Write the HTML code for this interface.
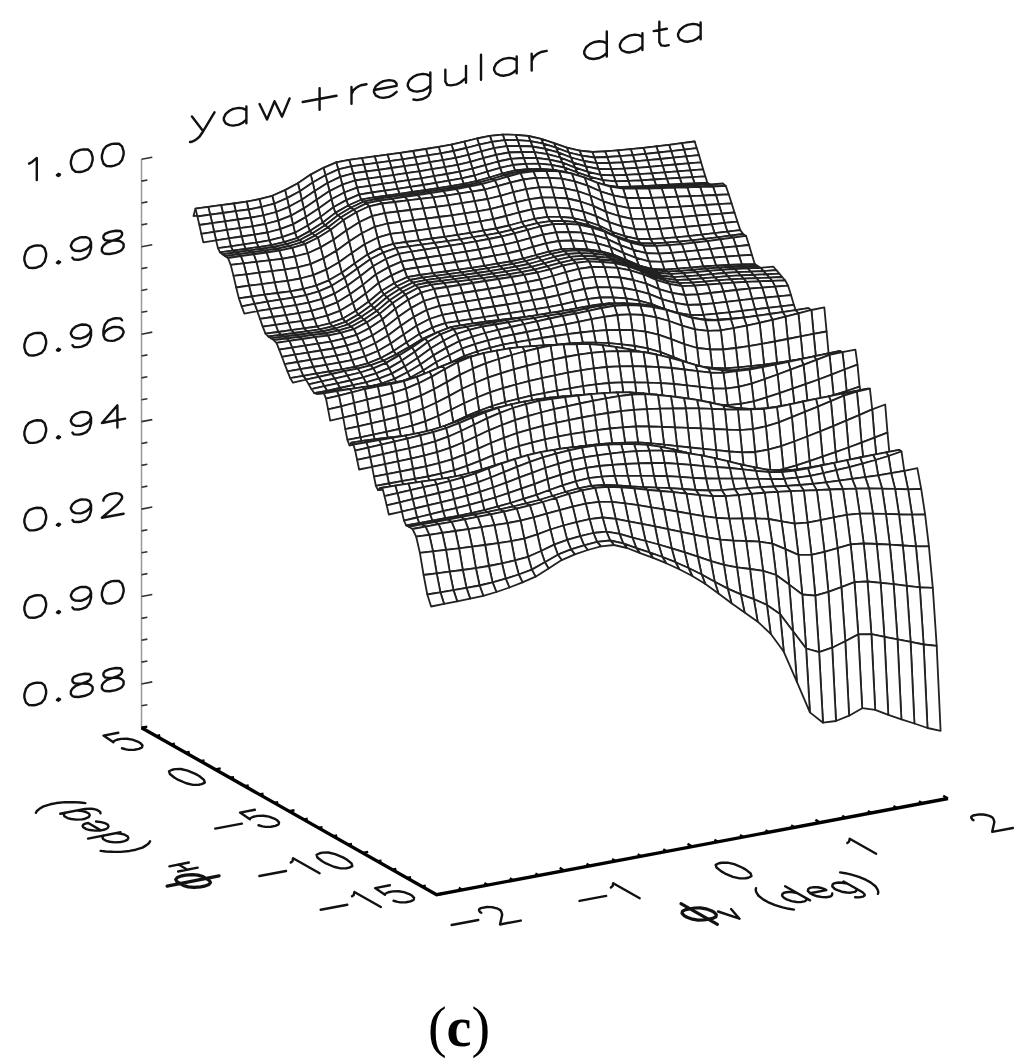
<!DOCTYPE html>
<html><head><meta charset="utf-8"><style>
html,body{margin:0;padding:0;background:#fff;}
svg{display:block;}
text{font-family:"Liberation Serif",serif;fill:#000;}
</style></head><body>
<svg width="1024" height="1063" viewBox="0 0 1024 1063">
<rect width="1024" height="1063" fill="#fff"/>
<g fill="#fff" stroke="#222" stroke-width="1.8" stroke-linejoin="round">
<path d="M679.8 151.0L692.6 149.2 694.7 141.5 681.9 143.2Z"/>
<path d="M667.0 152.6L679.8 151.0 681.9 143.2 669.1 144.8Z"/>
<path d="M681.9 143.2L694.7 141.5 696.8 148.2 684.0 149.6Z"/>
<path d="M654.2 154.2L667.0 152.6 669.1 144.8 656.3 146.3Z"/>
<path d="M669.1 144.8L681.9 143.2 684.0 149.6 671.2 151.1Z"/>
<path d="M684.0 149.6L696.8 148.2 699.0 155.1 686.1 156.4Z"/>
<path d="M641.4 155.7L654.2 154.2 656.3 146.3 643.5 147.8Z"/>
<path d="M656.3 146.3L669.1 144.8 671.2 151.1 658.4 152.5Z"/>
<path d="M671.2 151.1L684.0 149.6 686.1 156.4 673.3 157.7Z"/>
<path d="M686.1 156.4L699.0 155.1 701.1 162.3 688.3 163.4Z"/>
<path d="M628.6 157.2L641.4 155.7 643.5 147.8 630.7 149.2Z"/>
<path d="M643.5 147.8L656.3 146.3 658.4 152.5 645.6 153.9Z"/>
<path d="M658.4 152.5L671.2 151.1 673.3 157.7 660.5 159.0Z"/>
<path d="M673.3 157.7L686.1 156.4 688.3 163.4 675.4 164.5Z"/>
<path d="M688.3 163.4L701.1 162.3 703.2 169.4 690.4 170.4Z"/>
<path d="M615.8 158.4L628.6 157.2 630.7 149.2 617.9 150.4Z"/>
<path d="M630.7 149.2L643.5 147.8 645.6 153.9 632.8 155.1Z"/>
<path d="M645.6 153.9L658.4 152.5 660.5 159.0 647.7 160.2Z"/>
<path d="M660.5 159.0L673.3 157.7 675.4 164.5 662.6 165.6Z"/>
<path d="M675.4 164.5L688.3 163.4 690.4 170.4 677.5 171.3Z"/>
<path d="M690.4 170.4L703.2 169.4 705.3 176.3 692.5 177.1Z"/>
<path d="M603.0 159.4L615.8 158.4 617.9 150.4 605.1 151.3Z"/>
<path d="M617.9 150.4L630.7 149.2 632.8 155.1 620.0 156.2Z"/>
<path d="M632.8 155.1L645.6 153.9 647.7 160.2 634.9 161.4Z"/>
<path d="M647.7 160.2L660.5 159.0 662.6 165.6 649.8 166.8Z"/>
<path d="M662.6 165.6L675.4 164.5 677.5 171.3 664.7 172.3Z"/>
<path d="M677.5 171.3L690.4 170.4 692.5 177.1 679.7 177.9Z"/>
<path d="M692.5 177.1L705.3 176.3 707.4 182.7 694.6 183.3Z"/>
<path d="M710.1 184.5L722.9 183.5 725.8 185.9 713.0 186.5Z"/>
<path d="M590.2 160.1L603.0 159.4 605.1 151.3 592.3 152.0Z"/>
<path d="M605.1 151.3L617.9 150.4 620.0 156.2 607.2 157.0Z"/>
<path d="M620.0 156.2L632.8 155.1 634.9 161.4 622.1 162.3Z"/>
<path d="M694.6 183.3L707.4 182.7 710.1 184.5 697.2 185.0Z"/>
<path d="M634.9 161.4L647.7 160.2 649.8 166.8 637.0 167.8Z"/>
<path d="M649.8 166.8L662.6 165.6 664.7 172.3 651.9 173.3Z"/>
<path d="M664.7 172.3L677.5 171.3 679.7 177.9 666.8 178.7Z"/>
<path d="M679.7 177.9L692.5 177.1 694.6 183.3 681.8 183.9Z"/>
<path d="M713.0 186.5L725.8 185.9 728.7 194.3 715.9 195.0Z"/>
<path d="M697.2 185.0L710.1 184.5 713.0 186.5 700.1 186.9Z"/>
<path d="M577.4 159.1L590.2 160.1 592.3 152.0 579.5 150.6Z"/>
<path d="M592.3 152.0L605.1 151.3 607.2 157.0 594.4 157.5Z"/>
<path d="M607.2 157.0L620.0 156.2 622.1 162.3 609.3 163.0Z"/>
<path d="M681.8 183.9L694.6 183.3 697.2 185.0 684.4 185.5Z"/>
<path d="M622.1 162.3L634.9 161.4 637.0 167.8 624.2 168.7Z"/>
<path d="M637.0 167.8L649.8 166.8 651.9 173.3 639.1 174.2Z"/>
<path d="M651.9 173.3L664.7 172.3 666.8 178.7 654.0 179.5Z"/>
<path d="M666.8 178.7L679.7 177.9 681.8 183.9 668.9 184.6Z"/>
<path d="M715.9 195.0L728.7 194.3 731.6 203.3 718.8 204.2Z"/>
<path d="M700.1 186.9L713.0 186.5 715.9 195.0 703.0 195.6Z"/>
<path d="M684.4 185.5L697.2 185.0 700.1 186.9 687.3 187.3Z"/>
<path d="M564.6 156.4L577.4 159.1 579.5 150.6 566.7 147.7Z"/>
<path d="M579.5 150.6L592.3 152.0 594.4 157.5 581.6 155.6Z"/>
<path d="M594.4 157.5L607.2 157.0 609.3 163.0 596.5 163.2Z"/>
<path d="M668.9 184.6L681.8 183.9 684.4 185.5 671.6 186.1Z"/>
<path d="M609.3 163.0L622.1 162.3 624.2 168.7 611.4 169.2Z"/>
<path d="M624.2 168.7L637.0 167.8 639.1 174.2 626.3 174.9Z"/>
<path d="M639.1 174.2L651.9 173.3 654.0 179.5 641.2 180.4Z"/>
<path d="M654.0 179.5L666.8 178.7 668.9 184.6 656.1 185.4Z"/>
<path d="M718.8 204.2L731.6 203.3 734.5 212.5 721.7 213.6Z"/>
<path d="M703.0 195.6L715.9 195.0 718.8 204.2 705.9 205.0Z"/>
<path d="M687.3 187.3L700.1 186.9 703.0 195.6 690.2 196.1Z"/>
<path d="M671.6 186.1L684.4 185.5 687.3 187.3 674.5 187.7Z"/>
<path d="M551.8 152.0L564.6 156.4 566.7 147.7 553.9 143.1Z"/>
<path d="M566.7 147.7L579.5 150.6 581.6 155.6 568.8 152.5Z"/>
<path d="M581.6 155.6L594.4 157.5 596.5 163.2 583.7 161.0Z"/>
<path d="M656.1 185.4L668.9 184.6 671.6 186.1 658.8 186.8Z"/>
<path d="M596.5 163.2L609.3 163.0 611.4 169.2 598.6 169.0Z"/>
<path d="M611.4 169.2L624.2 168.7 626.3 174.9 613.5 175.4Z"/>
<path d="M626.3 174.9L639.1 174.2 641.2 180.4 628.4 180.9Z"/>
<path d="M641.2 180.4L654.0 179.5 656.1 185.4 643.3 186.1Z"/>
<path d="M721.7 213.6L734.5 212.5 737.4 221.6 724.6 222.9Z"/>
<path d="M705.9 205.0L718.8 204.2 721.7 213.6 708.8 214.7Z"/>
<path d="M690.2 196.1L703.0 195.6 705.9 205.0 693.1 205.8Z"/>
<path d="M674.5 187.7L687.3 187.3 690.2 196.1 677.3 196.7Z"/>
<path d="M658.8 186.8L671.6 186.1 674.5 187.7 661.6 188.2Z"/>
<path d="M539.0 147.6L551.8 152.0 553.9 143.1 541.1 138.9Z"/>
<path d="M553.9 143.1L566.7 147.7 568.8 152.5 556.0 147.6Z"/>
<path d="M568.8 152.5L581.6 155.6 583.7 161.0 570.9 157.5Z"/>
<path d="M643.3 186.1L656.1 185.4 658.8 186.8 645.9 187.5Z"/>
<path d="M583.7 161.0L596.5 163.2 598.6 169.0 585.7 166.4Z"/>
<path d="M598.6 169.0L611.4 169.2 613.5 175.4 600.6 174.8Z"/>
<path d="M613.5 175.4L626.3 174.9 628.4 180.9 615.5 181.3Z"/>
<path d="M628.4 180.9L641.2 180.4 643.3 186.1 630.4 186.6Z"/>
<path d="M724.6 222.9L737.4 221.6 740.3 230.1 727.4 231.7Z"/>
<path d="M708.8 214.7L721.7 213.6 724.6 222.9 711.7 224.3Z"/>
<path d="M693.1 205.8L705.9 205.0 708.8 214.7 696.0 215.7Z"/>
<path d="M677.3 196.7L690.2 196.1 693.1 205.8 680.2 206.6Z"/>
<path d="M661.6 188.2L674.5 187.7 677.3 196.7 664.5 197.3Z"/>
<path d="M645.9 187.5L658.8 186.8 661.6 188.2 648.8 188.6Z"/>
<path d="M526.2 144.6L539.0 147.6 541.1 138.9 528.3 136.0Z"/>
<path d="M541.1 138.9L553.9 143.1 556.0 147.6 543.2 143.7Z"/>
<path d="M556.0 147.6L568.8 152.5 570.9 157.5 558.0 152.4Z"/>
<path d="M630.4 186.6L643.3 186.1 645.9 187.5 633.1 187.9Z"/>
<path d="M570.9 157.5L583.7 161.0 585.7 166.4 572.9 162.6Z"/>
<path d="M585.7 166.4L598.6 169.0 600.6 174.8 587.8 171.8Z"/>
<path d="M600.6 174.8L613.5 175.4 615.5 181.3 602.7 180.2Z"/>
<path d="M615.5 181.3L628.4 180.9 630.4 186.6 617.6 186.8Z"/>
<path d="M727.4 231.7L740.3 230.1 743.2 234.0 730.3 235.7Z"/>
<path d="M711.7 224.3L724.6 222.9 727.4 231.7 714.6 233.2Z"/>
<path d="M696.0 215.7L708.8 214.7 711.7 224.3 698.8 225.6Z"/>
<path d="M680.2 206.6L693.1 205.8 696.0 215.7 683.1 216.8Z"/>
<path d="M664.5 197.3L677.3 196.7 680.2 206.6 667.4 207.3Z"/>
<path d="M648.8 188.6L661.6 188.2 664.5 197.3 651.7 197.8Z"/>
<path d="M633.1 187.9L645.9 187.5 648.8 188.6 636.0 188.7Z"/>
<path d="M513.4 143.1L526.2 144.6 528.3 136.0 515.5 134.8Z"/>
<path d="M528.3 136.0L541.1 138.9 543.2 143.7 530.4 141.1Z"/>
<path d="M543.2 143.7L556.0 147.6 558.0 152.4 545.2 148.9Z"/>
<path d="M617.6 186.8L630.4 186.6 633.1 187.9 620.3 188.0Z"/>
<path d="M558.0 152.4L570.9 157.5 572.9 162.6 560.1 157.5Z"/>
<path d="M572.9 162.6L585.7 166.4 587.8 171.8 575.0 167.6Z"/>
<path d="M587.8 171.8L600.6 174.8 602.7 180.2 589.9 176.9Z"/>
<path d="M602.7 180.2L615.5 181.3 617.6 186.8 604.8 185.2Z"/>
<path d="M730.3 235.7L743.2 234.0 746.1 235.9 733.2 237.7Z"/>
<path d="M714.6 233.2L727.4 231.7 730.3 235.7 717.5 237.3Z"/>
<path d="M698.8 225.6L711.7 224.3 714.6 233.2 701.7 234.7Z"/>
<path d="M683.1 216.8L696.0 215.7 698.8 225.6 686.0 226.8Z"/>
<path d="M667.4 207.3L680.2 206.6 683.1 216.8 670.3 217.7Z"/>
<path d="M651.7 197.8L664.5 197.3 667.4 207.3 654.5 207.9Z"/>
<path d="M636.0 188.7L648.8 188.6 651.7 197.8 638.8 198.0Z"/>
<path d="M620.3 188.0L633.1 187.9 636.0 188.7 623.1 188.6Z"/>
<path d="M500.6 142.8L513.4 143.1 515.5 134.8 502.7 134.6Z"/>
<path d="M515.5 134.8L528.3 136.0 530.4 141.1 517.6 140.2Z"/>
<path d="M530.4 141.1L543.2 143.7 545.2 148.9 532.4 146.5Z"/>
<path d="M604.8 185.2L617.6 186.8 620.3 188.0 607.4 186.1Z"/>
<path d="M545.2 148.9L558.0 152.4 560.1 157.5 547.3 154.2Z"/>
<path d="M560.1 157.5L572.9 162.6 575.0 167.6 562.2 162.5Z"/>
<path d="M575.0 167.6L587.8 171.8 589.9 176.9 577.1 172.4Z"/>
<path d="M589.9 176.9L602.7 180.2 604.8 185.2 592.0 181.7Z"/>
<path d="M733.2 237.7L746.1 235.9 749.0 245.0 736.1 246.4Z"/>
<path d="M717.5 237.3L730.3 235.7 733.2 237.7 720.4 239.4Z"/>
<path d="M701.7 234.7L714.6 233.2 717.5 237.3 704.6 238.9Z"/>
<path d="M686.0 226.8L698.8 225.6 701.7 234.7 688.9 236.2Z"/>
<path d="M670.3 217.7L683.1 216.8 686.0 226.8 673.1 227.9Z"/>
<path d="M654.5 207.9L667.4 207.3 670.3 217.7 657.4 218.4Z"/>
<path d="M638.8 198.0L651.7 197.8 654.5 207.9 641.7 208.2Z"/>
<path d="M623.1 188.6L636.0 188.7 638.8 198.0 626.0 197.9Z"/>
<path d="M607.4 186.1L620.3 188.0 623.1 188.6 610.3 186.6Z"/>
<path d="M487.8 143.8L500.6 142.8 502.7 134.6 489.9 135.9Z"/>
<path d="M502.7 134.6L515.5 134.8 517.6 140.2 504.7 140.2Z"/>
<path d="M517.6 140.2L530.4 141.1 532.4 146.5 519.6 146.0Z"/>
<path d="M592.0 181.7L604.8 185.2 607.4 186.1 594.6 182.4Z"/>
<path d="M532.4 146.5L545.2 148.9 547.3 154.2 534.5 152.2Z"/>
<path d="M547.3 154.2L560.1 157.5 562.2 162.5 549.4 159.6Z"/>
<path d="M562.2 162.5L575.0 167.6 577.1 172.4 564.2 167.5Z"/>
<path d="M577.1 172.4L589.9 176.9 592.0 181.7 579.1 176.8Z"/>
<path d="M736.1 246.4L749.0 245.0 751.9 254.8 739.0 255.7Z"/>
<path d="M720.4 239.4L733.2 237.7 736.1 246.4 723.3 247.7Z"/>
<path d="M704.6 238.9L717.5 237.3 720.4 239.4 707.5 241.1Z"/>
<path d="M688.9 236.2L701.7 234.7 704.6 238.9 691.8 240.4Z"/>
<path d="M673.1 227.9L686.0 226.8 688.9 236.2 676.0 237.4Z"/>
<path d="M657.4 218.4L670.3 217.7 673.1 227.9 660.3 228.8Z"/>
<path d="M641.7 208.2L654.5 207.9 657.4 218.4 644.6 218.9Z"/>
<path d="M626.0 197.9L638.8 198.0 641.7 208.2 628.9 208.1Z"/>
<path d="M610.3 186.6L623.1 188.6 626.0 197.9 613.2 195.3Z"/>
<path d="M594.6 182.4L607.4 186.1 610.3 186.6 597.5 182.9Z"/>
<path d="M475.0 146.2L487.8 143.8 489.9 135.9 477.1 138.5Z"/>
<path d="M489.9 135.9L502.7 134.6 504.7 140.2 491.9 141.9Z"/>
<path d="M504.7 140.2L517.6 140.2 519.6 146.0 506.8 146.2Z"/>
<path d="M579.1 176.8L592.0 181.7 594.6 182.4 581.8 177.3Z"/>
<path d="M519.6 146.0L532.4 146.5 534.5 152.2 521.7 152.0Z"/>
<path d="M534.5 152.2L547.3 154.2 549.4 159.6 536.5 158.0Z"/>
<path d="M549.4 159.6L562.2 162.5 564.2 167.5 551.4 164.8Z"/>
<path d="M564.2 167.5L577.1 172.4 579.1 176.8 566.3 172.2Z"/>
<path d="M739.0 255.7L751.9 254.8 754.8 264.1 741.9 264.5Z"/>
<path d="M723.3 247.7L736.1 246.4 739.0 255.7 726.1 256.6Z"/>
<path d="M707.5 241.1L720.4 239.4 723.3 247.7 710.4 249.1Z"/>
<path d="M691.8 240.4L704.6 238.9 707.5 241.1 694.6 242.7Z"/>
<path d="M676.0 237.4L688.9 236.2 691.8 240.4 678.9 241.7Z"/>
<path d="M660.3 228.8L673.1 227.9 676.0 237.4 663.2 238.4Z"/>
<path d="M644.6 218.9L657.4 218.4 660.3 228.8 647.4 229.3Z"/>
<path d="M628.9 208.1L641.7 208.2 644.6 218.9 631.7 218.8Z"/>
<path d="M613.2 195.3L626.0 197.9 628.9 208.1 616.0 205.4Z"/>
<path d="M597.5 182.9L610.3 186.6 613.2 195.3 600.3 191.3Z"/>
<path d="M581.8 177.3L594.6 182.4 597.5 182.9 584.6 177.7Z"/>
<path d="M462.2 149.3L475.0 146.2 477.1 138.5 464.3 141.6Z"/>
<path d="M477.1 138.5L489.9 135.9 491.9 141.9 479.1 144.7Z"/>
<path d="M491.9 141.9L504.7 140.2 506.8 146.2 494.0 148.2Z"/>
<path d="M566.3 172.2L579.1 176.8 581.8 177.3 568.9 173.0Z"/>
<path d="M506.8 146.2L519.6 146.0 521.7 152.0 508.9 152.5Z"/>
<path d="M521.7 152.0L534.5 152.2 536.5 158.0 523.7 158.0Z"/>
<path d="M536.5 158.0L549.4 159.6 551.4 164.8 538.6 163.6Z"/>
<path d="M551.4 164.8L564.2 167.5 566.3 172.2 553.5 169.8Z"/>
<path d="M741.9 264.5L754.8 264.1 757.7 266.0 744.8 266.5Z"/>
<path d="M726.1 256.6L739.0 255.7 741.9 264.5 729.0 265.0Z"/>
<path d="M710.4 249.1L723.3 247.7 726.1 256.6 713.3 257.6Z"/>
<path d="M694.6 242.7L707.5 241.1 710.4 249.1 697.5 250.4Z"/>
<path d="M678.9 241.7L691.8 240.4 694.6 242.7 681.8 244.1Z"/>
<path d="M663.2 238.4L676.0 237.4 678.9 241.7 666.0 242.7Z"/>
<path d="M647.4 229.3L660.3 228.8 663.2 238.4 650.3 239.1Z"/>
<path d="M631.7 218.8L644.6 218.9 647.4 229.3 634.6 229.2Z"/>
<path d="M616.0 205.4L628.9 208.1 631.7 218.8 618.9 216.0Z"/>
<path d="M600.3 191.3L613.2 195.3 616.0 205.4 603.2 201.3Z"/>
<path d="M584.6 177.7L597.5 182.9 600.3 191.3 587.5 185.6Z"/>
<path d="M568.9 173.0L581.8 177.3 584.6 177.7 571.8 173.7Z"/>
<path d="M449.4 152.3L462.2 149.3 464.3 141.6 451.5 144.6Z"/>
<path d="M464.3 141.6L477.1 138.5 479.1 144.7 466.3 148.0Z"/>
<path d="M479.1 144.7L491.9 141.9 494.0 148.2 481.2 151.3Z"/>
<path d="M553.5 169.8L566.3 172.2 568.9 173.0 556.1 170.6Z"/>
<path d="M494.0 148.2L506.8 146.2 508.9 152.5 496.0 154.8Z"/>
<path d="M508.9 152.5L521.7 152.0 523.7 158.0 510.9 158.8Z"/>
<path d="M523.7 158.0L536.5 158.0 538.6 163.6 525.8 163.8Z"/>
<path d="M538.6 163.6L551.4 164.8 553.5 169.8 540.7 168.9Z"/>
<path d="M760.6 267.8L773.5 266.7 776.4 270.2 763.5 271.1Z"/>
<path d="M744.8 266.5L757.7 266.0 760.6 267.8 747.7 268.4Z"/>
<path d="M729.0 265.0L741.9 264.5 744.8 266.5 731.9 267.0Z"/>
<path d="M713.3 257.6L726.1 256.6 729.0 265.0 716.1 265.6Z"/>
<path d="M697.5 250.4L710.4 249.1 713.3 257.6 700.4 258.6Z"/>
<path d="M681.8 244.1L694.6 242.7 697.5 250.4 684.6 251.7Z"/>
<path d="M666.0 242.7L678.9 241.7 681.8 244.1 668.9 245.1Z"/>
<path d="M650.3 239.1L663.2 238.4 666.0 242.7 653.2 243.5Z"/>
<path d="M634.6 229.2L647.4 229.3 650.3 239.1 637.5 239.0Z"/>
<path d="M618.9 216.0L631.7 218.8 634.6 229.2 621.7 226.4Z"/>
<path d="M603.2 201.3L616.0 205.4 618.9 216.0 606.0 211.9Z"/>
<path d="M587.5 185.6L600.3 191.3 603.2 201.3 590.3 195.5Z"/>
<path d="M571.8 173.7L584.6 177.7 587.5 185.6 574.6 181.3Z"/>
<path d="M556.1 170.6L568.9 173.0 571.8 173.7 559.0 171.4Z"/>
<path d="M436.6 154.7L449.4 152.3 451.5 144.6 438.7 146.9Z"/>
<path d="M451.5 144.6L464.3 141.6 466.3 148.0 453.5 151.0Z"/>
<path d="M466.3 148.0L479.1 144.7 481.2 151.3 468.4 154.8Z"/>
<path d="M540.7 168.9L553.5 169.8 556.1 170.6 543.3 169.9Z"/>
<path d="M481.2 151.3L494.0 148.2 496.0 154.8 483.2 158.2Z"/>
<path d="M496.0 154.8L508.9 152.5 510.9 158.8 498.1 161.5Z"/>
<path d="M510.9 158.8L523.7 158.0 525.8 163.8 513.0 165.0Z"/>
<path d="M525.8 163.8L538.6 163.6 540.7 168.9 527.8 169.1Z"/>
<path d="M763.5 271.1L776.4 270.2 779.3 273.6 766.4 274.3Z"/>
<path d="M747.7 268.4L760.6 267.8 763.5 271.1 750.6 271.6Z"/>
<path d="M731.9 267.0L744.8 266.5 747.7 268.4 734.8 269.0Z"/>
<path d="M716.1 265.6L729.0 265.0 731.9 267.0 719.0 267.7Z"/>
<path d="M700.4 258.6L713.3 257.6 716.1 265.6 703.3 266.5Z"/>
<path d="M684.6 251.7L697.5 250.4 700.4 258.6 687.5 259.8Z"/>
<path d="M668.9 245.1L681.8 244.1 684.6 251.7 671.8 252.8Z"/>
<path d="M653.2 243.5L666.0 242.7 668.9 245.1 656.0 245.9Z"/>
<path d="M637.5 239.0L650.3 239.1 653.2 243.5 640.3 243.2Z"/>
<path d="M621.7 226.4L634.6 229.2 637.5 239.0 624.6 236.1Z"/>
<path d="M606.0 211.9L618.9 216.0 621.7 226.4 608.9 222.2Z"/>
<path d="M590.3 195.5L603.2 201.3 606.0 211.9 593.2 205.9Z"/>
<path d="M574.6 181.3L587.5 185.6 590.3 195.5 577.5 191.1Z"/>
<path d="M559.0 171.4L571.8 173.7 574.6 181.3 561.8 178.6Z"/>
<path d="M543.3 169.9L556.1 170.6 559.0 171.4 546.1 170.9Z"/>
<path d="M423.8 156.8L436.6 154.7 438.7 146.9 425.9 149.0Z"/>
<path d="M438.7 146.9L451.5 144.6 453.5 151.0 440.7 153.3Z"/>
<path d="M453.5 151.0L466.3 148.0 468.4 154.8 455.6 157.8Z"/>
<path d="M527.8 169.1L540.7 168.9 543.3 169.9 530.4 170.2Z"/>
<path d="M468.4 154.8L481.2 151.3 483.2 158.2 470.4 161.8Z"/>
<path d="M483.2 158.2L496.0 154.8 498.1 161.5 485.3 165.1Z"/>
<path d="M498.1 161.5L510.9 158.8 513.0 165.0 500.1 167.9Z"/>
<path d="M513.0 165.0L525.8 163.8 527.8 169.1 515.0 170.5Z"/>
<path d="M766.4 274.3L779.3 273.6 782.2 277.0 769.3 277.6Z"/>
<path d="M750.6 271.6L763.5 271.1 766.4 274.3 753.5 274.9Z"/>
<path d="M734.8 269.0L747.7 268.4 750.6 271.6 737.7 272.2Z"/>
<path d="M719.0 267.7L731.9 267.0 734.8 269.0 721.9 269.8Z"/>
<path d="M703.3 266.5L716.1 265.6 719.0 267.7 706.1 268.7Z"/>
<path d="M687.5 259.8L700.4 258.6 703.3 266.5 690.4 267.6Z"/>
<path d="M671.8 252.8L684.6 251.7 687.5 259.8 674.6 260.9Z"/>
<path d="M656.0 245.9L668.9 245.1 671.8 252.8 658.9 253.6Z"/>
<path d="M640.3 243.2L653.2 243.5 656.0 245.9 643.2 245.5Z"/>
<path d="M624.6 236.1L637.5 239.0 640.3 243.2 627.5 240.2Z"/>
<path d="M608.9 222.2L621.7 226.4 624.6 236.1 611.7 231.8Z"/>
<path d="M593.2 205.9L606.0 211.9 608.9 222.2 596.0 216.1Z"/>
<path d="M577.5 191.1L590.3 195.5 593.2 205.9 580.3 201.5Z"/>
<path d="M561.8 178.6L574.6 181.3 577.5 191.1 564.6 188.3Z"/>
<path d="M546.1 170.9L559.0 171.4 561.8 178.6 549.0 177.8Z"/>
<path d="M530.4 170.2L543.3 169.9 546.1 170.9 533.3 171.3Z"/>
<path d="M411.1 158.8L423.8 156.8 425.9 149.0 413.1 151.0Z"/>
<path d="M425.9 149.0L438.7 146.9 440.7 153.3 427.9 155.4Z"/>
<path d="M440.7 153.3L453.5 151.0 455.6 157.8 442.8 160.1Z"/>
<path d="M515.0 170.5L527.8 169.1 530.4 170.2 517.6 171.8Z"/>
<path d="M455.6 157.8L468.4 154.8 470.4 161.8 457.6 164.8Z"/>
<path d="M470.4 161.8L483.2 158.2 485.3 165.1 472.5 168.7Z"/>
<path d="M485.3 165.1L498.1 161.5 500.1 167.9 487.3 171.7Z"/>
<path d="M500.1 167.9L513.0 165.0 515.0 170.5 502.2 173.7Z"/>
<path d="M769.3 277.6L782.2 277.0 785.1 280.3 772.2 280.9Z"/>
<path d="M753.5 274.9L766.4 274.3 769.3 277.6 756.4 278.1Z"/>
<path d="M737.7 272.2L750.6 271.6 753.5 274.9 740.6 275.4Z"/>
<path d="M721.9 269.8L734.8 269.0 737.7 272.2 724.8 273.0Z"/>
<path d="M706.1 268.7L719.0 267.7 721.9 269.8 709.0 270.8Z"/>
<path d="M690.4 267.6L703.3 266.5 706.1 268.7 693.3 269.9Z"/>
<path d="M674.6 260.9L687.5 259.8 690.4 267.6 677.5 268.7Z"/>
<path d="M658.9 253.6L671.8 252.8 674.6 260.9 661.8 261.8Z"/>
<path d="M643.2 245.5L656.0 245.9 658.9 253.6 646.0 253.1Z"/>
<path d="M627.5 240.2L640.3 243.2 643.2 245.5 630.3 242.5Z"/>
<path d="M611.7 231.8L624.6 236.1 627.5 240.2 614.6 235.7Z"/>
<path d="M596.0 216.1L608.9 222.2 611.7 231.8 598.9 225.5Z"/>
<path d="M580.3 201.5L593.2 205.9 596.0 216.1 583.2 211.7Z"/>
<path d="M564.6 188.3L577.5 191.1 580.3 201.5 567.5 198.5Z"/>
<path d="M549.0 177.8L561.8 178.6 564.6 188.3 551.8 187.4Z"/>
<path d="M533.3 171.3L546.1 170.9 549.0 177.8 536.1 177.8Z"/>
<path d="M517.6 171.8L530.4 170.2 533.3 171.3 520.4 173.1Z"/>
<path d="M398.3 160.7L411.1 158.8 413.1 151.0 400.3 152.9Z"/>
<path d="M772.2 280.9L785.1 280.3 788.1 285.7 775.1 286.7Z"/>
<path d="M413.1 151.0L425.9 149.0 427.9 155.4 415.1 157.4Z"/>
<path d="M427.9 155.4L440.7 153.3 442.8 160.1 429.9 162.2Z"/>
<path d="M502.2 173.7L515.0 170.5 517.6 171.8 504.8 175.1Z"/>
<path d="M442.8 160.1L455.6 157.8 457.6 164.8 444.8 167.1Z"/>
<path d="M457.6 164.8L470.4 161.8 472.5 168.7 459.6 171.7Z"/>
<path d="M472.5 168.7L485.3 165.1 487.3 171.7 474.5 175.5Z"/>
<path d="M487.3 171.7L500.1 167.9 502.2 173.7 489.4 177.5Z"/>
<path d="M756.4 278.1L769.3 277.6 772.2 280.9 759.3 281.3Z"/>
<path d="M740.6 275.4L753.5 274.9 756.4 278.1 743.5 278.6Z"/>
<path d="M724.8 273.0L737.7 272.2 740.6 275.4 727.7 276.2Z"/>
<path d="M709.0 270.8L721.9 269.8 724.8 273.0 711.9 274.1Z"/>
<path d="M693.3 269.9L706.1 268.7 709.0 270.8 696.2 272.1Z"/>
<path d="M677.5 268.7L690.4 267.6 693.3 269.9 680.4 270.9Z"/>
<path d="M661.8 261.8L674.6 260.9 677.5 268.7 664.6 269.7Z"/>
<path d="M646.0 253.1L658.9 253.6 661.8 261.8 648.9 261.3Z"/>
<path d="M630.3 242.5L643.2 245.5 646.0 253.1 633.2 249.9Z"/>
<path d="M614.6 235.7L627.5 240.2 630.3 242.5 617.5 237.8Z"/>
<path d="M598.9 225.5L611.7 231.8 614.6 235.7 601.7 229.5Z"/>
<path d="M583.2 211.7L596.0 216.1 598.9 225.5 586.0 221.1Z"/>
<path d="M567.5 198.5L580.3 201.5 583.2 211.7 570.3 208.6Z"/>
<path d="M551.8 187.4L564.6 188.3 567.5 198.5 554.6 197.6Z"/>
<path d="M536.1 177.8L549.0 177.8 551.8 187.4 539.0 187.4Z"/>
<path d="M520.4 173.1L533.3 171.3 536.1 177.8 523.3 179.5Z"/>
<path d="M775.1 286.7L788.1 285.7 791.0 295.1 778.1 296.3Z"/>
<path d="M504.8 175.1L517.6 171.8 520.4 173.1 507.6 176.6Z"/>
<path d="M385.5 162.5L398.3 160.7 400.3 152.9 387.5 154.7Z"/>
<path d="M759.3 281.3L772.2 280.9 775.1 286.7 762.2 287.6Z"/>
<path d="M400.3 152.9L413.1 151.0 415.1 157.4 402.3 159.3Z"/>
<path d="M415.1 157.4L427.9 155.4 429.9 162.2 417.1 164.3Z"/>
<path d="M489.4 177.5L502.2 173.7 504.8 175.1 492.0 179.0Z"/>
<path d="M429.9 162.2L442.8 160.1 444.8 167.1 432.0 169.2Z"/>
<path d="M444.8 167.1L457.6 164.8 459.6 171.7 446.8 174.0Z"/>
<path d="M459.6 171.7L472.5 168.7 474.5 175.5 461.7 178.4Z"/>
<path d="M474.5 175.5L487.3 171.7 489.4 177.5 476.5 181.1Z"/>
<path d="M743.5 278.6L756.4 278.1 759.3 281.3 746.4 281.9Z"/>
<path d="M727.7 276.2L740.6 275.4 743.5 278.6 730.6 279.4Z"/>
<path d="M711.9 274.1L724.8 273.0 727.7 276.2 714.8 277.3Z"/>
<path d="M696.2 272.1L709.0 270.8 711.9 274.1 699.0 275.3Z"/>
<path d="M680.4 270.9L693.3 269.9 696.2 272.1 683.3 273.2Z"/>
<path d="M664.6 269.7L677.5 268.7 680.4 270.9 667.5 271.6Z"/>
<path d="M648.9 261.3L661.8 261.8 664.6 269.7 651.8 268.9Z"/>
<path d="M633.2 249.9L646.0 253.1 648.9 261.3 636.0 257.9Z"/>
<path d="M617.5 237.8L630.3 242.5 633.2 249.9 620.3 245.1Z"/>
<path d="M601.7 229.5L614.6 235.7 617.5 237.8 604.6 231.7Z"/>
<path d="M586.0 221.1L598.9 225.5 601.7 229.5 588.9 225.1Z"/>
<path d="M570.3 208.6L583.2 211.7 586.0 221.1 573.2 218.0Z"/>
<path d="M554.6 197.6L567.5 198.5 570.3 208.6 557.5 207.6Z"/>
<path d="M539.0 187.4L551.8 187.4 554.6 197.6 541.8 197.5Z"/>
<path d="M523.3 179.5L536.1 177.8 539.0 187.4 526.1 189.1Z"/>
<path d="M778.1 296.3L791.0 295.1 793.9 304.9 781.0 306.4Z"/>
<path d="M507.6 176.6L520.4 173.1 523.3 179.5 510.4 182.6Z"/>
<path d="M762.2 287.6L775.1 286.7 778.1 296.3 765.2 297.6Z"/>
<path d="M492.0 179.0L504.8 175.1 507.6 176.6 494.8 180.5Z"/>
<path d="M372.7 164.2L385.5 162.5 387.5 154.7 374.7 156.4Z"/>
<path d="M746.4 281.9L759.3 281.3 762.2 287.6 749.3 288.7Z"/>
<path d="M387.5 154.7L400.3 152.9 402.3 159.3 389.5 161.1Z"/>
<path d="M402.3 159.3L415.1 157.4 417.1 164.3 404.3 166.2Z"/>
<path d="M476.5 181.1L489.4 177.5 492.0 179.0 479.1 182.7Z"/>
<path d="M417.1 164.3L429.9 162.2 432.0 169.2 419.2 171.3Z"/>
<path d="M432.0 169.2L444.8 167.1 446.8 174.0 434.0 176.2Z"/>
<path d="M446.8 174.0L459.6 171.7 461.7 178.4 448.8 180.7Z"/>
<path d="M461.7 178.4L474.5 175.5 476.5 181.1 463.7 183.8Z"/>
<path d="M730.6 279.4L743.5 278.6 746.4 281.9 733.5 282.6Z"/>
<path d="M714.8 277.3L727.7 276.2 730.6 279.4 717.7 280.4Z"/>
<path d="M699.0 275.3L711.9 274.1 714.8 277.3 701.9 278.4Z"/>
<path d="M683.3 273.2L696.2 272.1 699.0 275.3 686.2 276.3Z"/>
<path d="M667.5 271.6L680.4 270.9 683.3 273.2 670.4 274.1Z"/>
<path d="M651.8 268.9L664.6 269.7 667.5 271.6 654.6 270.4Z"/>
<path d="M636.0 257.9L648.9 261.3 651.8 268.9 638.9 265.5Z"/>
<path d="M620.3 245.1L633.2 249.9 636.0 257.9 623.2 252.9Z"/>
<path d="M604.6 231.7L617.5 237.8 620.3 245.1 607.4 239.1Z"/>
<path d="M588.9 225.1L601.7 229.5 604.6 231.7 591.7 227.6Z"/>
<path d="M573.2 218.0L586.0 221.1 588.9 225.1 576.0 222.1Z"/>
<path d="M557.5 207.6L570.3 208.6 573.2 218.0 560.3 216.9Z"/>
<path d="M541.8 197.5L554.6 197.6 557.5 207.6 544.6 207.5Z"/>
<path d="M526.1 189.1L539.0 187.4 541.8 197.5 528.9 199.3Z"/>
<path d="M781.0 306.4L793.9 304.9 796.8 313.8 783.9 315.5Z"/>
<path d="M510.4 182.6L523.3 179.5 526.1 189.1 513.3 192.2Z"/>
<path d="M765.2 297.6L778.1 296.3 781.0 306.4 768.1 307.8Z"/>
<path d="M494.8 180.5L507.6 176.6 510.4 182.6 497.6 186.2Z"/>
<path d="M749.3 288.7L762.2 287.6 765.2 297.6 752.2 298.9Z"/>
<path d="M479.1 182.7L492.0 179.0 494.8 180.5 481.9 184.1Z"/>
<path d="M359.9 165.9L372.7 164.2 374.7 156.4 361.9 158.1Z"/>
<path d="M733.5 282.6L746.4 281.9 749.3 288.7 736.4 290.0Z"/>
<path d="M374.7 156.4L387.5 154.7 389.5 161.1 376.7 162.8Z"/>
<path d="M389.5 161.1L402.3 159.3 404.3 166.2 391.5 168.0Z"/>
<path d="M463.7 183.8L476.5 181.1 479.1 182.7 466.3 185.3Z"/>
<path d="M404.3 166.2L417.1 164.3 419.2 171.3 406.3 173.2Z"/>
<path d="M419.2 171.3L432.0 169.2 434.0 176.2 421.2 178.3Z"/>
<path d="M434.0 176.2L446.8 174.0 448.8 180.7 436.0 182.9Z"/>
<path d="M448.8 180.7L461.7 178.4 463.7 183.8 450.9 186.1Z"/>
<path d="M717.7 280.4L730.6 279.4 733.5 282.6 720.6 283.6Z"/>
<path d="M701.9 278.4L714.8 277.3 717.7 280.4 704.8 281.6Z"/>
<path d="M686.2 276.3L699.0 275.3 701.9 278.4 689.0 279.5Z"/>
<path d="M670.4 274.1L683.3 273.2 686.2 276.3 673.3 277.2Z"/>
<path d="M654.6 270.4L667.5 271.6 670.4 274.1 657.5 272.7Z"/>
<path d="M638.9 265.5L651.8 268.9 654.6 270.4 641.7 266.7Z"/>
<path d="M623.2 252.9L636.0 257.9 638.9 265.5 626.0 260.2Z"/>
<path d="M607.4 239.1L620.3 245.1 623.2 252.9 610.3 247.1Z"/>
<path d="M591.7 227.6L604.6 231.7 607.4 239.1 594.6 235.2Z"/>
<path d="M576.0 222.1L588.9 225.1 591.7 227.6 578.9 224.7Z"/>
<path d="M560.3 216.9L573.2 218.0 576.0 222.1 563.2 221.0Z"/>
<path d="M544.6 207.5L557.5 207.6 560.3 216.9 547.5 216.9Z"/>
<path d="M528.9 199.3L541.8 197.5 544.6 207.5 531.8 209.4Z"/>
<path d="M783.9 315.5L796.8 313.8 799.7 314.5 786.8 316.3Z"/>
<path d="M513.3 192.2L526.1 189.1 528.9 199.3 516.1 202.4Z"/>
<path d="M768.1 307.8L781.0 306.4 783.9 315.5 771.0 317.3Z"/>
<path d="M497.6 186.2L510.4 182.6 513.3 192.2 500.4 195.8Z"/>
<path d="M752.2 298.9L765.2 297.6 768.1 307.8 755.1 309.3Z"/>
<path d="M481.9 184.1L494.8 180.5 497.6 186.2 484.8 189.5Z"/>
<path d="M736.4 290.0L749.3 288.7 752.2 298.9 739.3 300.3Z"/>
<path d="M466.3 185.3L479.1 182.7 481.9 184.1 469.1 186.7Z"/>
<path d="M347.1 167.6L359.9 165.9 361.9 158.1 349.1 159.8Z"/>
<path d="M720.6 283.6L733.5 282.6 736.4 290.0 723.5 291.5Z"/>
<path d="M361.9 158.1L374.7 156.4 376.7 162.8 363.9 164.6Z"/>
<path d="M376.7 162.8L389.5 161.1 391.5 168.0 378.7 169.8Z"/>
<path d="M450.9 186.1L463.7 183.8 466.3 185.3 453.5 187.6Z"/>
<path d="M391.5 168.0L404.3 166.2 406.3 173.2 393.5 175.1Z"/>
<path d="M406.3 173.2L419.2 171.3 421.2 178.3 408.4 180.2Z"/>
<path d="M421.2 178.3L434.0 176.2 436.0 182.9 423.2 185.0Z"/>
<path d="M436.0 182.9L448.8 180.7 450.9 186.1 438.1 188.2Z"/>
<path d="M704.8 281.6L717.7 280.4 720.6 283.6 707.7 284.7Z"/>
<path d="M689.0 279.5L701.9 278.4 704.8 281.6 691.9 282.6Z"/>
<path d="M673.3 277.2L686.2 276.3 689.0 279.5 676.2 280.2Z"/>
<path d="M657.5 272.7L670.4 274.1 673.3 277.2 660.4 275.4Z"/>
<path d="M641.7 266.7L654.6 270.4 657.5 272.7 644.6 269.1Z"/>
<path d="M626.0 260.2L638.9 265.5 641.7 266.7 628.9 261.2Z"/>
<path d="M610.3 247.1L623.2 252.9 626.0 260.2 613.1 254.6Z"/>
<path d="M594.6 235.2L607.4 239.1 610.3 247.1 597.4 243.4Z"/>
<path d="M578.9 224.7L591.7 227.6 594.6 235.2 581.7 232.7Z"/>
<path d="M563.2 221.0L576.0 222.1 578.9 224.7 566.0 223.9Z"/>
<path d="M547.5 216.9L560.3 216.9 563.2 221.0 550.3 221.1Z"/>
<path d="M531.8 209.4L544.6 207.5 547.5 216.9 534.6 218.8Z"/>
<path d="M786.8 316.3L799.7 314.5 802.6 312.6 789.7 314.4Z"/>
<path d="M516.1 202.4L528.9 199.3 531.8 209.4 518.9 212.5Z"/>
<path d="M771.0 317.3L783.9 315.5 786.8 316.3 773.9 318.1Z"/>
<path d="M500.4 195.8L513.3 192.2 516.1 202.4 503.2 205.9Z"/>
<path d="M755.1 309.3L768.1 307.8 771.0 317.3 758.0 318.9Z"/>
<path d="M484.8 189.5L497.6 186.2 500.4 195.8 487.6 199.0Z"/>
<path d="M739.3 300.3L752.2 298.9 755.1 309.3 742.2 310.9Z"/>
<path d="M469.1 186.7L481.9 184.1 484.8 189.5 471.9 191.7Z"/>
<path d="M723.5 291.5L736.4 290.0 739.3 300.3 726.4 301.8Z"/>
<path d="M453.5 187.6L466.3 185.3 469.1 186.7 456.3 189.0Z"/>
<path d="M334.3 169.8L347.1 167.6 349.1 159.8 336.3 162.4Z"/>
<path d="M707.7 284.7L720.6 283.6 723.5 291.5 710.6 293.0Z"/>
<path d="M349.1 159.8L361.9 158.1 363.9 164.6 351.1 166.3Z"/>
<path d="M363.9 164.6L376.7 162.8 378.7 169.8 365.9 171.5Z"/>
<path d="M438.1 188.2L450.9 186.1 453.5 187.6 440.6 189.7Z"/>
<path d="M378.7 169.8L391.5 168.0 393.5 175.1 380.7 176.9Z"/>
<path d="M393.5 175.1L406.3 173.2 408.4 180.2 395.5 182.1Z"/>
<path d="M408.4 180.2L421.2 178.3 423.2 185.0 410.4 186.9Z"/>
<path d="M423.2 185.0L436.0 182.9 438.1 188.2 425.2 190.2Z"/>
<path d="M691.9 282.6L704.8 281.6 707.7 284.7 694.8 285.7Z"/>
<path d="M676.2 280.2L689.0 279.5 691.9 282.6 679.0 283.2Z"/>
<path d="M660.4 275.4L673.3 277.2 676.2 280.2 663.3 278.2Z"/>
<path d="M644.6 269.1L657.5 272.7 660.4 275.4 647.5 271.7Z"/>
<path d="M628.9 261.2L641.7 266.7 644.6 269.1 631.7 263.4Z"/>
<path d="M613.1 254.6L626.0 260.2 628.9 261.2 616.0 255.9Z"/>
<path d="M597.4 243.4L610.3 247.1 613.1 254.6 600.3 251.2Z"/>
<path d="M581.7 232.7L594.6 235.2 597.4 243.4 584.5 241.2Z"/>
<path d="M566.0 223.9L578.9 224.7 581.7 232.7 568.8 232.0Z"/>
<path d="M550.3 221.1L563.2 221.0 566.0 223.9 553.1 224.2Z"/>
<path d="M534.6 218.8L547.5 216.9 550.3 221.1 537.4 223.2Z"/>
<path d="M789.7 314.4L802.6 312.6 805.5 309.9 792.6 311.6Z"/>
<path d="M518.9 212.5L531.8 209.4 534.6 218.8 521.8 222.0Z"/>
<path d="M773.9 318.1L786.8 316.3 789.7 314.4 776.8 316.1Z"/>
<path d="M503.2 205.9L516.1 202.4 518.9 212.5 506.1 216.0Z"/>
<path d="M758.0 318.9L771.0 317.3 773.9 318.1 760.9 319.9Z"/>
<path d="M487.6 199.0L500.4 195.8 503.2 205.9 490.4 209.1Z"/>
<path d="M742.2 310.9L755.1 309.3 758.0 318.9 745.1 320.5Z"/>
<path d="M471.9 191.7L484.8 189.5 487.6 199.0 474.7 201.2Z"/>
<path d="M726.4 301.8L739.3 300.3 742.2 310.9 729.3 312.4Z"/>
<path d="M456.3 189.0L469.1 186.7 471.9 191.7 459.1 193.7Z"/>
<path d="M710.6 293.0L723.5 291.5 726.4 301.8 713.5 303.3Z"/>
<path d="M440.6 189.7L453.5 187.6 456.3 189.0 443.4 191.2Z"/>
<path d="M321.5 175.0L334.3 169.8 336.3 162.4 323.5 167.8Z"/>
<path d="M694.8 285.7L707.7 284.7 710.6 293.0 697.7 294.3Z"/>
<path d="M336.3 162.4L349.1 159.8 351.1 166.3 338.3 169.4Z"/>
<path d="M351.1 166.3L363.9 164.6 365.9 171.5 353.1 173.3Z"/>
<path d="M425.2 190.2L438.1 188.2 440.6 189.7 427.8 191.7Z"/>
<path d="M365.9 171.5L378.7 169.8 380.7 176.9 367.9 178.7Z"/>
<path d="M380.7 176.9L393.5 175.1 395.5 182.1 382.7 183.9Z"/>
<path d="M395.5 182.1L408.4 180.2 410.4 186.9 397.6 188.8Z"/>
<path d="M410.4 186.9L423.2 185.0 425.2 190.2 412.4 192.0Z"/>
<path d="M679.0 283.2L691.9 282.6 694.8 285.7 681.9 286.1Z"/>
<path d="M663.3 278.2L676.2 280.2 679.0 283.2 666.1 280.9Z"/>
<path d="M647.5 271.7L660.4 275.4 663.3 278.2 650.4 274.3Z"/>
<path d="M631.7 263.4L644.6 269.1 647.5 271.7 634.6 265.9Z"/>
<path d="M616.0 255.9L628.9 261.2 631.7 263.4 618.8 258.4Z"/>
<path d="M600.3 251.2L613.1 254.6 616.0 255.9 603.1 252.6Z"/>
<path d="M584.5 241.2L597.4 243.4 600.3 251.2 587.4 249.3Z"/>
<path d="M568.8 232.0L581.7 232.7 584.5 241.2 571.7 240.5Z"/>
<path d="M553.1 224.2L566.0 223.9 568.8 232.0 556.0 232.3Z"/>
<path d="M537.4 223.2L550.3 221.1 553.1 224.2 540.3 226.5Z"/>
<path d="M792.6 311.6L805.5 309.9 808.5 308.2 795.5 310.1Z"/>
<path d="M521.8 222.0L534.6 218.8 537.4 223.2 524.6 226.4Z"/>
<path d="M776.8 316.1L789.7 314.4 792.6 311.6 779.7 313.3Z"/>
<path d="M506.1 216.0L518.9 212.5 521.8 222.0 508.9 225.5Z"/>
<path d="M760.9 319.9L773.9 318.1 776.8 316.1 763.9 317.7Z"/>
<path d="M490.4 209.1L503.2 205.9 506.1 216.0 493.2 219.1Z"/>
<path d="M745.1 320.5L758.0 318.9 760.9 319.9 748.0 321.5Z"/>
<path d="M474.7 201.2L487.6 199.0 490.4 209.1 477.6 211.3Z"/>
<path d="M729.3 312.4L742.2 310.9 745.1 320.5 732.2 322.0Z"/>
<path d="M459.1 193.7L471.9 191.7 474.7 201.2 461.9 203.2Z"/>
<path d="M713.5 303.3L726.4 301.8 729.3 312.4 716.4 313.7Z"/>
<path d="M443.4 191.2L456.3 189.0 459.1 193.7 446.2 195.6Z"/>
<path d="M697.7 294.3L710.6 293.0 713.5 303.3 700.6 304.5Z"/>
<path d="M427.8 191.7L440.6 189.7 443.4 191.2 430.6 193.2Z"/>
<path d="M308.7 181.5L321.5 175.0 323.5 167.8 310.7 174.6Z"/>
<path d="M681.9 286.1L694.8 285.7 697.7 294.3 684.8 295.0Z"/>
<path d="M323.5 167.8L336.3 162.4 338.3 169.4 325.5 175.2Z"/>
<path d="M338.3 169.4L351.1 166.3 353.1 173.3 340.3 176.9Z"/>
<path d="M412.4 192.0L425.2 190.2 427.8 191.7 415.0 193.6Z"/>
<path d="M353.1 173.3L365.9 171.5 367.9 178.7 355.1 180.5Z"/>
<path d="M367.9 178.7L380.7 176.9 382.7 183.9 369.9 185.8Z"/>
<path d="M382.7 183.9L395.5 182.1 397.6 188.8 384.7 190.7Z"/>
<path d="M397.6 188.8L410.4 186.9 412.4 192.0 399.6 193.8Z"/>
<path d="M666.1 280.9L679.0 283.2 681.9 286.1 669.0 283.8Z"/>
<path d="M650.4 274.3L663.3 278.2 666.1 280.9 653.2 276.9Z"/>
<path d="M634.6 265.9L647.5 271.7 650.4 274.3 637.5 268.3Z"/>
<path d="M618.8 258.4L631.7 263.4 634.6 265.9 621.7 261.0Z"/>
<path d="M603.1 252.6L616.0 255.9 618.8 258.4 606.0 255.2Z"/>
<path d="M587.4 249.3L600.3 251.2 603.1 252.6 590.2 251.0Z"/>
<path d="M571.7 240.5L584.5 241.2 587.4 249.3 574.5 248.6Z"/>
<path d="M556.0 232.3L568.8 232.0 571.7 240.5 558.8 241.0Z"/>
<path d="M811.4 310.0L824.3 307.3 826.6 331.5 813.6 333.8Z"/>
<path d="M540.3 226.5L553.1 224.2 556.0 232.3 543.1 234.7Z"/>
<path d="M795.5 310.1L808.5 308.2 811.4 310.0 798.4 313.4Z"/>
<path d="M524.6 226.4L537.4 223.2 540.3 226.5 527.4 229.8Z"/>
<path d="M779.7 313.3L792.6 311.6 795.5 310.1 782.6 312.1Z"/>
<path d="M508.9 225.5L521.8 222.0 524.6 226.4 511.7 229.9Z"/>
<path d="M763.9 317.7L776.8 316.1 779.7 313.3 766.8 314.9Z"/>
<path d="M493.2 219.1L506.1 216.0 508.9 225.5 496.0 228.5Z"/>
<path d="M748.0 321.5L760.9 319.9 763.9 317.7 750.9 319.3Z"/>
<path d="M477.6 211.3L490.4 209.1 493.2 219.1 480.4 221.3Z"/>
<path d="M732.2 322.0L745.1 320.5 748.0 321.5 735.1 323.0Z"/>
<path d="M461.9 203.2L474.7 201.2 477.6 211.3 464.7 213.3Z"/>
<path d="M716.4 313.7L729.3 312.4 732.2 322.0 719.3 323.2Z"/>
<path d="M446.2 195.6L459.1 193.7 461.9 203.2 449.1 205.1Z"/>
<path d="M700.6 304.5L713.5 303.3 716.4 313.7 703.5 314.8Z"/>
<path d="M430.6 193.2L443.4 191.2 446.2 195.6 433.4 197.3Z"/>
<path d="M684.8 295.0L697.7 294.3 700.6 304.5 687.7 305.0Z"/>
<path d="M415.0 193.6L427.8 191.7 430.6 193.2 417.8 195.1Z"/>
<path d="M295.9 189.9L308.7 181.5 310.7 174.6 297.9 183.2Z"/>
<path d="M669.0 283.8L681.9 286.1 684.8 295.0 671.9 292.8Z"/>
<path d="M310.7 174.6L323.5 167.8 325.5 175.2 312.7 182.5Z"/>
<path d="M325.5 175.2L338.3 169.4 340.3 176.9 327.5 183.0Z"/>
<path d="M399.6 193.8L412.4 192.0 415.0 193.6 402.1 195.4Z"/>
<path d="M340.3 176.9L353.1 173.3 355.1 180.5 342.3 184.7Z"/>
<path d="M355.1 180.5L367.9 178.7 369.9 185.8 357.1 187.7Z"/>
<path d="M369.9 185.8L382.7 183.9 384.7 190.7 371.9 192.5Z"/>
<path d="M384.7 190.7L397.6 188.8 399.6 193.8 386.7 195.6Z"/>
<path d="M653.2 276.9L666.1 280.9 669.0 283.8 656.1 280.0Z"/>
<path d="M637.5 268.3L650.4 274.3 653.2 276.9 640.3 270.8Z"/>
<path d="M621.7 261.0L634.6 265.9 637.5 268.3 624.6 263.6Z"/>
<path d="M606.0 255.2L618.8 258.4 621.7 261.0 608.8 257.8Z"/>
<path d="M590.2 251.0L603.1 252.6 606.0 255.2 593.1 253.7Z"/>
<path d="M574.5 248.6L587.4 249.3 590.2 251.0 577.3 250.4Z"/>
<path d="M558.8 241.0L571.7 240.5 574.5 248.6 561.6 249.1Z"/>
<path d="M543.1 234.7L556.0 232.3 558.8 241.0 545.9 243.4Z"/>
<path d="M813.6 333.8L826.6 331.5 828.8 355.6 815.9 357.4Z"/>
<path d="M798.4 313.4L811.4 310.0 813.6 333.8 800.7 336.4Z"/>
<path d="M527.4 229.8L540.3 226.5 543.1 234.7 530.2 238.1Z"/>
<path d="M782.6 312.1L795.5 310.1 798.4 313.4 785.5 316.6Z"/>
<path d="M511.7 229.9L524.6 226.4 527.4 229.8 514.5 233.4Z"/>
<path d="M766.8 314.9L779.7 313.3 782.6 312.1 769.7 314.0Z"/>
<path d="M496.0 228.5L508.9 225.5 511.7 229.9 498.9 232.8Z"/>
<path d="M750.9 319.3L763.9 317.7 766.8 314.9 753.8 316.5Z"/>
<path d="M480.4 221.3L493.2 219.1 496.0 228.5 483.2 230.7Z"/>
<path d="M735.1 323.0L748.0 321.5 750.9 319.3 738.0 320.6Z"/>
<path d="M464.7 213.3L477.6 211.3 480.4 221.3 467.5 223.4Z"/>
<path d="M719.3 323.2L732.2 322.0 735.1 323.0 722.2 324.2Z"/>
<path d="M449.1 205.1L461.9 203.2 464.7 213.3 451.9 215.3Z"/>
<path d="M703.5 314.8L716.4 313.7 719.3 323.2 706.4 324.2Z"/>
<path d="M433.4 197.3L446.2 195.6 449.1 205.1 436.2 206.8Z"/>
<path d="M687.7 305.0L700.6 304.5 703.5 314.8 690.6 315.1Z"/>
<path d="M417.8 195.1L430.6 193.2 433.4 197.3 420.6 198.9Z"/>
<path d="M671.9 292.8L684.8 295.0 687.7 305.0 674.8 302.8Z"/>
<path d="M402.1 195.4L415.0 193.6 417.8 195.1 404.9 196.9Z"/>
<path d="M283.1 197.0L295.9 189.9 297.9 183.2 285.1 190.1Z"/>
<path d="M656.1 280.0L669.0 283.8 671.9 292.8 659.0 289.2Z"/>
<path d="M297.9 183.2L310.7 174.6 312.7 182.5 299.9 191.2Z"/>
<path d="M312.7 182.5L325.5 175.2 327.5 183.0 314.7 191.0Z"/>
<path d="M386.7 195.6L399.6 193.8 402.1 195.4 389.3 197.2Z"/>
<path d="M327.5 183.0L340.3 176.9 342.3 184.7 329.5 191.1Z"/>
<path d="M342.3 184.7L355.1 180.5 357.1 187.7 344.3 192.5Z"/>
<path d="M357.1 187.7L369.9 185.8 371.9 192.5 359.1 194.6Z"/>
<path d="M371.9 192.5L384.7 190.7 386.7 195.6 373.9 197.4Z"/>
<path d="M640.3 270.8L653.2 276.9 656.1 280.0 643.2 274.3Z"/>
<path d="M624.6 263.6L637.5 268.3 640.3 270.8 627.4 266.2Z"/>
<path d="M608.8 257.8L621.7 261.0 624.6 263.6 611.7 260.5Z"/>
<path d="M593.1 253.7L606.0 255.2 608.8 257.8 595.9 256.5Z"/>
<path d="M577.3 250.4L590.2 251.0 593.1 253.7 580.2 253.1Z"/>
<path d="M561.6 249.1L574.5 248.6 577.3 250.4 564.5 251.1Z"/>
<path d="M545.9 243.4L558.8 241.0 561.6 249.1 548.8 251.7Z"/>
<path d="M530.2 238.1L543.1 234.7 545.9 243.4 533.1 246.9Z"/>
<path d="M815.9 357.4L828.8 355.6 831.1 356.9 818.2 359.7Z"/>
<path d="M800.7 336.4L813.6 333.8 815.9 357.4 802.9 359.2Z"/>
<path d="M785.5 316.6L798.4 313.4 800.7 336.4 787.7 339.0Z"/>
<path d="M514.5 233.4L527.4 229.8 530.2 238.1 517.4 241.7Z"/>
<path d="M769.7 314.0L782.6 312.1 785.5 316.6 772.5 319.8Z"/>
<path d="M498.9 232.8L511.7 229.9 514.5 233.4 501.7 236.5Z"/>
<path d="M753.8 316.5L766.8 314.9 769.7 314.0 756.7 315.9Z"/>
<path d="M483.2 230.7L496.0 228.5 498.9 232.8 486.0 235.1Z"/>
<path d="M738.0 320.6L750.9 319.3 753.8 316.5 740.9 317.9Z"/>
<path d="M467.5 223.4L480.4 221.3 483.2 230.7 470.3 232.9Z"/>
<path d="M722.2 324.2L735.1 323.0 738.0 320.6 725.1 321.7Z"/>
<path d="M451.9 215.3L464.7 213.3 467.5 223.4 454.7 225.4Z"/>
<path d="M706.4 324.2L719.3 323.2 722.2 324.2 709.3 325.1Z"/>
<path d="M436.2 206.8L449.1 205.1 451.9 215.3 439.0 217.0Z"/>
<path d="M690.6 315.1L703.5 314.8 706.4 324.2 693.5 324.2Z"/>
<path d="M420.6 198.9L433.4 197.3 436.2 206.8 423.4 208.4Z"/>
<path d="M674.8 302.8L687.7 305.0 690.6 315.1 677.7 312.8Z"/>
<path d="M404.9 196.9L417.8 195.1 420.6 198.9 407.7 200.4Z"/>
<path d="M659.0 289.2L671.9 292.8 674.8 302.8 661.9 299.2Z"/>
<path d="M389.3 197.2L402.1 195.4 404.9 196.9 392.1 198.8Z"/>
<path d="M270.3 203.0L283.1 197.0 285.1 190.1 272.3 195.8Z"/>
<path d="M643.2 274.3L656.1 280.0 659.0 289.2 646.1 283.7Z"/>
<path d="M285.1 190.1L297.9 183.2 299.9 191.2 287.0 198.1Z"/>
<path d="M299.9 191.2L312.7 182.5 314.7 191.0 301.8 199.7Z"/>
<path d="M373.9 197.4L386.7 195.6 389.3 197.2 376.5 199.0Z"/>
<path d="M314.7 191.0L327.5 183.0 329.5 191.1 316.6 199.8Z"/>
<path d="M329.5 191.1L342.3 184.7 344.3 192.5 331.5 199.3Z"/>
<path d="M344.3 192.5L357.1 187.7 359.1 194.6 346.3 200.1Z"/>
<path d="M359.1 194.6L371.9 192.5 373.9 197.4 361.1 199.7Z"/>
<path d="M627.4 266.2L640.3 270.8 643.2 274.3 630.3 270.4Z"/>
<path d="M611.7 260.5L624.6 263.6 627.4 266.2 614.6 263.2Z"/>
<path d="M595.9 256.5L608.8 257.8 611.7 260.5 598.8 259.3Z"/>
<path d="M580.2 253.1L593.1 253.7 595.9 256.5 583.0 255.9Z"/>
<path d="M564.5 251.1L577.3 250.4 580.2 253.1 567.3 254.0Z"/>
<path d="M548.8 251.7L561.6 249.1 564.5 251.1 551.6 253.9Z"/>
<path d="M533.1 246.9L545.9 243.4 548.8 251.7 535.9 255.2Z"/>
<path d="M517.4 241.7L530.2 238.1 533.1 246.9 520.2 250.5Z"/>
<path d="M818.2 359.7L831.1 356.9 833.4 356.1 820.4 358.8Z"/>
<path d="M802.9 359.2L815.9 357.4 818.2 359.7 805.2 362.5Z"/>
<path d="M787.7 339.0L800.7 336.4 802.9 359.2 790.0 361.0Z"/>
<path d="M772.5 319.8L785.5 316.6 787.7 339.0 774.8 341.5Z"/>
<path d="M501.7 236.5L514.5 233.4 517.4 241.7 504.5 244.7Z"/>
<path d="M756.7 315.9L769.7 314.0 772.5 319.8 759.6 322.8Z"/>
<path d="M486.0 235.1L498.9 232.8 501.7 236.5 488.8 239.0Z"/>
<path d="M740.9 317.9L753.8 316.5 756.7 315.9 743.8 317.6Z"/>
<path d="M470.3 232.9L483.2 230.7 486.0 235.1 473.1 237.2Z"/>
<path d="M725.1 321.7L738.0 320.6 740.9 317.9 728.0 319.0Z"/>
<path d="M454.7 225.4L467.5 223.4 470.3 232.9 457.5 234.9Z"/>
<path d="M709.3 325.1L722.2 324.2 725.1 321.7 712.1 322.5Z"/>
<path d="M439.0 217.0L451.9 215.3 454.7 225.4 441.8 227.2Z"/>
<path d="M693.5 324.2L706.4 324.2 709.3 325.1 696.3 325.0Z"/>
<path d="M423.4 208.4L436.2 206.8 439.0 217.0 426.2 218.6Z"/>
<path d="M677.7 312.8L690.6 315.1 693.5 324.2 680.5 322.0Z"/>
<path d="M407.7 200.4L420.6 198.9 423.4 208.4 410.5 210.0Z"/>
<path d="M661.9 299.2L674.8 302.8 677.7 312.8 664.7 309.3Z"/>
<path d="M392.1 198.8L404.9 196.9 407.7 200.4 394.9 202.0Z"/>
<path d="M646.1 283.7L659.0 289.2 661.9 299.2 649.0 293.9Z"/>
<path d="M376.5 199.0L389.3 197.2 392.1 198.8 379.3 200.6Z"/>
<path d="M257.5 206.5L270.3 203.0 272.3 195.8 259.5 199.2Z"/>
<path d="M630.3 270.4L643.2 274.3 646.1 283.7 633.2 280.0Z"/>
<path d="M272.3 195.8L285.1 190.1 287.0 198.1 274.2 203.7Z"/>
<path d="M287.0 198.1L299.9 191.2 301.8 199.7 289.0 206.8Z"/>
<path d="M361.1 199.7L373.9 197.4 376.5 199.0 363.6 201.6Z"/>
<path d="M301.8 199.7L314.7 191.0 316.6 199.8 303.8 208.4Z"/>
<path d="M316.6 199.8L329.5 191.1 331.5 199.3 318.6 208.5Z"/>
<path d="M331.5 199.3L344.3 192.5 346.3 200.1 333.4 207.2Z"/>
<path d="M346.3 200.1L359.1 194.6 361.1 199.7 348.3 205.5Z"/>
<path d="M614.6 263.2L627.4 266.2 630.3 270.4 617.4 267.8Z"/>
<path d="M598.8 259.3L611.7 260.5 614.6 263.2 601.7 262.0Z"/>
<path d="M583.0 255.9L595.9 256.5 598.8 259.3 585.9 258.6Z"/>
<path d="M567.3 254.0L580.2 253.1 583.0 255.9 570.2 256.9Z"/>
<path d="M551.6 253.9L564.5 251.1 567.3 254.0 554.4 256.9Z"/>
<path d="M535.9 255.2L548.8 251.7 551.6 253.9 538.7 257.5Z"/>
<path d="M520.2 250.5L533.1 246.9 535.9 255.2 523.0 258.7Z"/>
<path d="M504.5 244.7L517.4 241.7 520.2 250.5 507.3 253.4Z"/>
<path d="M820.4 358.8L833.4 356.1 835.6 354.0 822.7 356.6Z"/>
<path d="M805.2 362.5L818.2 359.7 820.4 358.8 807.5 361.5Z"/>
<path d="M790.0 361.0L802.9 359.2 805.2 362.5 792.2 365.3Z"/>
<path d="M774.8 341.5L787.7 339.0 790.0 361.0 777.0 362.9Z"/>
<path d="M759.6 322.8L772.5 319.8 774.8 341.5 761.9 343.9Z"/>
<path d="M488.8 239.0L501.7 236.5 504.5 244.7 491.6 247.2Z"/>
<path d="M743.8 317.6L756.7 315.9 759.6 322.8 746.7 325.6Z"/>
<path d="M473.1 237.2L486.0 235.1 488.8 239.0 475.9 241.4Z"/>
<path d="M728.0 319.0L740.9 317.9 743.8 317.6 730.8 319.2Z"/>
<path d="M457.5 234.9L470.3 232.9 473.1 237.2 460.3 239.3Z"/>
<path d="M712.1 322.5L725.1 321.7 728.0 319.0 715.0 319.9Z"/>
<path d="M441.8 227.2L454.7 225.4 457.5 234.9 444.6 236.8Z"/>
<path d="M696.3 325.0L709.3 325.1 712.1 322.5 699.2 322.0Z"/>
<path d="M426.2 218.6L439.0 217.0 441.8 227.2 429.0 228.9Z"/>
<path d="M680.5 322.0L693.5 324.2 696.3 325.0 683.4 322.6Z"/>
<path d="M410.5 210.0L423.4 208.4 426.2 218.6 413.3 220.2Z"/>
<path d="M664.7 309.3L677.7 312.8 680.5 322.0 667.6 318.5Z"/>
<path d="M394.9 202.0L407.7 200.4 410.5 210.0 397.7 211.5Z"/>
<path d="M649.0 293.9L661.9 299.2 664.7 309.3 651.8 304.2Z"/>
<path d="M379.3 200.6L392.1 198.8 394.9 202.0 382.0 203.5Z"/>
<path d="M633.2 280.0L646.1 283.7 649.0 293.9 636.1 290.4Z"/>
<path d="M363.6 201.6L376.5 199.0 379.3 200.6 366.4 203.4Z"/>
<path d="M244.7 209.2L257.5 206.5 259.5 199.2 246.7 201.7Z"/>
<path d="M617.4 267.8L630.3 270.4 633.2 280.0 620.3 277.5Z"/>
<path d="M259.5 199.2L272.3 195.8 274.2 203.7 261.4 207.0Z"/>
<path d="M274.2 203.7L287.0 198.1 289.0 206.8 276.2 212.0Z"/>
<path d="M348.3 205.5L361.1 199.7 363.6 201.6 350.8 207.7Z"/>
<path d="M289.0 206.8L301.8 199.7 303.8 208.4 291.0 215.7Z"/>
<path d="M303.8 208.4L316.6 199.8 318.6 208.5 305.8 217.1Z"/>
<path d="M318.6 208.5L331.5 199.3 333.4 207.2 320.6 216.9Z"/>
<path d="M333.4 207.2L346.3 200.1 348.3 205.5 335.4 212.9Z"/>
<path d="M601.7 262.0L614.6 263.2 617.4 267.8 604.5 267.2Z"/>
<path d="M585.9 258.6L598.8 259.3 601.7 262.0 588.8 261.4Z"/>
<path d="M570.2 256.9L583.0 255.9 585.9 258.6 573.0 259.8Z"/>
<path d="M554.4 256.9L567.3 254.0 570.2 256.9 557.3 259.8Z"/>
<path d="M538.7 257.5L551.6 253.9 554.4 256.9 541.5 260.5Z"/>
<path d="M523.0 258.7L535.9 255.2 538.7 257.5 525.8 261.1Z"/>
<path d="M507.3 253.4L520.2 250.5 523.0 258.7 510.1 261.5Z"/>
<path d="M491.6 247.2L504.5 244.7 507.3 253.4 494.4 255.7Z"/>
<path d="M822.7 356.6L835.6 354.0 837.9 351.9 824.9 354.5Z"/>
<path d="M807.5 361.5L820.4 358.8 822.7 356.6 809.7 359.2Z"/>
<path d="M792.2 365.3L805.2 362.5 807.5 361.5 794.5 364.2Z"/>
<path d="M777.0 362.9L790.0 361.0 792.2 365.3 779.3 368.0Z"/>
<path d="M761.9 343.9L774.8 341.5 777.0 362.9 764.1 364.7Z"/>
<path d="M746.7 325.6L759.6 322.8 761.9 343.9 748.9 346.1Z"/>
<path d="M475.9 241.4L488.8 239.0 491.6 247.2 478.8 249.5Z"/>
<path d="M730.8 319.2L743.8 317.6 746.7 325.6 733.7 328.2Z"/>
<path d="M460.3 239.3L473.1 237.2 475.9 241.4 463.1 243.6Z"/>
<path d="M715.0 319.9L728.0 319.0 730.8 319.2 717.9 320.4Z"/>
<path d="M444.6 236.8L457.5 234.9 460.3 239.3 447.4 241.1Z"/>
<path d="M699.2 322.0L712.1 322.5 715.0 319.9 702.1 319.4Z"/>
<path d="M429.0 228.9L441.8 227.2 444.6 236.8 431.8 238.5Z"/>
<path d="M683.4 322.6L696.3 325.0 699.2 322.0 686.3 319.4Z"/>
<path d="M413.3 220.2L426.2 218.6 429.0 228.9 416.1 230.6Z"/>
<path d="M667.6 318.5L680.5 322.0 683.4 322.6 670.5 318.8Z"/>
<path d="M397.7 211.5L410.5 210.0 413.3 220.2 400.5 221.9Z"/>
<path d="M651.8 304.2L664.7 309.3 667.6 318.5 654.7 313.5Z"/>
<path d="M382.0 203.5L394.9 202.0 397.7 211.5 384.8 213.1Z"/>
<path d="M636.1 290.4L649.0 293.9 651.8 304.2 638.9 300.7Z"/>
<path d="M366.4 203.4L379.3 200.6 382.0 203.5 369.2 206.3Z"/>
<path d="M620.3 277.5L633.2 280.0 636.1 290.4 623.1 288.0Z"/>
<path d="M350.8 207.7L363.6 201.6 366.4 203.4 353.6 209.7Z"/>
<path d="M231.9 211.0L244.7 209.2 246.7 201.7 233.9 203.5Z"/>
<path d="M604.5 267.2L617.4 267.8 620.3 277.5 607.4 276.9Z"/>
<path d="M246.7 201.7L259.5 199.2 261.4 207.0 248.6 209.5Z"/>
<path d="M261.4 207.0L274.2 203.7 276.2 212.0 263.4 215.4Z"/>
<path d="M335.4 212.9L348.3 205.5 350.8 207.7 338.0 215.3Z"/>
<path d="M276.2 212.0L289.0 206.8 291.0 215.7 278.2 220.7Z"/>
<path d="M291.0 215.7L303.8 208.4 305.8 217.1 293.0 224.4Z"/>
<path d="M305.8 217.1L318.6 208.5 320.6 216.9 307.8 225.5Z"/>
<path d="M320.6 216.9L333.4 207.2 335.4 212.9 322.6 222.8Z"/>
<path d="M588.8 261.4L601.7 262.0 604.5 267.2 591.6 267.0Z"/>
<path d="M573.0 259.8L585.9 258.6 588.8 261.4 575.9 262.8Z"/>
<path d="M557.3 259.8L570.2 256.9 573.0 259.8 560.1 262.8Z"/>
<path d="M541.5 260.5L554.4 256.9 557.3 259.8 544.4 263.4Z"/>
<path d="M525.8 261.1L538.7 257.5 541.5 260.5 528.6 264.0Z"/>
<path d="M510.1 261.5L523.0 258.7 525.8 261.1 512.9 263.9Z"/>
<path d="M494.4 255.7L507.3 253.4 510.1 261.5 497.2 263.7Z"/>
<path d="M824.9 354.5L837.9 351.9 840.2 351.0 827.2 353.7Z"/>
<path d="M478.8 249.5L491.6 247.2 494.4 255.7 481.6 258.0Z"/>
<path d="M809.7 359.2L822.7 356.6 824.9 354.5 812.0 357.0Z"/>
<path d="M794.5 364.2L807.5 361.5 809.7 359.2 796.8 361.8Z"/>
<path d="M779.3 368.0L792.2 365.3 794.5 364.2 781.5 366.9Z"/>
<path d="M764.1 364.7L777.0 362.9 779.3 368.0 766.3 370.6Z"/>
<path d="M748.9 346.1L761.9 343.9 764.1 364.7 751.2 366.2Z"/>
<path d="M733.7 328.2L746.7 325.6 748.9 346.1 736.0 348.0Z"/>
<path d="M463.1 243.6L475.9 241.4 478.8 249.5 465.9 251.7Z"/>
<path d="M717.9 320.4L730.8 319.2 733.7 328.2 720.8 330.3Z"/>
<path d="M447.4 241.1L460.3 239.3 463.1 243.6 450.2 245.7Z"/>
<path d="M702.1 319.4L715.0 319.9 717.9 320.4 705.0 320.1Z"/>
<path d="M431.8 238.5L444.6 236.8 447.4 241.1 434.6 242.9Z"/>
<path d="M686.3 319.4L699.2 322.0 702.1 319.4 689.2 317.0Z"/>
<path d="M416.1 230.6L429.0 228.9 431.8 238.5 418.9 240.3Z"/>
<path d="M670.5 318.8L683.4 322.6 686.3 319.4 673.4 315.4Z"/>
<path d="M400.5 221.9L413.3 220.2 416.1 230.6 403.3 232.3Z"/>
<path d="M654.7 313.5L667.6 318.5 670.5 318.8 657.6 313.8Z"/>
<path d="M384.8 213.1L397.7 211.5 400.5 221.9 387.6 223.5Z"/>
<path d="M638.9 300.7L651.8 304.2 654.7 313.5 641.8 310.1Z"/>
<path d="M369.2 206.3L382.0 203.5 384.8 213.1 372.0 216.1Z"/>
<path d="M623.1 288.0L636.1 290.4 638.9 300.7 626.0 298.3Z"/>
<path d="M353.6 209.7L366.4 203.4 369.2 206.3 356.4 212.3Z"/>
<path d="M607.4 276.9L620.3 277.5 623.1 288.0 610.2 287.3Z"/>
<path d="M338.0 215.3L350.8 207.7 353.6 209.7 340.8 217.6Z"/>
<path d="M219.1 212.7L231.9 211.0 233.9 203.5 221.1 205.2Z"/>
<path d="M591.6 267.0L604.5 267.2 607.4 276.9 594.5 276.8Z"/>
<path d="M233.9 203.5L246.7 201.7 248.6 209.5 235.8 211.2Z"/>
<path d="M248.6 209.5L261.4 207.0 263.4 215.4 250.6 217.7Z"/>
<path d="M322.6 222.8L335.4 212.9 338.0 215.3 325.2 225.3Z"/>
<path d="M263.4 215.4L276.2 212.0 278.2 220.7 265.4 224.0Z"/>
<path d="M278.2 220.7L291.0 215.7 293.0 224.4 280.2 229.2Z"/>
<path d="M293.0 224.4L305.8 217.1 307.8 225.5 295.0 232.7Z"/>
<path d="M307.8 225.5L320.6 216.9 322.6 222.8 309.8 231.1Z"/>
<path d="M575.9 262.8L588.8 261.4 591.6 267.0 578.7 268.9Z"/>
<path d="M560.1 262.8L573.0 259.8 575.9 262.8 563.0 265.7Z"/>
<path d="M544.4 263.4L557.3 259.8 560.1 262.8 547.2 266.3Z"/>
<path d="M528.6 264.0L541.5 260.5 544.4 263.4 531.5 266.9Z"/>
<path d="M512.9 263.9L525.8 261.1 528.6 264.0 515.8 266.6Z"/>
<path d="M497.2 263.7L510.1 261.5 512.9 263.9 500.1 266.2Z"/>
<path d="M481.6 258.0L494.4 255.7 497.2 263.7 484.4 265.9Z"/>
<path d="M842.4 352.2L855.4 349.6 857.5 364.6 844.5 369.5Z"/>
<path d="M827.2 353.7L840.2 351.0 842.4 352.2 829.5 354.9Z"/>
<path d="M812.0 357.0L824.9 354.5 827.2 353.7 814.2 356.4Z"/>
<path d="M465.9 251.7L478.8 249.5 481.6 258.0 468.7 260.1Z"/>
<path d="M796.8 361.8L809.7 359.2 812.0 357.0 799.0 359.5Z"/>
<path d="M781.5 366.9L794.5 364.2 796.8 361.8 783.8 364.3Z"/>
<path d="M766.3 370.6L779.3 368.0 781.5 366.9 768.6 369.4Z"/>
<path d="M751.2 366.2L764.1 364.7 766.3 370.6 753.4 373.1Z"/>
<path d="M736.0 348.0L748.9 346.1 751.2 366.2 738.2 367.4Z"/>
<path d="M720.8 330.3L733.7 328.2 736.0 348.0 723.0 349.5Z"/>
<path d="M450.2 245.7L463.1 243.6 465.9 251.7 453.0 253.7Z"/>
<path d="M705.0 320.1L717.9 320.4 720.8 330.3 707.8 330.8Z"/>
<path d="M434.6 242.9L447.4 241.1 450.2 245.7 437.4 247.7Z"/>
<path d="M689.2 317.0L702.1 319.4 705.0 320.1 692.0 317.8Z"/>
<path d="M418.9 240.3L431.8 238.5 434.6 242.9 421.7 244.7Z"/>
<path d="M673.4 315.4L686.3 319.4 689.2 317.0 676.2 313.0Z"/>
<path d="M403.3 232.3L416.1 230.6 418.9 240.3 406.0 242.0Z"/>
<path d="M657.6 313.8L670.5 318.8 673.4 315.4 660.4 310.3Z"/>
<path d="M387.6 223.5L400.5 221.9 403.3 232.3 390.4 233.9Z"/>
<path d="M641.8 310.1L654.7 313.5 657.6 313.8 644.6 310.4Z"/>
<path d="M372.0 216.1L384.8 213.1 387.6 223.5 374.8 226.8Z"/>
<path d="M626.0 298.3L638.9 300.7 641.8 310.1 628.9 307.7Z"/>
<path d="M356.4 212.3L369.2 206.3 372.0 216.1 359.2 222.3Z"/>
<path d="M610.2 287.3L623.1 288.0 626.0 298.3 613.1 297.5Z"/>
<path d="M340.8 217.6L353.6 209.7 356.4 212.3 343.5 220.1Z"/>
<path d="M594.5 276.8L607.4 276.9 610.2 287.3 597.3 287.2Z"/>
<path d="M325.2 225.3L338.0 215.3 340.8 217.6 327.9 227.5Z"/>
<path d="M206.3 214.4L219.1 212.7 221.1 205.2 208.3 206.9Z"/>
<path d="M578.7 268.9L591.6 267.0 594.5 276.8 581.6 278.7Z"/>
<path d="M221.1 205.2L233.9 203.5 235.8 211.2 223.0 213.0Z"/>
<path d="M235.8 211.2L248.6 209.5 250.6 217.7 237.8 219.5Z"/>
<path d="M309.8 231.1L322.6 222.8 325.2 225.3 312.3 233.4Z"/>
<path d="M250.6 217.7L263.4 215.4 265.4 224.0 252.6 226.3Z"/>
<path d="M265.4 224.0L278.2 220.7 280.2 229.2 267.4 232.5Z"/>
<path d="M280.2 229.2L293.0 224.4 295.0 232.7 282.2 237.2Z"/>
<path d="M295.0 232.7L307.8 225.5 309.8 231.1 297.0 238.1Z"/>
<path d="M563.0 265.7L575.9 262.8 578.7 268.9 565.8 272.2Z"/>
<path d="M547.2 266.3L560.1 262.8 563.0 265.7 550.1 269.3Z"/>
<path d="M531.5 266.9L544.4 263.4 547.2 266.3 534.3 269.7Z"/>
<path d="M515.8 266.6L528.6 264.0 531.5 266.9 518.6 269.4Z"/>
<path d="M500.1 266.2L512.9 263.9 515.8 266.6 502.9 268.9Z"/>
<path d="M484.4 265.9L497.2 263.7 500.1 266.2 487.2 268.4Z"/>
<path d="M468.7 260.1L481.6 258.0 484.4 265.9 471.5 267.9Z"/>
<path d="M829.5 354.9L842.4 352.2 844.5 369.5 831.5 374.6Z"/>
<path d="M814.2 356.4L827.2 353.7 829.5 354.9 816.5 359.9Z"/>
<path d="M844.5 369.5L857.5 364.6 859.6 386.7 846.6 391.0Z"/>
<path d="M799.0 359.5L812.0 357.0 814.2 356.4 801.3 359.1Z"/>
<path d="M453.0 253.7L465.9 251.7 468.7 260.1 455.8 262.0Z"/>
<path d="M783.8 364.3L796.8 361.8 799.0 359.5 786.0 362.0Z"/>
<path d="M768.6 369.4L781.5 366.9 783.8 364.3 770.8 366.7Z"/>
<path d="M753.4 373.1L766.3 370.6 768.6 369.4 755.6 371.9Z"/>
<path d="M738.2 367.4L751.2 366.2 753.4 373.1 740.4 375.3Z"/>
<path d="M723.0 349.5L736.0 348.0 738.2 367.4 725.3 368.3Z"/>
<path d="M707.8 330.8L720.8 330.3 723.0 349.5 710.1 349.4Z"/>
<path d="M437.4 247.7L450.2 245.7 453.0 253.7 440.1 255.6Z"/>
<path d="M692.0 317.8L705.0 320.1 707.8 330.8 694.9 329.4Z"/>
<path d="M421.7 244.7L434.6 242.9 437.4 247.7 424.5 249.7Z"/>
<path d="M676.2 313.0L689.2 317.0 692.0 317.8 679.1 314.0Z"/>
<path d="M406.0 242.0L418.9 240.3 421.7 244.7 408.8 246.4Z"/>
<path d="M660.4 310.3L673.4 315.4 676.2 313.0 663.3 308.5Z"/>
<path d="M390.4 233.9L403.3 232.3 406.0 242.0 393.2 243.8Z"/>
<path d="M644.6 310.4L657.6 313.8 660.4 310.3 647.5 306.8Z"/>
<path d="M374.8 226.8L387.6 223.5 390.4 233.9 377.6 237.7Z"/>
<path d="M628.9 307.7L641.8 310.1 644.6 310.4 631.7 307.9Z"/>
<path d="M359.2 222.3L372.0 216.1 374.8 226.8 361.9 233.2Z"/>
<path d="M613.1 297.5L626.0 298.3 628.9 307.7 615.9 306.9Z"/>
<path d="M343.5 220.1L356.4 212.3 359.2 222.3 346.3 230.4Z"/>
<path d="M597.3 287.2L610.2 287.3 613.1 297.5 600.2 297.5Z"/>
<path d="M327.9 227.5L340.8 217.6 343.5 220.1 330.7 229.8Z"/>
<path d="M581.6 278.7L594.5 276.8 597.3 287.2 584.4 289.0Z"/>
<path d="M312.3 233.4L325.2 225.3 327.9 227.5 315.1 235.6Z"/>
<path d="M193.5 216.1L206.3 214.4 208.3 206.9 195.5 208.6Z"/>
<path d="M565.8 272.2L578.7 268.9 581.6 278.7 568.7 281.8Z"/>
<path d="M208.3 206.9L221.1 205.2 223.0 213.0 210.2 214.7Z"/>
<path d="M223.0 213.0L235.8 211.2 237.8 219.5 225.0 221.3Z"/>
<path d="M297.0 238.1L309.8 231.1 312.3 233.4 299.5 240.2Z"/>
<path d="M237.8 219.5L250.6 217.7 252.6 226.3 239.8 228.1Z"/>
<path d="M252.6 226.3L265.4 224.0 267.4 232.5 254.5 234.7Z"/>
<path d="M267.4 232.5L280.2 229.2 282.2 237.2 269.3 240.4Z"/>
<path d="M282.2 237.2L295.0 232.7 297.0 238.1 284.1 242.2Z"/>
<path d="M550.1 269.3L563.0 265.7 565.8 272.2 552.9 276.0Z"/>
<path d="M534.3 269.7L547.2 266.3 550.1 269.3 537.2 272.5Z"/>
<path d="M518.6 269.4L531.5 266.9 534.3 269.7 521.4 272.1Z"/>
<path d="M502.9 268.9L515.8 266.6 518.6 269.4 505.7 271.6Z"/>
<path d="M487.2 268.4L500.1 266.2 502.9 268.9 490.0 271.1Z"/>
<path d="M471.5 267.9L484.4 265.9 487.2 268.4 474.3 270.4Z"/>
<path d="M455.8 262.0L468.7 260.1 471.5 267.9 458.6 269.7Z"/>
<path d="M816.5 359.9L829.5 354.9 831.5 374.6 818.6 379.5Z"/>
<path d="M801.3 359.1L814.2 356.4 816.5 359.9 803.5 364.9Z"/>
<path d="M831.5 374.6L844.5 369.5 846.6 391.0 833.6 395.2Z"/>
<path d="M786.0 362.0L799.0 359.5 801.3 359.1 788.3 361.8Z"/>
<path d="M846.6 391.0L859.6 386.7 861.6 395.9 848.7 398.5Z"/>
<path d="M440.1 255.6L453.0 253.7 455.8 262.0 442.9 263.8Z"/>
<path d="M770.8 366.7L783.8 364.3 786.0 362.0 773.1 364.4Z"/>
<path d="M755.6 371.9L768.6 369.4 770.8 366.7 757.9 369.0Z"/>
<path d="M740.4 375.3L753.4 373.1 755.6 371.9 742.7 374.0Z"/>
<path d="M725.3 368.3L738.2 367.4 740.4 375.3 727.5 376.9Z"/>
<path d="M710.1 349.4L723.0 349.5 725.3 368.3 712.3 367.9Z"/>
<path d="M694.9 329.4L707.8 330.8 710.1 349.4 697.1 348.0Z"/>
<path d="M424.5 249.7L437.4 247.7 440.1 255.6 427.3 257.5Z"/>
<path d="M679.1 314.0L692.0 317.8 694.9 329.4 682.0 325.7Z"/>
<path d="M408.8 246.4L421.7 244.7 424.5 249.7 411.6 251.7Z"/>
<path d="M663.3 308.5L676.2 313.0 679.1 314.0 666.2 309.8Z"/>
<path d="M393.2 243.8L406.0 242.0 408.8 246.4 396.0 248.2Z"/>
<path d="M647.5 306.8L660.4 310.3 663.3 308.5 650.4 305.5Z"/>
<path d="M377.6 237.7L390.4 233.9 393.2 243.8 380.3 247.9Z"/>
<path d="M631.7 307.9L644.6 310.4 647.5 306.8 634.6 304.4Z"/>
<path d="M361.9 233.2L374.8 226.8 377.6 237.7 364.7 244.2Z"/>
<path d="M615.9 306.9L628.9 307.7 631.7 307.9 618.8 306.8Z"/>
<path d="M346.3 230.4L359.2 222.3 361.9 233.2 349.1 241.5Z"/>
<path d="M600.2 297.5L613.1 297.5 615.9 306.9 603.0 306.8Z"/>
<path d="M330.7 229.8L343.5 220.1 346.3 230.4 333.5 239.8Z"/>
<path d="M584.4 289.0L597.3 287.2 600.2 297.5 587.3 299.1Z"/>
<path d="M315.1 235.6L327.9 227.5 330.7 229.8 317.9 237.7Z"/>
<path d="M568.7 281.8L581.6 278.7 584.4 289.0 571.5 291.9Z"/>
<path d="M299.5 240.2L312.3 233.4 315.1 235.6 302.3 242.2Z"/>
<path d="M552.9 276.0L565.8 272.2 568.7 281.8 555.8 285.4Z"/>
<path d="M195.5 208.6L208.3 206.9 210.2 214.7 197.4 216.5Z"/>
<path d="M210.2 214.7L223.0 213.0 225.0 221.3 212.2 223.1Z"/>
<path d="M284.1 242.2L297.0 238.1 299.5 240.2 286.7 244.1Z"/>
<path d="M225.0 221.3L237.8 219.5 239.8 228.1 226.9 229.9Z"/>
<path d="M239.8 228.1L252.6 226.3 254.5 234.7 241.7 236.5Z"/>
<path d="M254.5 234.7L267.4 232.5 269.3 240.4 256.5 242.6Z"/>
<path d="M269.3 240.4L282.2 237.2 284.1 242.2 271.3 245.2Z"/>
<path d="M537.2 272.5L550.1 269.3 552.9 276.0 540.0 279.5Z"/>
<path d="M521.4 272.1L534.3 269.7 537.2 272.5 524.3 274.9Z"/>
<path d="M505.7 271.6L518.6 269.4 521.4 272.1 508.5 274.3Z"/>
<path d="M490.0 271.1L502.9 268.9 505.7 271.6 492.8 273.7Z"/>
<path d="M474.3 270.4L487.2 268.4 490.0 271.1 477.1 273.0Z"/>
<path d="M458.6 269.7L471.5 267.9 474.3 270.4 461.4 272.3Z"/>
<path d="M442.9 263.8L455.8 262.0 458.6 269.7 445.7 271.5Z"/>
<path d="M803.5 364.9L816.5 359.9 818.6 379.5 805.6 384.2Z"/>
<path d="M788.3 361.8L801.3 359.1 803.5 364.9 790.5 369.7Z"/>
<path d="M818.6 379.5L831.5 374.6 833.6 395.2 820.6 399.2Z"/>
<path d="M773.1 364.4L786.0 362.0 788.3 361.8 775.3 364.5Z"/>
<path d="M833.6 395.2L846.6 391.0 848.7 398.5 835.7 401.1Z"/>
<path d="M427.3 257.5L440.1 255.6 442.9 263.8 430.1 265.6Z"/>
<path d="M757.9 369.0L770.8 366.7 773.1 364.4 760.1 366.8Z"/>
<path d="M848.7 398.5L861.6 395.9 863.7 394.6 850.7 397.0Z"/>
<path d="M742.7 374.0L755.6 371.9 757.9 369.0 744.9 371.1Z"/>
<path d="M727.5 376.9L740.4 375.3 742.7 374.0 729.7 375.6Z"/>
<path d="M712.3 367.9L725.3 368.3 727.5 376.9 714.5 376.9Z"/>
<path d="M697.1 348.0L710.1 349.4 712.3 367.9 699.4 366.5Z"/>
<path d="M682.0 325.7L694.9 329.4 697.1 348.0 684.2 344.1Z"/>
<path d="M411.6 251.7L424.5 249.7 427.3 257.5 414.4 259.5Z"/>
<path d="M666.2 309.8L679.1 314.0 682.0 325.7 669.0 321.0Z"/>
<path d="M396.0 248.2L408.8 246.4 411.6 251.7 398.8 253.8Z"/>
<path d="M650.4 305.5L663.3 308.5 666.2 309.8 653.2 307.1Z"/>
<path d="M380.3 247.9L393.2 243.8 396.0 248.2 383.1 252.6Z"/>
<path d="M634.6 304.4L647.5 306.8 650.4 305.5 637.4 303.9Z"/>
<path d="M364.7 244.2L377.6 237.7 380.3 247.9 367.5 254.6Z"/>
<path d="M618.8 306.8L631.7 307.9 634.6 304.4 621.7 303.4Z"/>
<path d="M349.1 241.5L361.9 233.2 364.7 244.2 351.9 252.9Z"/>
<path d="M603.0 306.8L615.9 306.9 618.8 306.8 605.9 306.6Z"/>
<path d="M333.5 239.8L346.3 230.4 349.1 241.5 336.2 250.9Z"/>
<path d="M587.3 299.1L600.2 297.5 603.0 306.8 590.1 308.3Z"/>
<path d="M317.9 237.7L330.7 229.8 333.5 239.8 320.6 247.4Z"/>
<path d="M571.5 291.9L584.4 289.0 587.3 299.1 574.3 301.7Z"/>
<path d="M302.3 242.2L315.1 235.6 317.9 237.7 305.0 244.1Z"/>
<path d="M555.8 285.4L568.7 281.8 571.5 291.9 558.6 295.1Z"/>
<path d="M286.7 244.1L299.5 240.2 302.3 242.2 289.4 246.0Z"/>
<path d="M540.0 279.5L552.9 276.0 555.8 285.4 542.8 288.6Z"/>
<path d="M197.4 216.5L210.2 214.7 212.2 223.1 199.4 225.0Z"/>
<path d="M271.3 245.2L284.1 242.2 286.7 244.1 273.8 247.0Z"/>
<path d="M212.2 223.1L225.0 221.3 226.9 229.9 214.1 231.8Z"/>
<path d="M226.9 229.9L239.8 228.1 241.7 236.5 228.9 238.4Z"/>
<path d="M241.7 236.5L254.5 234.7 256.5 242.6 243.7 244.4Z"/>
<path d="M256.5 242.6L269.3 240.4 271.3 245.2 258.5 247.1Z"/>
<path d="M524.3 274.9L537.2 272.5 540.0 279.5 527.1 282.1Z"/>
<path d="M508.5 274.3L521.4 272.1 524.3 274.9 511.4 277.0Z"/>
<path d="M492.8 273.7L505.7 271.6 508.5 274.3 495.6 276.4Z"/>
<path d="M477.1 273.0L490.0 271.1 492.8 273.7 479.9 275.6Z"/>
<path d="M461.4 272.3L474.3 270.4 477.1 273.0 464.2 274.8Z"/>
<path d="M445.7 271.5L458.6 269.7 461.4 272.3 448.5 274.1Z"/>
<path d="M430.1 265.6L442.9 263.8 445.7 271.5 432.9 273.2Z"/>
<path d="M790.5 369.7L803.5 364.9 805.6 384.2 792.6 388.7Z"/>
<path d="M775.3 364.5L788.3 361.8 790.5 369.7 777.6 374.5Z"/>
<path d="M805.6 384.2L818.6 379.5 820.6 399.2 807.6 403.0Z"/>
<path d="M760.1 366.8L773.1 364.4 775.3 364.5 762.4 367.2Z"/>
<path d="M820.6 399.2L833.6 395.2 835.7 401.1 822.7 403.5Z"/>
<path d="M414.4 259.5L427.3 257.5 430.1 265.6 417.2 267.5Z"/>
<path d="M744.9 371.1L757.9 369.0 760.1 366.8 747.2 369.0Z"/>
<path d="M835.7 401.1L848.7 398.5 850.7 397.0 837.7 399.2Z"/>
<path d="M850.7 397.0L863.7 394.6 865.8 391.4 852.8 393.7Z"/>
<path d="M729.7 375.6L742.7 374.0 744.9 371.1 732.0 372.5Z"/>
<path d="M714.5 376.9L727.5 376.9 729.7 375.6 716.8 375.4Z"/>
<path d="M699.4 366.5L712.3 367.9 714.5 376.9 701.6 375.6Z"/>
<path d="M684.2 344.1L697.1 348.0 699.4 366.5 686.4 362.3Z"/>
<path d="M669.0 321.0L682.0 325.7 684.2 344.1 671.2 339.2Z"/>
<path d="M398.8 253.8L411.6 251.7 414.4 259.5 401.5 261.6Z"/>
<path d="M653.2 307.1L666.2 309.8 669.0 321.0 656.1 317.3Z"/>
<path d="M383.1 252.6L396.0 248.2 398.8 253.8 385.9 259.0Z"/>
<path d="M637.4 303.9L650.4 305.5 653.2 307.1 640.3 305.6Z"/>
<path d="M367.5 254.6L380.3 247.9 383.1 252.6 370.3 259.3Z"/>
<path d="M621.7 303.4L634.6 304.4 637.4 303.9 624.5 303.4Z"/>
<path d="M351.9 252.9L364.7 244.2 367.5 254.6 354.6 263.6Z"/>
<path d="M605.9 306.6L618.8 306.8 621.7 303.4 608.7 303.4Z"/>
<path d="M336.2 250.9L349.1 241.5 351.9 252.9 339.0 262.2Z"/>
<path d="M590.1 308.3L603.0 306.8 605.9 306.6 593.0 307.9Z"/>
<path d="M320.6 247.4L333.5 239.8 336.2 250.9 323.4 258.4Z"/>
<path d="M574.3 301.7L587.3 299.1 590.1 308.3 577.2 310.7Z"/>
<path d="M305.0 244.1L317.9 237.7 320.6 247.4 307.8 253.2Z"/>
<path d="M558.6 295.1L571.5 291.9 574.3 301.7 561.4 304.6Z"/>
<path d="M289.4 246.0L302.3 242.2 305.0 244.1 292.2 247.9Z"/>
<path d="M542.8 288.6L555.8 285.4 558.6 295.1 545.7 298.0Z"/>
<path d="M273.8 247.0L286.7 244.1 289.4 246.0 276.6 248.8Z"/>
<path d="M527.1 282.1L540.0 279.5 542.8 288.6 529.9 291.0Z"/>
<path d="M258.5 247.1L271.3 245.2 273.8 247.0 261.0 248.9Z"/>
<path d="M199.4 225.0L212.2 223.1 214.1 231.8 201.3 233.8Z"/>
<path d="M214.1 231.8L226.9 229.9 228.9 238.4 216.1 240.3Z"/>
<path d="M228.9 238.4L241.7 236.5 243.7 244.4 230.9 246.3Z"/>
<path d="M243.7 244.4L256.5 242.6 258.5 247.1 245.7 248.9Z"/>
<path d="M511.4 277.0L524.3 274.9 527.1 282.1 514.2 284.5Z"/>
<path d="M495.6 276.4L508.5 274.3 511.4 277.0 498.5 279.0Z"/>
<path d="M479.9 275.6L492.8 273.7 495.6 276.4 482.8 278.2Z"/>
<path d="M464.2 274.8L477.1 273.0 479.9 275.6 467.0 277.4Z"/>
<path d="M448.5 274.1L461.4 272.3 464.2 274.8 451.3 276.6Z"/>
<path d="M432.9 273.2L445.7 271.5 448.5 274.1 435.7 275.8Z"/>
<path d="M417.2 267.5L430.1 265.6 432.9 273.2 420.0 275.0Z"/>
<path d="M777.6 374.5L790.5 369.7 792.6 388.7 779.6 393.2Z"/>
<path d="M762.4 367.2L775.3 364.5 777.6 374.5 764.6 379.2Z"/>
<path d="M792.6 388.7L805.6 384.2 807.6 403.0 794.7 406.7Z"/>
<path d="M747.2 369.0L760.1 366.8 762.4 367.2 749.4 369.6Z"/>
<path d="M807.6 403.0L820.6 399.2 822.7 403.5 809.7 406.0Z"/>
<path d="M401.5 261.6L414.4 259.5 417.2 267.5 404.3 269.6Z"/>
<path d="M732.0 372.5L744.9 371.1 747.2 369.0 734.2 370.4Z"/>
<path d="M822.7 403.5L835.7 401.1 837.7 399.2 824.8 401.5Z"/>
<path d="M837.7 399.2L850.7 397.0 852.8 393.7 839.8 395.9Z"/>
<path d="M716.8 375.4L729.7 375.6 732.0 372.5 719.0 372.1Z"/>
<path d="M852.8 393.7L865.8 391.4 867.9 388.7 854.9 391.2Z"/>
<path d="M701.6 375.6L714.5 376.9 716.8 375.4 703.8 373.7Z"/>
<path d="M686.4 362.3L699.4 366.5 701.6 375.6 688.6 372.0Z"/>
<path d="M671.2 339.2L684.2 344.1 686.4 362.3 673.5 357.2Z"/>
<path d="M656.1 317.3L669.0 321.0 671.2 339.2 658.3 334.7Z"/>
<path d="M385.9 259.0L398.8 253.8 401.5 261.6 388.7 267.1Z"/>
<path d="M640.3 305.6L653.2 307.1 656.1 317.3 643.2 315.0Z"/>
<path d="M370.3 259.3L383.1 252.6 385.9 259.0 373.0 266.2Z"/>
<path d="M624.5 303.4L637.4 303.9 640.3 305.6 627.4 305.2Z"/>
<path d="M354.6 263.6L367.5 254.6 370.3 259.3 357.4 268.5Z"/>
<path d="M608.7 303.4L621.7 303.4 624.5 303.4 611.6 304.0Z"/>
<path d="M339.0 262.2L351.9 252.9 354.6 263.6 341.8 272.8Z"/>
<path d="M593.0 307.9L605.9 306.6 608.7 303.4 595.8 304.9Z"/>
<path d="M323.4 258.4L336.2 250.9 339.0 262.2 326.2 269.7Z"/>
<path d="M577.2 310.7L590.1 308.3 593.0 307.9 580.0 309.9Z"/>
<path d="M307.8 253.2L320.6 247.4 323.4 258.4 310.5 264.1Z"/>
<path d="M561.4 304.6L574.3 301.7 577.2 310.7 564.3 313.2Z"/>
<path d="M292.2 247.9L305.0 244.1 307.8 253.2 294.9 256.5Z"/>
<path d="M545.7 298.0L558.6 295.1 561.4 304.6 548.5 307.1Z"/>
<path d="M276.6 248.8L289.4 246.0 292.2 247.9 279.3 250.6Z"/>
<path d="M529.9 291.0L542.8 288.6 545.7 298.0 532.8 300.2Z"/>
<path d="M261.0 248.9L273.8 247.0 276.6 248.8 263.7 250.7Z"/>
<path d="M514.2 284.5L527.1 282.1 529.9 291.0 517.0 293.3Z"/>
<path d="M245.7 248.9L258.5 247.1 261.0 248.9 248.2 250.7Z"/>
<path d="M201.3 233.8L214.1 231.8 216.1 240.3 203.3 242.4Z"/>
<path d="M216.1 240.3L228.9 238.4 230.9 246.3 218.0 248.2Z"/>
<path d="M230.9 246.3L243.7 244.4 245.7 248.9 232.8 250.7Z"/>
<path d="M498.5 279.0L511.4 277.0 514.2 284.5 501.3 286.8Z"/>
<path d="M482.8 278.2L495.6 276.4 498.5 279.0 485.6 281.0Z"/>
<path d="M467.0 277.4L479.9 275.6 482.8 278.2 469.9 279.9Z"/>
<path d="M451.3 276.6L464.2 274.8 467.0 277.4 454.2 279.1Z"/>
<path d="M435.7 275.8L448.5 274.1 451.3 276.6 438.5 278.3Z"/>
<path d="M420.0 275.0L432.9 273.2 435.7 275.8 422.8 277.6Z"/>
<path d="M404.3 269.6L417.2 267.5 420.0 275.0 407.1 277.1Z"/>
<path d="M764.6 379.2L777.6 374.5 779.6 393.2 766.6 397.4Z"/>
<path d="M749.4 369.6L762.4 367.2 764.6 379.2 751.6 383.6Z"/>
<path d="M779.6 393.2L792.6 388.7 794.7 406.7 781.7 410.3Z"/>
<path d="M734.2 370.4L747.2 369.0 749.4 369.6 736.4 371.0Z"/>
<path d="M794.7 406.7L807.6 403.0 809.7 406.0 796.7 408.3Z"/>
<path d="M388.7 267.1L401.5 261.6 404.3 269.6 391.5 275.4Z"/>
<path d="M719.0 372.1L732.0 372.5 734.2 370.4 721.2 370.1Z"/>
<path d="M809.7 406.0L822.7 403.5 824.8 401.5 811.8 403.7Z"/>
<path d="M824.8 401.5L837.7 399.2 839.8 395.9 826.8 398.1Z"/>
<path d="M703.8 373.7L716.8 375.4 719.0 372.1 706.0 370.3Z"/>
<path d="M839.8 395.9L852.8 393.7 854.9 391.2 841.9 393.7Z"/>
<path d="M688.6 372.0L701.6 375.6 703.8 373.7 690.9 370.0Z"/>
<path d="M854.9 391.2L867.9 388.7 869.9 388.7 856.9 391.7Z"/>
<path d="M673.5 357.2L686.4 362.3 688.6 372.0 675.7 367.9Z"/>
<path d="M658.3 334.7L671.2 339.2 673.5 357.2 660.5 352.2Z"/>
<path d="M643.2 315.0L656.1 317.3 658.3 334.7 645.4 331.7Z"/>
<path d="M373.0 266.2L385.9 259.0 388.7 267.1 375.8 274.5Z"/>
<path d="M627.4 305.2L640.3 305.6 643.2 315.0 630.2 314.4Z"/>
<path d="M357.4 268.5L370.3 259.3 373.0 266.2 360.2 276.2Z"/>
<path d="M611.6 304.0L624.5 303.4 627.4 305.2 614.4 305.9Z"/>
<path d="M341.8 272.8L354.6 263.6 357.4 268.5 344.5 277.8Z"/>
<path d="M595.8 304.9L608.7 303.4 611.6 304.0 598.7 306.0Z"/>
<path d="M326.2 269.7L339.0 262.2 341.8 272.8 328.9 280.3Z"/>
<path d="M580.0 309.9L593.0 307.9 595.8 304.9 582.9 307.1Z"/>
<path d="M310.5 264.1L323.4 258.4 326.2 269.7 313.3 275.2Z"/>
<path d="M564.3 313.2L577.2 310.7 580.0 309.9 567.1 312.1Z"/>
<path d="M294.9 256.5L307.8 253.2 310.5 264.1 297.7 267.4Z"/>
<path d="M548.5 307.1L561.4 304.6 564.3 313.2 551.4 315.4Z"/>
<path d="M279.3 250.6L292.2 247.9 294.9 256.5 282.1 258.8Z"/>
<path d="M532.8 300.2L545.7 298.0 548.5 307.1 535.6 309.1Z"/>
<path d="M263.7 250.7L276.6 248.8 279.3 250.6 266.5 252.5Z"/>
<path d="M517.0 293.3L529.9 291.0 532.8 300.2 519.9 302.3Z"/>
<path d="M248.2 250.7L261.0 248.9 263.7 250.7 250.9 252.5Z"/>
<path d="M501.3 286.8L514.2 284.5 517.0 293.3 504.1 295.5Z"/>
<path d="M232.8 250.7L245.7 248.9 248.2 250.7 235.3 252.5Z"/>
<path d="M218.0 248.2L230.9 246.3 232.8 250.7 220.0 252.4Z"/>
<path d="M485.6 281.0L498.5 279.0 501.3 286.8 488.4 289.0Z"/>
<path d="M469.9 279.9L482.8 278.2 485.6 281.0 472.7 283.0Z"/>
<path d="M454.2 279.1L467.0 277.4 469.9 279.9 457.0 281.6Z"/>
<path d="M438.5 278.3L451.3 276.6 454.2 279.1 441.3 280.8Z"/>
<path d="M422.8 277.6L435.7 275.8 438.5 278.3 425.6 280.1Z"/>
<path d="M407.1 277.1L420.0 275.0 422.8 277.6 409.9 280.0Z"/>
<path d="M391.5 275.4L404.3 269.6 407.1 277.1 394.2 283.2Z"/>
<path d="M751.6 383.6L764.6 379.2 766.6 397.4 753.7 401.3Z"/>
<path d="M736.4 371.0L749.4 369.6 751.6 383.6 738.6 386.8Z"/>
<path d="M766.6 397.4L779.6 393.2 781.7 410.3 768.7 413.0Z"/>
<path d="M721.2 370.1L734.2 370.4 736.4 371.0 723.4 372.8Z"/>
<path d="M781.7 410.3L794.7 406.7 796.7 408.3 783.7 410.7Z"/>
<path d="M375.8 274.5L388.7 267.1 391.5 275.4 378.6 283.0Z"/>
<path d="M706.0 370.3L719.0 372.1 721.2 370.1 708.3 368.3Z"/>
<path d="M796.7 408.3L809.7 406.0 811.8 403.7 798.8 405.8Z"/>
<path d="M811.8 403.7L824.8 401.5 826.8 398.1 813.8 400.4Z"/>
<path d="M872.2 409.4L885.2 404.5 887.5 432.7 874.5 437.7Z"/>
<path d="M690.9 370.0L703.8 373.7 706.0 370.3 693.1 366.5Z"/>
<path d="M826.8 398.1L839.8 395.9 841.9 393.7 828.9 396.3Z"/>
<path d="M675.7 367.9L688.6 372.0 690.9 370.0 677.9 366.0Z"/>
<path d="M856.9 391.7L869.9 388.7 872.2 409.4 859.2 415.1Z"/>
<path d="M841.9 393.7L854.9 391.2 856.9 391.7 843.9 395.7Z"/>
<path d="M660.5 352.2L673.5 357.2 675.7 367.9 662.7 363.7Z"/>
<path d="M645.4 331.7L658.3 334.7 660.5 352.2 647.6 348.4Z"/>
<path d="M630.2 314.4L643.2 315.0 645.4 331.7 632.4 330.2Z"/>
<path d="M360.2 276.2L373.0 266.2 375.8 274.5 362.9 284.9Z"/>
<path d="M614.4 305.9L627.4 305.2 630.2 314.4 617.3 315.0Z"/>
<path d="M344.5 277.8L357.4 268.5 360.2 276.2 347.3 285.7Z"/>
<path d="M598.7 306.0L611.6 304.0 614.4 305.9 601.5 308.0Z"/>
<path d="M328.9 280.3L341.8 272.8 344.5 277.8 331.7 285.8Z"/>
<path d="M582.9 307.1L595.8 304.9 598.7 306.0 585.7 308.7Z"/>
<path d="M313.3 275.2L326.2 269.7 328.9 280.3 316.1 285.6Z"/>
<path d="M567.1 312.1L580.0 309.9 582.9 307.1 570.0 309.6Z"/>
<path d="M297.7 267.4L310.5 264.1 313.3 275.2 300.4 278.5Z"/>
<path d="M551.4 315.4L564.3 313.2 567.1 312.1 554.2 313.8Z"/>
<path d="M282.1 258.8L294.9 256.5 297.7 267.4 284.8 269.7Z"/>
<path d="M535.6 309.1L548.5 307.1 551.4 315.4 538.4 317.1Z"/>
<path d="M266.5 252.5L279.3 250.6 282.1 258.8 269.2 260.3Z"/>
<path d="M519.9 302.3L532.8 300.2 535.6 309.1 522.7 311.1Z"/>
<path d="M250.9 252.5L263.7 250.7 266.5 252.5 253.7 254.3Z"/>
<path d="M504.1 295.5L517.0 293.3 519.9 302.3 507.0 304.5Z"/>
<path d="M235.3 252.5L248.2 250.7 250.9 252.5 238.1 254.3Z"/>
<path d="M488.4 289.0L501.3 286.8 504.1 295.5 491.2 297.6Z"/>
<path d="M220.0 252.4L232.8 250.7 235.3 252.5 222.5 254.3Z"/>
<path d="M472.7 283.0L485.6 281.0 488.4 289.0 475.5 291.0Z"/>
<path d="M457.0 281.6L469.9 279.9 472.7 283.0 459.8 285.0Z"/>
<path d="M441.3 280.8L454.2 279.1 457.0 281.6 444.1 283.2Z"/>
<path d="M425.6 280.1L438.5 278.3 441.3 280.8 428.4 282.5Z"/>
<path d="M409.9 280.0L422.8 277.6 425.6 280.1 412.7 282.6Z"/>
<path d="M394.2 283.2L407.1 277.1 409.9 280.0 397.0 286.3Z"/>
<path d="M378.6 283.0L391.5 275.4 394.2 283.2 381.4 291.0Z"/>
<path d="M738.6 386.8L751.6 383.6 753.7 401.3 740.7 403.9Z"/>
<path d="M723.4 372.8L736.4 371.0 738.6 386.8 725.7 388.6Z"/>
<path d="M753.7 401.3L766.6 397.4 768.7 413.0 755.7 415.3Z"/>
<path d="M708.3 368.3L721.2 370.1 723.4 372.8 710.5 372.7Z"/>
<path d="M874.5 437.7L887.5 432.7 889.9 458.3 876.9 461.0Z"/>
<path d="M768.7 413.0L781.7 410.3 783.7 410.7 770.7 413.0Z"/>
<path d="M362.9 284.9L375.8 274.5 378.6 283.0 365.7 293.6Z"/>
<path d="M693.1 366.5L706.0 370.3 708.3 368.3 695.3 364.8Z"/>
<path d="M783.7 410.7L796.7 408.3 798.8 405.8 785.8 408.0Z"/>
<path d="M798.8 405.8L811.8 403.7 813.8 400.4 800.8 402.6Z"/>
<path d="M859.2 415.1L872.2 409.4 874.5 437.7 861.5 442.7Z"/>
<path d="M677.9 366.0L690.9 370.0 693.1 366.5 680.1 362.5Z"/>
<path d="M813.8 400.4L826.8 398.1 828.9 396.3 815.9 398.8Z"/>
<path d="M662.7 363.7L675.7 367.9 677.9 366.0 664.9 361.9Z"/>
<path d="M843.9 395.7L856.9 391.7 859.2 415.1 846.2 420.7Z"/>
<path d="M828.9 396.3L841.9 393.7 843.9 395.7 830.9 401.2Z"/>
<path d="M647.6 348.4L660.5 352.2 662.7 363.7 649.8 360.2Z"/>
<path d="M632.4 330.2L645.4 331.7 647.6 348.4 634.6 346.0Z"/>
<path d="M617.3 315.0L630.2 314.4 632.4 330.2 619.5 329.8Z"/>
<path d="M347.3 285.7L360.2 276.2 362.9 284.9 350.1 294.3Z"/>
<path d="M601.5 308.0L614.4 305.9 617.3 315.0 604.3 316.8Z"/>
<path d="M331.7 285.8L344.5 277.8 347.3 285.7 334.4 293.7Z"/>
<path d="M585.7 308.7L598.7 306.0 601.5 308.0 588.6 310.8Z"/>
<path d="M316.1 285.6L328.9 280.3 331.7 285.8 318.8 291.4Z"/>
<path d="M570.0 309.6L582.9 307.1 585.7 308.7 572.8 311.5Z"/>
<path d="M300.4 278.5L313.3 275.2 316.1 285.6 303.2 289.0Z"/>
<path d="M554.2 313.8L567.1 312.1 570.0 309.6 557.0 311.9Z"/>
<path d="M284.8 269.7L297.7 267.4 300.4 278.5 287.6 280.8Z"/>
<path d="M538.4 317.1L551.4 315.4 554.2 313.8 541.3 315.2Z"/>
<path d="M269.2 260.3L282.1 258.8 284.8 269.7 272.0 271.2Z"/>
<path d="M522.7 311.1L535.6 309.1 538.4 317.1 525.5 318.8Z"/>
<path d="M253.7 254.3L266.5 252.5 269.2 260.3 256.4 261.8Z"/>
<path d="M507.0 304.5L519.9 302.3 522.7 311.1 509.8 313.1Z"/>
<path d="M238.1 254.3L250.9 252.5 253.7 254.3 240.8 256.2Z"/>
<path d="M491.2 297.6L504.1 295.5 507.0 304.5 494.0 306.5Z"/>
<path d="M222.5 254.3L235.3 252.5 238.1 254.3 225.2 256.2Z"/>
<path d="M475.5 291.0L488.4 289.0 491.2 297.6 478.3 299.7Z"/>
<path d="M459.8 285.0L472.7 283.0 475.5 291.0 462.6 293.0Z"/>
<path d="M444.1 283.2L457.0 281.6 459.8 285.0 446.9 287.0Z"/>
<path d="M428.4 282.5L441.3 280.8 444.1 283.2 431.2 284.9Z"/>
<path d="M412.7 282.6L425.6 280.1 428.4 282.5 415.5 285.2Z"/>
<path d="M397.0 286.3L409.9 280.0 412.7 282.6 399.8 289.1Z"/>
<path d="M381.4 291.0L394.2 283.2 397.0 286.3 384.1 294.4Z"/>
<path d="M365.7 293.6L378.6 283.0 381.4 291.0 368.5 301.8Z"/>
<path d="M876.9 461.0L889.9 458.3 892.2 458.8 879.2 461.1Z"/>
<path d="M725.7 388.6L738.6 386.8 740.7 403.9 727.7 405.2Z"/>
<path d="M710.5 372.7L723.4 372.8 725.7 388.6 712.7 388.4Z"/>
<path d="M740.7 403.9L753.7 401.3 755.7 415.3 742.7 416.3Z"/>
<path d="M695.3 364.8L708.3 368.3 710.5 372.7 697.5 371.2Z"/>
<path d="M861.5 442.7L874.5 437.7 876.9 461.0 863.8 463.5Z"/>
<path d="M755.7 415.3L768.7 413.0 770.7 413.0 757.8 414.9Z"/>
<path d="M350.1 294.3L362.9 284.9 365.7 293.6 352.8 302.9Z"/>
<path d="M680.1 362.5L693.1 366.5 695.3 364.8 682.3 361.2Z"/>
<path d="M770.7 413.0L783.7 410.7 785.8 408.0 772.8 410.1Z"/>
<path d="M785.8 408.0L798.8 405.8 800.8 402.6 787.8 404.9Z"/>
<path d="M846.2 420.7L859.2 415.1 861.5 442.7 848.5 447.5Z"/>
<path d="M664.9 361.9L677.9 366.0 680.1 362.5 667.2 358.5Z"/>
<path d="M800.8 402.6L813.8 400.4 815.9 398.8 802.9 401.5Z"/>
<path d="M649.8 360.2L662.7 363.7 664.9 361.9 652.0 358.5Z"/>
<path d="M830.9 401.2L843.9 395.7 846.2 420.7 833.2 426.1Z"/>
<path d="M815.9 398.8L828.9 396.3 830.9 401.2 817.9 406.6Z"/>
<path d="M634.6 346.0L647.6 348.4 649.8 360.2 636.8 357.3Z"/>
<path d="M619.5 329.8L632.4 330.2 634.6 346.0 621.7 344.3Z"/>
<path d="M604.3 316.8L617.3 315.0 619.5 329.8 606.5 330.1Z"/>
<path d="M334.4 293.7L347.3 285.7 350.1 294.3 337.2 302.3Z"/>
<path d="M588.6 310.8L601.5 308.0 604.3 316.8 591.4 319.2Z"/>
<path d="M318.8 291.4L331.7 285.8 334.4 293.7 321.6 299.1Z"/>
<path d="M572.8 311.5L585.7 308.7 588.6 310.8 575.6 313.6Z"/>
<path d="M303.2 289.0L316.1 285.6 318.8 291.4 306.0 295.1Z"/>
<path d="M557.0 311.9L570.0 309.6 572.8 311.5 559.9 313.9Z"/>
<path d="M287.6 280.8L300.4 278.5 303.2 289.0 290.3 291.3Z"/>
<path d="M541.3 315.2L554.2 313.8 557.0 311.9 544.1 313.9Z"/>
<path d="M272.0 271.2L284.8 269.7 287.6 280.8 274.7 282.4Z"/>
<path d="M525.5 318.8L538.4 317.1 541.3 315.2 528.3 316.6Z"/>
<path d="M256.4 261.8L269.2 260.3 272.0 271.2 259.1 272.7Z"/>
<path d="M509.8 313.1L522.7 311.1 525.5 318.8 512.6 320.6Z"/>
<path d="M240.8 256.2L253.7 254.3 256.4 261.8 243.6 263.3Z"/>
<path d="M494.0 306.5L507.0 304.5 509.8 313.1 496.9 315.1Z"/>
<path d="M225.2 256.2L238.1 254.3 240.8 256.2 228.0 258.0Z"/>
<path d="M478.3 299.7L491.2 297.6 494.0 306.5 481.1 308.5Z"/>
<path d="M462.6 293.0L475.5 291.0 478.3 299.7 465.4 301.7Z"/>
<path d="M446.9 287.0L459.8 285.0 462.6 293.0 449.7 295.1Z"/>
<path d="M431.2 284.9L444.1 283.2 446.9 287.0 434.0 289.0Z"/>
<path d="M415.5 285.2L428.4 282.5 431.2 284.9 418.3 287.8Z"/>
<path d="M399.8 289.1L412.7 282.6 415.5 285.2 402.6 291.8Z"/>
<path d="M384.1 294.4L397.0 286.3 399.8 289.1 386.9 297.3Z"/>
<path d="M368.5 301.8L381.4 291.0 384.1 294.4 371.2 305.3Z"/>
<path d="M352.8 302.9L365.7 293.6 368.5 301.8 355.6 311.0Z"/>
<path d="M879.2 461.1L892.2 458.8 894.5 456.1 881.5 458.3Z"/>
<path d="M863.8 463.5L876.9 461.0 879.2 461.1 866.2 463.4Z"/>
<path d="M712.7 388.4L725.7 388.6 727.7 405.2 714.7 404.5Z"/>
<path d="M697.5 371.2L710.5 372.7 712.7 388.4 699.7 386.9Z"/>
<path d="M727.7 405.2L740.7 403.9 742.7 416.3 729.8 416.1Z"/>
<path d="M682.3 361.2L695.3 364.8 697.5 371.2 684.5 369.5Z"/>
<path d="M848.5 447.5L861.5 442.7 863.8 463.5 850.8 466.1Z"/>
<path d="M742.7 416.3L755.7 415.3 757.8 414.9 744.8 415.4Z"/>
<path d="M337.2 302.3L350.1 294.3 352.8 302.9 340.0 310.8Z"/>
<path d="M667.2 358.5L680.1 362.5 682.3 361.2 669.4 357.7Z"/>
<path d="M757.8 414.9L770.7 413.0 772.8 410.1 759.8 411.6Z"/>
<path d="M772.8 410.1L785.8 408.0 787.8 404.9 774.8 407.1Z"/>
<path d="M833.2 426.1L846.2 420.7 848.5 447.5 835.5 452.2Z"/>
<path d="M652.0 358.5L664.9 361.9 667.2 358.5 654.2 355.1Z"/>
<path d="M787.8 404.9L800.8 402.6 802.9 401.5 789.9 404.3Z"/>
<path d="M636.8 357.3L649.8 360.2 652.0 358.5 639.0 355.4Z"/>
<path d="M817.9 406.6L830.9 401.2 833.2 426.1 820.2 431.3Z"/>
<path d="M802.9 401.5L815.9 398.8 817.9 406.6 804.9 411.9Z"/>
<path d="M621.7 344.3L634.6 346.0 636.8 357.3 623.9 354.7Z"/>
<path d="M606.5 330.1L619.5 329.8 621.7 344.3 608.7 343.2Z"/>
<path d="M591.4 319.2L604.3 316.8 606.5 330.1 593.6 331.1Z"/>
<path d="M321.6 299.1L334.4 293.7 337.2 302.3 324.3 307.3Z"/>
<path d="M575.6 313.6L588.6 310.8 591.4 319.2 578.5 321.9Z"/>
<path d="M306.0 295.1L318.8 291.4 321.6 299.1 308.7 302.7Z"/>
<path d="M559.9 313.9L572.8 311.5 575.6 313.6 562.7 315.8Z"/>
<path d="M290.3 291.3L303.2 289.0 306.0 295.1 293.1 297.6Z"/>
<path d="M544.1 313.9L557.0 311.9 559.9 313.9 546.9 315.9Z"/>
<path d="M274.7 282.4L287.6 280.8 290.3 291.3 277.5 293.0Z"/>
<path d="M528.3 316.6L541.3 315.2 544.1 313.9 531.2 316.1Z"/>
<path d="M259.1 272.7L272.0 271.2 274.7 282.4 261.9 284.1Z"/>
<path d="M512.6 320.6L525.5 318.8 528.3 316.6 515.4 318.1Z"/>
<path d="M243.6 263.3L256.4 261.8 259.1 272.7 246.3 274.3Z"/>
<path d="M496.9 315.1L509.8 313.1 512.6 320.6 499.7 322.3Z"/>
<path d="M228.0 258.0L240.8 256.2 243.6 263.3 230.7 264.8Z"/>
<path d="M481.1 308.5L494.0 306.5 496.9 315.1 483.9 317.1Z"/>
<path d="M465.4 301.7L478.3 299.7 481.1 308.5 468.2 310.6Z"/>
<path d="M449.7 295.1L462.6 293.0 465.4 301.7 452.5 303.8Z"/>
<path d="M434.0 289.0L446.9 287.0 449.7 295.1 436.8 297.1Z"/>
<path d="M418.3 287.8L431.2 284.9 434.0 289.0 421.1 292.6Z"/>
<path d="M402.6 291.8L415.5 285.2 418.3 287.8 405.4 294.6Z"/>
<path d="M386.9 297.3L399.8 289.1 402.6 291.8 389.7 300.3Z"/>
<path d="M371.2 305.3L384.1 294.4 386.9 297.3 374.0 308.2Z"/>
<path d="M355.6 311.0L368.5 301.8 371.2 305.3 358.4 314.4Z"/>
<path d="M340.0 310.8L352.8 302.9 355.6 311.0 342.7 318.7Z"/>
<path d="M881.5 458.3L894.5 456.1 896.9 452.3 883.8 454.5Z"/>
<path d="M866.2 463.4L879.2 461.1 881.5 458.3 868.5 460.4Z"/>
<path d="M850.8 466.1L863.8 463.5 866.2 463.4 853.2 465.7Z"/>
<path d="M699.7 386.9L712.7 388.4 714.7 404.5 701.8 402.8Z"/>
<path d="M684.5 369.5L697.5 371.2 699.7 386.9 686.8 385.3Z"/>
<path d="M714.7 404.5L727.7 405.2 729.8 416.1 716.8 413.9Z"/>
<path d="M669.4 357.7L682.3 361.2 684.5 369.5 671.6 368.0Z"/>
<path d="M835.5 452.2L848.5 447.5 850.8 466.1 837.8 468.6Z"/>
<path d="M729.8 416.1L742.7 416.3 744.8 415.4 731.8 414.6Z"/>
<path d="M324.3 307.3L337.2 302.3 340.0 310.8 327.1 315.6Z"/>
<path d="M654.2 355.1L667.2 358.5 669.4 357.7 656.4 354.5Z"/>
<path d="M744.8 415.4L757.8 414.9 759.8 411.6 746.8 411.8Z"/>
<path d="M759.8 411.6L772.8 410.1 774.8 407.1 761.8 408.7Z"/>
<path d="M820.2 431.3L833.2 426.1 835.5 452.2 822.5 456.7Z"/>
<path d="M639.0 355.4L652.0 358.5 654.2 355.1 641.2 352.0Z"/>
<path d="M774.8 407.1L787.8 404.9 789.9 404.3 776.9 407.0Z"/>
<path d="M623.9 354.7L636.8 357.3 639.0 355.4 626.1 352.6Z"/>
<path d="M804.9 411.9L817.9 406.6 820.2 431.3 807.2 436.5Z"/>
<path d="M789.9 404.3L802.9 401.5 804.9 411.9 791.9 417.2Z"/>
<path d="M608.7 343.2L621.7 344.3 623.9 354.7 610.9 352.4Z"/>
<path d="M593.6 331.1L606.5 330.1 608.7 343.2 595.8 342.6Z"/>
<path d="M578.5 321.9L591.4 319.2 593.6 331.1 580.6 332.5Z"/>
<path d="M308.7 302.7L321.6 299.1 324.3 307.3 311.5 310.9Z"/>
<path d="M562.7 315.8L575.6 313.6 578.5 321.9 565.5 324.4Z"/>
<path d="M293.1 297.6L306.0 295.1 308.7 302.7 295.8 305.1Z"/>
<path d="M546.9 315.9L559.9 313.9 562.7 315.8 549.8 318.5Z"/>
<path d="M277.5 293.0L290.3 291.3 293.1 297.6 280.2 299.7Z"/>
<path d="M531.2 316.1L544.1 313.9 546.9 315.9 534.0 318.1Z"/>
<path d="M261.9 284.1L274.7 282.4 277.5 293.0 264.6 294.7Z"/>
<path d="M515.4 318.1L528.3 316.6 531.2 316.1 518.2 318.2Z"/>
<path d="M246.3 274.3L259.1 272.7 261.9 284.1 249.0 285.7Z"/>
<path d="M499.7 322.3L512.6 320.6 515.4 318.1 502.5 319.6Z"/>
<path d="M230.7 264.8L243.6 263.3 246.3 274.3 233.5 275.9Z"/>
<path d="M483.9 317.1L496.9 315.1 499.7 322.3 486.8 324.0Z"/>
<path d="M468.2 310.6L481.1 308.5 483.9 317.1 471.0 319.1Z"/>
<path d="M452.5 303.8L465.4 301.7 468.2 310.6 455.3 312.7Z"/>
<path d="M436.8 297.1L449.7 295.1 452.5 303.8 439.6 305.9Z"/>
<path d="M421.1 292.6L434.0 289.0 436.8 297.1 423.9 301.0Z"/>
<path d="M405.4 294.6L418.3 287.8 421.1 292.6 408.2 299.7Z"/>
<path d="M389.7 300.3L402.6 291.8 405.4 294.6 392.5 303.2Z"/>
<path d="M374.0 308.2L386.9 297.3 389.7 300.3 376.8 311.1Z"/>
<path d="M358.4 314.4L371.2 305.3 374.0 308.2 361.1 317.1Z"/>
<path d="M342.7 318.7L355.6 311.0 358.4 314.4 345.5 321.9Z"/>
<path d="M327.1 315.6L340.0 310.8 342.7 318.7 329.8 323.3Z"/>
<path d="M883.8 454.5L896.9 452.3 899.2 449.8 886.2 452.4Z"/>
<path d="M868.5 460.4L881.5 458.3 883.8 454.5 870.8 456.8Z"/>
<path d="M853.2 465.7L866.2 463.4 868.5 460.4 855.5 462.6Z"/>
<path d="M837.8 468.6L850.8 466.1 853.2 465.7 840.1 467.9Z"/>
<path d="M686.8 385.3L699.7 386.9 701.8 402.8 688.8 400.9Z"/>
<path d="M671.6 368.0L684.5 369.5 686.8 385.3 673.8 384.0Z"/>
<path d="M701.8 402.8L714.7 404.5 716.8 413.9 703.8 411.0Z"/>
<path d="M656.4 354.5L669.4 357.7 671.6 368.0 658.6 367.1Z"/>
<path d="M822.5 456.7L835.5 452.2 837.8 468.6 824.8 471.0Z"/>
<path d="M716.8 413.9L729.8 416.1 731.8 414.6 718.8 411.9Z"/>
<path d="M311.5 310.9L324.3 307.3 327.1 315.6 314.2 319.0Z"/>
<path d="M641.2 352.0L654.2 355.1 656.4 354.5 643.4 352.0Z"/>
<path d="M731.8 414.6L744.8 415.4 746.8 411.8 733.8 410.7Z"/>
<path d="M746.8 411.8L759.8 411.6 761.8 408.7 748.9 409.0Z"/>
<path d="M807.2 436.5L820.2 431.3 822.5 456.7 809.5 461.1Z"/>
<path d="M626.1 352.6L639.0 355.4 641.2 352.0 628.3 349.2Z"/>
<path d="M761.8 408.7L774.8 407.1 776.9 407.0 763.9 408.9Z"/>
<path d="M610.9 352.4L623.9 354.7 626.1 352.6 613.1 350.0Z"/>
<path d="M791.9 417.2L804.9 411.9 807.2 436.5 794.2 441.5Z"/>
<path d="M776.9 407.0L789.9 404.3 791.9 417.2 778.9 422.3Z"/>
<path d="M595.8 342.6L608.7 343.2 610.9 352.4 598.0 350.5Z"/>
<path d="M580.6 332.5L593.6 331.1 595.8 342.6 582.8 342.7Z"/>
<path d="M565.5 324.4L578.5 321.9 580.6 332.5 567.7 334.2Z"/>
<path d="M295.8 305.1L308.7 302.7 311.5 310.9 298.6 313.1Z"/>
<path d="M549.8 318.5L562.7 315.8 565.5 324.4 552.6 326.9Z"/>
<path d="M280.2 299.7L293.1 297.6 295.8 305.1 283.0 307.2Z"/>
<path d="M534.0 318.1L546.9 315.9 549.8 318.5 536.8 321.4Z"/>
<path d="M264.6 294.7L277.5 293.0 280.2 299.7 267.4 301.7Z"/>
<path d="M518.2 318.2L531.2 316.1 534.0 318.1 521.1 320.2Z"/>
<path d="M249.0 285.7L261.9 284.1 264.6 294.7 251.8 296.5Z"/>
<path d="M502.5 319.6L515.4 318.1 518.2 318.2 505.3 320.3Z"/>
<path d="M233.5 275.9L246.3 274.3 249.0 285.7 236.2 287.5Z"/>
<path d="M486.8 324.0L499.7 322.3 502.5 319.6 489.6 321.1Z"/>
<path d="M471.0 319.1L483.9 317.1 486.8 324.0 473.8 325.7Z"/>
<path d="M455.3 312.7L468.2 310.6 471.0 319.1 458.1 321.1Z"/>
<path d="M439.6 305.9L452.5 303.8 455.3 312.7 442.4 314.8Z"/>
<path d="M423.9 301.0L436.8 297.1 439.6 305.9 426.7 310.0Z"/>
<path d="M408.2 299.7L421.1 292.6 423.9 301.0 411.0 308.1Z"/>
<path d="M392.5 303.2L405.4 294.6 408.2 299.7 395.3 308.8Z"/>
<path d="M376.8 311.1L389.7 300.3 392.5 303.2 379.6 313.9Z"/>
<path d="M361.1 317.1L374.0 308.2 376.8 311.1 363.9 319.7Z"/>
<path d="M345.5 321.9L358.4 314.4 361.1 317.1 348.3 324.4Z"/>
<path d="M329.8 323.3L342.7 318.7 345.5 321.9 332.6 326.3Z"/>
<path d="M886.2 452.4L899.2 449.8 901.5 451.5 888.5 456.0Z"/>
<path d="M314.2 319.0L327.1 315.6 329.8 323.3 317.0 326.5Z"/>
<path d="M870.8 456.8L883.8 454.5 886.2 452.4 873.1 454.9Z"/>
<path d="M855.5 462.6L868.5 460.4 870.8 456.8 857.8 459.0Z"/>
<path d="M840.1 467.9L853.2 465.7 855.5 462.6 842.4 464.7Z"/>
<path d="M824.8 471.0L837.8 468.6 840.1 467.9 827.1 470.1Z"/>
<path d="M673.8 384.0L686.8 385.3 688.8 400.9 675.8 399.4Z"/>
<path d="M658.6 367.1L671.6 368.0 673.8 384.0 660.8 383.1Z"/>
<path d="M688.8 400.9L701.8 402.8 703.8 411.0 690.8 408.0Z"/>
<path d="M643.4 352.0L656.4 354.5 658.6 367.1 645.6 366.5Z"/>
<path d="M809.5 461.1L822.5 456.7 824.8 471.0 811.8 473.5Z"/>
<path d="M703.8 411.0L716.8 413.9 718.8 411.9 705.8 408.7Z"/>
<path d="M298.6 313.1L311.5 310.9 314.2 319.0 301.3 321.1Z"/>
<path d="M628.3 349.2L641.2 352.0 643.4 352.0 630.5 351.4Z"/>
<path d="M718.8 411.9L731.8 414.6 733.8 410.7 720.8 407.8Z"/>
<path d="M733.8 410.7L746.8 411.8 748.9 409.0 735.9 408.0Z"/>
<path d="M794.2 441.5L807.2 436.5 809.5 461.1 796.5 465.3Z"/>
<path d="M613.1 350.0L626.1 352.6 628.3 349.2 615.3 346.8Z"/>
<path d="M748.9 409.0L761.8 408.7 763.9 408.9 750.9 409.3Z"/>
<path d="M598.0 350.5L610.9 352.4 613.1 350.0 600.2 347.9Z"/>
<path d="M778.9 422.3L791.9 417.2 794.2 441.5 781.2 446.2Z"/>
<path d="M763.9 408.9L776.9 407.0 778.9 422.3 765.9 426.3Z"/>
<path d="M582.8 342.7L595.8 342.6 598.0 350.5 585.0 349.3Z"/>
<path d="M567.7 334.2L580.6 332.5 582.8 342.7 569.9 343.5Z"/>
<path d="M552.6 326.9L565.5 324.4 567.7 334.2 554.8 336.0Z"/>
<path d="M283.0 307.2L295.8 305.1 298.6 313.1 285.7 315.1Z"/>
<path d="M536.8 321.4L549.8 318.5 552.6 326.9 539.6 329.4Z"/>
<path d="M267.4 301.7L280.2 299.7 283.0 307.2 270.1 309.2Z"/>
<path d="M521.1 320.2L534.0 318.1 536.8 321.4 523.9 324.2Z"/>
<path d="M251.8 296.5L264.6 294.7 267.4 301.7 254.5 303.8Z"/>
<path d="M505.3 320.3L518.2 318.2 521.1 320.2 508.1 322.3Z"/>
<path d="M236.2 287.5L249.0 285.7 251.8 296.5 238.9 298.4Z"/>
<path d="M489.6 321.1L502.5 319.6 505.3 320.3 492.4 322.5Z"/>
<path d="M473.8 325.7L486.8 324.0 489.6 321.1 476.7 322.9Z"/>
<path d="M458.1 321.1L471.0 319.1 473.8 325.7 460.9 327.5Z"/>
<path d="M442.4 314.8L455.3 312.7 458.1 321.1 445.2 323.2Z"/>
<path d="M426.7 310.0L439.6 305.9 442.4 314.8 429.5 319.0Z"/>
<path d="M411.0 308.1L423.9 301.0 426.7 310.0 413.8 316.9Z"/>
<path d="M395.3 308.8L408.2 299.7 411.0 308.1 398.1 317.1Z"/>
<path d="M379.6 313.9L392.5 303.2 395.3 308.8 382.4 319.5Z"/>
<path d="M363.9 319.7L376.8 311.1 379.6 313.9 366.7 322.4Z"/>
<path d="M348.3 324.4L361.1 317.1 363.9 319.7 351.0 326.8Z"/>
<path d="M904.3 470.9L917.3 468.2 921.2 488.9 908.1 489.4Z"/>
<path d="M332.6 326.3L345.5 321.9 348.3 324.4 335.4 328.5Z"/>
<path d="M317.0 326.5L329.8 323.3 332.6 326.3 319.7 329.4Z"/>
<path d="M888.5 456.0L901.5 451.5 904.3 470.9 891.2 473.2Z"/>
<path d="M873.1 454.9L886.2 452.4 888.5 456.0 875.5 460.0Z"/>
<path d="M301.3 321.1L314.2 319.0 317.0 326.5 304.1 328.4Z"/>
<path d="M857.8 459.0L870.8 456.8 873.1 454.9 860.1 457.5Z"/>
<path d="M842.4 464.7L855.5 462.6 857.8 459.0 844.8 461.3Z"/>
<path d="M827.1 470.1L840.1 467.9 842.4 464.7 829.4 466.7Z"/>
<path d="M811.8 473.5L824.8 471.0 827.1 470.1 814.1 472.3Z"/>
<path d="M660.8 383.1L673.8 384.0 675.8 399.4 662.8 398.4Z"/>
<path d="M645.6 366.5L658.6 367.1 660.8 383.1 647.8 382.6Z"/>
<path d="M675.8 399.4L688.8 400.9 690.8 408.0 677.8 405.4Z"/>
<path d="M630.5 351.4L643.4 352.0 645.6 366.5 632.7 366.2Z"/>
<path d="M796.5 465.3L809.5 461.1 811.8 473.5 798.8 475.9Z"/>
<path d="M690.8 408.0L703.8 411.0 705.8 408.7 692.8 405.3Z"/>
<path d="M285.7 315.1L298.6 313.1 301.3 321.1 288.5 322.9Z"/>
<path d="M615.3 346.8L628.3 349.2 630.5 351.4 617.5 351.2Z"/>
<path d="M705.8 408.7L718.8 411.9 720.8 407.8 707.9 404.5Z"/>
<path d="M720.8 407.8L733.8 410.7 735.9 408.0 722.9 405.3Z"/>
<path d="M781.2 446.2L794.2 441.5 796.5 465.3 783.5 469.2Z"/>
<path d="M600.2 347.9L613.1 350.0 615.3 346.8 602.4 345.1Z"/>
<path d="M735.9 408.0L748.9 409.0 750.9 409.3 737.9 409.7Z"/>
<path d="M585.0 349.3L598.0 350.5 600.2 347.9 587.2 346.3Z"/>
<path d="M765.9 426.3L778.9 422.3 781.2 446.2 768.2 449.7Z"/>
<path d="M750.9 409.3L763.9 408.9 765.9 426.3 752.9 429.1Z"/>
<path d="M569.9 343.5L582.8 342.7 585.0 349.3 572.1 348.6Z"/>
<path d="M554.8 336.0L567.7 334.2 569.9 343.5 556.9 344.6Z"/>
<path d="M539.6 329.4L552.6 326.9 554.8 336.0 541.8 338.0Z"/>
<path d="M270.1 309.2L283.0 307.2 285.7 315.1 272.9 317.0Z"/>
<path d="M523.9 324.2L536.8 321.4 539.6 329.4 526.7 332.0Z"/>
<path d="M254.5 303.8L267.4 301.7 270.1 309.2 257.3 311.2Z"/>
<path d="M508.1 322.3L521.1 320.2 523.9 324.2 511.0 327.0Z"/>
<path d="M238.9 298.4L251.8 296.5 254.5 303.8 241.7 306.4Z"/>
<path d="M492.4 322.5L505.3 320.3 508.1 322.3 495.2 324.5Z"/>
<path d="M476.7 322.9L489.6 321.1 492.4 322.5 479.5 324.7Z"/>
<path d="M460.9 327.5L473.8 325.7 476.7 322.9 463.7 324.9Z"/>
<path d="M445.2 323.2L458.1 321.1 460.9 327.5 448.0 329.2Z"/>
<path d="M429.5 319.0L442.4 314.8 445.2 323.2 432.3 327.6Z"/>
<path d="M413.8 316.9L426.7 310.0 429.5 319.0 416.6 325.7Z"/>
<path d="M398.1 317.1L411.0 308.1 413.8 316.9 400.9 325.8Z"/>
<path d="M382.4 319.5L395.3 308.8 398.1 317.1 385.2 327.3Z"/>
<path d="M366.7 322.4L379.6 313.9 382.4 319.5 369.5 328.1Z"/>
<path d="M908.1 489.4L921.2 488.9 925.1 514.4 912.0 514.7Z"/>
<path d="M351.0 326.8L363.9 319.7 366.7 322.4 353.8 329.2Z"/>
<path d="M335.4 328.5L348.3 324.4 351.0 326.8 338.2 330.7Z"/>
<path d="M891.2 473.2L904.3 470.9 908.1 489.4 895.1 488.9Z"/>
<path d="M319.7 329.4L332.6 326.3 335.4 328.5 322.5 331.5Z"/>
<path d="M304.1 328.4L317.0 326.5 319.7 329.4 306.8 331.3Z"/>
<path d="M875.5 460.0L888.5 456.0 891.2 473.2 878.2 475.3Z"/>
<path d="M860.1 457.5L873.1 454.9 875.5 460.0 862.4 463.7Z"/>
<path d="M288.5 322.9L301.3 321.1 304.1 328.4 291.2 330.2Z"/>
<path d="M844.8 461.3L857.8 459.0 860.1 457.5 847.1 460.2Z"/>
<path d="M829.4 466.7L842.4 464.7 844.8 461.3 831.7 463.5Z"/>
<path d="M814.1 472.3L827.1 470.1 829.4 466.7 816.4 468.9Z"/>
<path d="M798.8 475.9L811.8 473.5 814.1 472.3 801.1 474.4Z"/>
<path d="M647.8 382.6L660.8 383.1 662.8 398.4 649.9 397.6Z"/>
<path d="M632.7 366.2L645.6 366.5 647.8 382.6 634.9 382.3Z"/>
<path d="M662.8 398.4L675.8 399.4 677.8 405.4 664.9 403.2Z"/>
<path d="M617.5 351.2L630.5 351.4 632.7 366.2 619.7 366.3Z"/>
<path d="M783.5 469.2L796.5 465.3 798.8 475.9 785.8 477.9Z"/>
<path d="M677.8 405.4L690.8 408.0 692.8 405.3 679.9 402.5Z"/>
<path d="M272.9 317.0L285.7 315.1 288.5 322.9 275.6 324.8Z"/>
<path d="M602.4 345.1L615.3 346.8 617.5 351.2 604.5 351.6Z"/>
<path d="M692.8 405.3L705.8 408.7 707.9 404.5 694.9 401.3Z"/>
<path d="M707.9 404.5L720.8 407.8 722.9 405.3 709.9 402.5Z"/>
<path d="M768.2 449.7L781.2 446.2 783.5 469.2 770.5 471.9Z"/>
<path d="M587.2 346.3L600.2 347.9 602.4 345.1 589.4 344.2Z"/>
<path d="M722.9 405.3L735.9 408.0 737.9 409.7 724.9 409.4Z"/>
<path d="M572.1 348.6L585.0 349.3 587.2 346.3 574.3 345.4Z"/>
<path d="M752.9 429.1L765.9 426.3 768.2 449.7 755.1 452.0Z"/>
<path d="M737.9 409.7L750.9 409.3 752.9 429.1 739.9 430.1Z"/>
<path d="M556.9 344.6L569.9 343.5 572.1 348.6 559.1 348.4Z"/>
<path d="M541.8 338.0L554.8 336.0 556.9 344.6 544.0 346.0Z"/>
<path d="M526.7 332.0L539.6 329.4 541.8 338.0 528.9 340.1Z"/>
<path d="M257.3 311.2L270.1 309.2 272.9 317.0 260.0 318.9Z"/>
<path d="M511.0 327.0L523.9 324.2 526.7 332.0 513.8 334.5Z"/>
<path d="M241.7 306.4L254.5 303.8 257.3 311.2 244.4 313.7Z"/>
<path d="M495.2 324.5L508.1 322.3 511.0 327.0 498.0 329.8Z"/>
<path d="M479.5 324.7L492.4 322.5 495.2 324.5 482.3 326.7Z"/>
<path d="M463.7 324.9L476.7 322.9 479.5 324.7 466.5 326.9Z"/>
<path d="M448.0 329.2L460.9 327.5 463.7 324.9 450.8 327.2Z"/>
<path d="M432.3 327.6L445.2 323.2 448.0 329.2 435.1 333.3Z"/>
<path d="M416.6 325.7L429.5 319.0 432.3 327.6 419.4 334.1Z"/>
<path d="M400.9 325.8L413.8 316.9 416.6 325.7 403.7 334.5Z"/>
<path d="M385.2 327.3L398.1 317.1 400.9 325.8 388.0 335.5Z"/>
<path d="M912.0 514.7L925.1 514.4 928.9 546.4 915.9 546.4Z"/>
<path d="M369.5 328.1L382.4 319.5 385.2 327.3 372.3 335.5Z"/>
<path d="M353.8 329.2L366.7 322.4 369.5 328.1 356.6 334.8Z"/>
<path d="M895.1 488.9L908.1 489.4 912.0 514.7 899.0 514.3Z"/>
<path d="M338.2 330.7L351.0 326.8 353.8 329.2 340.9 332.9Z"/>
<path d="M322.5 331.5L335.4 328.5 338.2 330.7 325.3 333.5Z"/>
<path d="M878.2 475.3L891.2 473.2 895.1 488.9 882.1 488.6Z"/>
<path d="M306.8 331.3L319.7 329.4 322.5 331.5 309.6 333.3Z"/>
<path d="M291.2 330.2L304.1 328.4 306.8 331.3 294.0 333.0Z"/>
<path d="M862.4 463.7L875.5 460.0 878.2 475.3 865.2 477.1Z"/>
<path d="M847.1 460.2L860.1 457.5 862.4 463.7 849.4 467.1Z"/>
<path d="M275.6 324.8L288.5 322.9 291.2 330.2 278.3 332.0Z"/>
<path d="M831.7 463.5L844.8 461.3 847.1 460.2 834.0 462.8Z"/>
<path d="M816.4 468.9L829.4 466.7 831.7 463.5 818.7 465.9Z"/>
<path d="M801.1 474.4L814.1 472.3 816.4 468.9 803.4 470.9Z"/>
<path d="M785.8 477.9L798.8 475.9 801.1 474.4 788.1 476.1Z"/>
<path d="M634.9 382.3L647.8 382.6 649.9 397.6 636.9 397.1Z"/>
<path d="M619.7 366.3L632.7 366.2 634.9 382.3 621.9 382.4Z"/>
<path d="M649.9 397.6L662.8 398.4 664.9 403.2 651.9 401.3Z"/>
<path d="M604.5 351.6L617.5 351.2 619.7 366.3 606.7 367.0Z"/>
<path d="M770.5 471.9L783.5 469.2 785.8 477.9 772.7 478.8Z"/>
<path d="M664.9 403.2L677.8 405.4 679.9 402.5 666.9 400.1Z"/>
<path d="M260.0 318.9L272.9 317.0 275.6 324.8 262.7 326.6Z"/>
<path d="M589.4 344.2L602.4 345.1 604.5 351.6 591.6 352.8Z"/>
<path d="M679.9 402.5L692.8 405.3 694.9 401.3 681.9 398.6Z"/>
<path d="M694.9 401.3L707.9 404.5 709.9 402.5 696.9 399.9Z"/>
<path d="M755.1 452.0L768.2 449.7 770.5 471.9 757.4 473.3Z"/>
<path d="M574.3 345.4L587.2 346.3 589.4 344.2 576.4 344.1Z"/>
<path d="M709.9 402.5L722.9 405.3 724.9 409.4 711.9 408.9Z"/>
<path d="M559.1 348.4L572.1 348.6 574.3 345.4 561.3 345.0Z"/>
<path d="M739.9 430.1L752.9 429.1 755.1 452.0 742.1 452.3Z"/>
<path d="M724.9 409.4L737.9 409.7 739.9 430.1 726.9 429.7Z"/>
<path d="M544.0 346.0L556.9 344.6 559.1 348.4 546.2 348.6Z"/>
<path d="M528.9 340.1L541.8 338.0 544.0 346.0 531.0 347.7Z"/>
<path d="M513.8 334.5L526.7 332.0 528.9 340.1 515.9 342.3Z"/>
<path d="M498.0 329.8L511.0 327.0 513.8 334.5 500.8 337.1Z"/>
<path d="M482.3 326.7L495.2 324.5 498.0 329.8 485.1 333.0Z"/>
<path d="M466.5 326.9L479.5 324.7 482.3 326.7 469.3 329.9Z"/>
<path d="M450.8 327.2L463.7 324.9 466.5 326.9 453.6 329.2Z"/>
<path d="M435.1 333.3L448.0 329.2 450.8 327.2 437.9 332.1Z"/>
<path d="M419.4 334.1L432.3 327.6 435.1 333.3 422.2 339.1Z"/>
<path d="M915.9 546.4L928.9 546.4 932.8 587.9 919.8 587.4Z"/>
<path d="M403.7 334.5L416.6 325.7 419.4 334.1 406.5 342.6Z"/>
<path d="M388.0 335.5L400.9 325.8 403.7 334.5 390.8 343.5Z"/>
<path d="M372.3 335.5L385.2 327.3 388.0 335.5 375.1 343.3Z"/>
<path d="M899.0 514.3L912.0 514.7 915.9 546.4 902.8 545.5Z"/>
<path d="M356.6 334.8L369.5 328.1 372.3 335.5 359.4 341.9Z"/>
<path d="M340.9 332.9L353.8 329.2 356.6 334.8 343.7 338.7Z"/>
<path d="M882.1 488.6L895.1 488.9 899.0 514.3 885.9 513.9Z"/>
<path d="M325.3 333.5L338.2 330.7 340.9 332.9 328.0 335.6Z"/>
<path d="M309.6 333.3L322.5 331.5 325.3 333.5 312.4 335.2Z"/>
<path d="M865.2 477.1L878.2 475.3 882.1 488.6 869.0 488.4Z"/>
<path d="M294.0 333.0L306.8 331.3 309.6 333.3 296.7 335.0Z"/>
<path d="M278.3 332.0L291.2 330.2 294.0 333.0 281.1 334.8Z"/>
<path d="M849.4 467.1L862.4 463.7 865.2 477.1 852.1 478.9Z"/>
<path d="M834.0 462.8L847.1 460.2 849.4 467.1 836.3 470.2Z"/>
<path d="M262.7 326.6L275.6 324.8 278.3 332.0 265.5 333.7Z"/>
<path d="M818.7 465.9L831.7 463.5 834.0 462.8 821.0 465.6Z"/>
<path d="M803.4 470.9L816.4 468.9 818.7 465.9 805.7 468.1Z"/>
<path d="M788.1 476.1L801.1 474.4 803.4 470.9 790.4 472.5Z"/>
<path d="M772.7 478.8L785.8 477.9 788.1 476.1 775.0 476.6Z"/>
<path d="M621.9 382.4L634.9 382.3 636.9 397.1 623.9 397.0Z"/>
<path d="M606.7 367.0L619.7 366.3 621.9 382.4 608.9 383.0Z"/>
<path d="M636.9 397.1L649.9 397.6 651.9 401.3 638.9 399.7Z"/>
<path d="M591.6 352.8L604.5 351.6 606.7 367.0 593.8 368.4Z"/>
<path d="M757.4 473.3L770.5 471.9 772.7 478.8 759.7 478.5Z"/>
<path d="M651.9 401.3L664.9 403.2 666.9 400.1 653.9 398.0Z"/>
<path d="M576.4 344.1L589.4 344.2 591.6 352.8 578.6 354.7Z"/>
<path d="M666.9 400.1L679.9 402.5 681.9 398.6 668.9 396.5Z"/>
<path d="M681.9 398.6L694.9 401.3 696.9 399.9 683.9 398.0Z"/>
<path d="M742.1 452.3L755.1 452.0 757.4 473.3 744.4 472.8Z"/>
<path d="M561.3 345.0L574.3 345.4 576.4 344.1 563.5 344.4Z"/>
<path d="M696.9 399.9L709.9 402.5 711.9 408.9 698.9 408.4Z"/>
<path d="M546.2 348.6L559.1 348.4 561.3 345.0 548.3 345.2Z"/>
<path d="M726.9 429.7L739.9 430.1 742.1 452.3 729.1 451.5Z"/>
<path d="M711.9 408.9L724.9 409.4 726.9 429.7 713.9 429.0Z"/>
<path d="M531.0 347.7L544.0 346.0 546.2 348.6 533.2 349.0Z"/>
<path d="M515.9 342.3L528.9 340.1 531.0 347.7 518.1 349.5Z"/>
<path d="M500.8 337.1L513.8 334.5 515.9 342.3 503.0 344.6Z"/>
<path d="M485.1 333.0L498.0 329.8 500.8 337.1 487.9 340.3Z"/>
<path d="M469.3 329.9L482.3 326.7 485.1 333.0 472.1 336.8Z"/>
<path d="M453.6 329.2L466.5 326.9 469.3 329.9 456.4 334.0Z"/>
<path d="M437.9 332.1L450.8 327.2 453.6 329.2 440.7 334.3Z"/>
<path d="M919.8 587.4L932.8 587.9 936.7 645.9 923.6 644.5Z"/>
<path d="M422.2 339.1L435.1 333.3 437.9 332.1 425.0 338.7Z"/>
<path d="M406.5 342.6L419.4 334.1 422.2 339.1 409.3 346.9Z"/>
<path d="M902.8 545.5L915.9 546.4 919.8 587.4 906.7 585.8Z"/>
<path d="M390.8 343.5L403.7 334.5 406.5 342.6 393.5 351.1Z"/>
<path d="M375.1 343.3L388.0 335.5 390.8 343.5 377.9 351.0Z"/>
<path d="M359.4 341.9L372.3 335.5 375.1 343.3 362.2 349.2Z"/>
<path d="M885.9 513.9L899.0 514.3 902.8 545.5 889.8 544.7Z"/>
<path d="M343.7 338.7L356.6 334.8 359.4 341.9 346.5 345.7Z"/>
<path d="M328.0 335.6L340.9 332.9 343.7 338.7 330.8 341.6Z"/>
<path d="M869.0 488.4L882.1 488.6 885.9 513.9 872.9 513.6Z"/>
<path d="M312.4 335.2L325.3 333.5 328.0 335.6 315.1 337.2Z"/>
<path d="M296.7 335.0L309.6 333.3 312.4 335.2 299.5 336.9Z"/>
<path d="M852.1 478.9L865.2 477.1 869.0 488.4 856.0 488.6Z"/>
<path d="M281.1 334.8L294.0 333.0 296.7 335.0 283.8 336.6Z"/>
<path d="M265.5 333.7L278.3 332.0 281.1 334.8 268.2 336.5Z"/>
<path d="M836.3 470.2L849.4 467.1 852.1 478.9 839.1 480.7Z"/>
<path d="M821.0 465.6L834.0 462.8 836.3 470.2 823.3 473.2Z"/>
<path d="M805.7 468.1L818.7 465.9 821.0 465.6 808.0 468.3Z"/>
<path d="M790.4 472.5L803.4 470.9 805.7 468.1 792.7 469.8Z"/>
<path d="M775.0 476.6L788.1 476.1 790.4 472.5 777.3 472.9Z"/>
<path d="M759.7 478.5L772.7 478.8 775.0 476.6 762.0 476.0Z"/>
<path d="M608.9 383.0L621.9 382.4 623.9 397.0 610.9 397.5Z"/>
<path d="M593.8 368.4L606.7 367.0 608.9 383.0 595.9 384.3Z"/>
<path d="M623.9 397.0L636.9 397.1 638.9 399.7 625.9 398.4Z"/>
<path d="M578.6 354.7L591.6 352.8 593.8 368.4 580.8 370.4Z"/>
<path d="M744.4 472.8L757.4 473.3 759.7 478.5 746.7 476.3Z"/>
<path d="M638.9 399.7L651.9 401.3 653.9 398.0 640.9 396.2Z"/>
<path d="M563.5 344.4L576.4 344.1 578.6 354.7 565.7 357.0Z"/>
<path d="M653.9 398.0L666.9 400.1 668.9 396.5 655.9 394.7Z"/>
<path d="M668.9 396.5L681.9 398.6 683.9 398.0 670.9 396.3Z"/>
<path d="M729.1 451.5L742.1 452.3 744.4 472.8 731.4 471.3Z"/>
<path d="M548.3 345.2L561.3 345.0 563.5 344.4 550.5 345.6Z"/>
<path d="M683.9 398.0L696.9 399.9 698.9 408.4 685.9 408.4Z"/>
<path d="M533.2 349.0L546.2 348.6 548.3 345.2 535.4 345.8Z"/>
<path d="M713.9 429.0L726.9 429.7 729.1 451.5 716.1 450.2Z"/>
<path d="M698.9 408.4L711.9 408.9 713.9 429.0 700.9 428.3Z"/>
<path d="M518.1 349.5L531.0 347.7 533.2 349.0 520.3 349.7Z"/>
<path d="M503.0 344.6L515.9 342.3 518.1 349.5 505.2 351.6Z"/>
<path d="M487.9 340.3L500.8 337.1 503.0 344.6 490.0 347.8Z"/>
<path d="M472.1 336.8L485.1 333.0 487.9 340.3 474.9 344.2Z"/>
<path d="M456.4 334.0L469.3 329.9 472.1 336.8 459.2 341.2Z"/>
<path d="M923.6 644.5L936.7 645.9 940.6 730.8 927.5 728.0Z"/>
<path d="M440.7 334.3L453.6 329.2 456.4 334.0 443.5 340.8Z"/>
<path d="M425.0 338.7L437.9 332.1 440.7 334.3 427.8 342.0Z"/>
<path d="M906.7 585.8L919.8 587.4 923.6 644.5 910.6 641.9Z"/>
<path d="M409.3 346.9L422.2 339.1 425.0 338.7 412.0 347.4Z"/>
<path d="M393.5 351.1L406.5 342.6 409.3 346.9 396.3 354.4Z"/>
<path d="M889.8 544.7L902.8 545.5 906.7 585.8 893.6 584.2Z"/>
<path d="M377.9 351.0L390.8 343.5 393.5 351.1 380.6 358.2Z"/>
<path d="M362.2 349.2L375.1 343.3 377.9 351.0 364.9 356.4Z"/>
<path d="M346.5 345.7L359.4 341.9 362.2 349.2 349.3 352.9Z"/>
<path d="M872.9 513.6L885.9 513.9 889.8 544.7 876.7 544.0Z"/>
<path d="M330.8 341.6L343.7 338.7 346.5 345.7 333.6 348.5Z"/>
<path d="M315.1 337.2L328.0 335.6 330.8 341.6 317.9 343.6Z"/>
<path d="M856.0 488.6L869.0 488.4 872.9 513.6 859.8 513.7Z"/>
<path d="M299.5 336.9L312.4 335.2 315.1 337.2 302.2 339.0Z"/>
<path d="M283.8 336.6L296.7 335.0 299.5 336.9 286.6 338.5Z"/>
<path d="M839.1 480.7L852.1 478.9 856.0 488.6 842.9 489.0Z"/>
<path d="M268.2 336.5L281.1 334.8 283.8 336.6 270.9 338.3Z"/>
<path d="M823.3 473.2L836.3 470.2 839.1 480.7 826.0 482.4Z"/>
<path d="M808.0 468.3L821.0 465.6 823.3 473.2 810.3 475.8Z"/>
<path d="M792.7 469.8L805.7 468.1 808.0 468.3 795.0 470.7Z"/>
<path d="M777.3 472.9L790.4 472.5 792.7 469.8 779.6 470.4Z"/>
<path d="M762.0 476.0L775.0 476.6 777.3 472.9 764.3 472.1Z"/>
<path d="M746.7 476.3L759.7 478.5 762.0 476.0 749.0 473.4Z"/>
<path d="M595.9 384.3L608.9 383.0 610.9 397.5 598.0 398.5Z"/>
<path d="M580.8 370.4L593.8 368.4 595.9 384.3 583.0 386.1Z"/>
<path d="M610.9 397.5L623.9 397.0 625.9 398.4 612.9 397.7Z"/>
<path d="M565.7 357.0L578.6 354.7 580.8 370.4 567.8 372.7Z"/>
<path d="M731.4 471.3L744.4 472.8 746.7 476.3 733.7 473.3Z"/>
<path d="M625.9 398.4L638.9 399.7 640.9 396.2 627.9 394.8Z"/>
<path d="M550.5 345.6L563.5 344.4 565.7 357.0 552.7 359.7Z"/>
<path d="M640.9 396.2L653.9 398.0 655.9 394.7 642.9 393.3Z"/>
<path d="M655.9 394.7L668.9 396.5 670.9 396.3 657.9 395.0Z"/>
<path d="M716.1 450.2L729.1 451.5 731.4 471.3 718.4 469.2Z"/>
<path d="M535.4 345.8L548.3 345.2 550.5 345.6 537.6 348.4Z"/>
<path d="M670.9 396.3L683.9 398.0 685.9 408.4 672.9 408.5Z"/>
<path d="M520.3 349.7L533.2 349.0 535.4 345.8 522.4 346.8Z"/>
<path d="M700.9 428.3L713.9 429.0 716.1 450.2 703.1 448.8Z"/>
<path d="M685.9 408.4L698.9 408.4 700.9 428.3 687.9 427.8Z"/>
<path d="M505.2 351.6L518.1 349.5 520.3 349.7 507.3 350.7Z"/>
<path d="M490.0 347.8L503.0 344.6 505.2 351.6 492.2 354.1Z"/>
<path d="M474.9 344.2L487.9 340.3 490.0 347.8 477.1 351.5Z"/>
<path d="M459.2 341.2L472.1 336.8 474.9 344.2 462.0 348.7Z"/>
<path d="M443.5 340.8L456.4 334.0 459.2 341.2 446.3 347.9Z"/>
<path d="M910.6 641.9L923.6 644.5 927.5 728.0 914.4 723.5Z"/>
<path d="M427.8 342.0L440.7 334.3 443.5 340.8 430.6 348.5Z"/>
<path d="M412.0 347.4L425.0 338.7 427.8 342.0 414.8 351.8Z"/>
<path d="M893.6 584.2L906.7 585.8 910.6 641.9 897.5 639.3Z"/>
<path d="M396.3 354.4L409.3 346.9 412.0 347.4 399.1 355.4Z"/>
<path d="M380.6 358.2L393.5 351.1 396.3 354.4 383.4 360.7Z"/>
<path d="M876.7 544.0L889.8 544.7 893.6 584.2 880.6 582.8Z"/>
<path d="M364.9 356.4L377.9 351.0 380.6 358.2 367.7 363.3Z"/>
<path d="M349.3 352.9L362.2 349.2 364.9 356.4 352.0 360.1Z"/>
<path d="M333.6 348.5L346.5 345.7 349.3 352.9 336.4 355.6Z"/>
<path d="M859.8 513.7L872.9 513.6 876.7 544.0 863.7 543.5Z"/>
<path d="M317.9 343.6L330.8 341.6 333.6 348.5 320.7 350.5Z"/>
<path d="M302.2 339.0L315.1 337.2 317.9 343.6 305.0 345.6Z"/>
<path d="M842.9 489.0L856.0 488.6 859.8 513.7 846.8 514.8Z"/>
<path d="M286.6 338.5L299.5 336.9 302.2 339.0 289.4 340.9Z"/>
<path d="M270.9 338.3L283.8 336.6 286.6 338.5 273.7 340.1Z"/>
<path d="M826.0 482.4L839.1 480.7 842.9 489.0 829.9 489.5Z"/>
<path d="M810.3 475.8L823.3 473.2 826.0 482.4 813.0 483.9Z"/>
<path d="M795.0 470.7L808.0 468.3 810.3 475.8 797.2 477.7Z"/>
<path d="M779.6 470.4L792.7 469.8 795.0 470.7 781.9 472.0Z"/>
<path d="M764.3 472.1L777.3 472.9 779.6 470.4 766.6 469.7Z"/>
<path d="M749.0 473.4L762.0 476.0 764.3 472.1 751.3 469.4Z"/>
<path d="M733.7 473.3L746.7 476.3 749.0 473.4 736.0 470.1Z"/>
<path d="M583.0 386.1L595.9 384.3 598.0 398.5 585.0 399.2Z"/>
<path d="M567.8 372.7L580.8 370.4 583.0 386.1 570.0 388.3Z"/>
<path d="M598.0 398.5L610.9 397.5 612.9 397.7 599.9 397.7Z"/>
<path d="M552.7 359.7L565.7 357.0 567.8 372.7 554.9 375.3Z"/>
<path d="M718.4 469.2L731.4 471.3 733.7 473.3 720.7 469.7Z"/>
<path d="M612.9 397.7L625.9 398.4 627.9 394.8 614.9 394.1Z"/>
<path d="M537.6 348.4L550.5 345.6 552.7 359.7 539.7 362.7Z"/>
<path d="M627.9 394.8L640.9 396.2 642.9 393.3 629.9 392.4Z"/>
<path d="M642.9 393.3L655.9 394.7 657.9 395.0 644.9 394.0Z"/>
<path d="M703.1 448.8L716.1 450.2 718.4 469.2 705.4 466.7Z"/>
<path d="M522.4 346.8L535.4 345.8 537.6 348.4 524.6 351.5Z"/>
<path d="M657.9 395.0L670.9 396.3 672.9 408.5 659.9 408.7Z"/>
<path d="M507.3 350.7L520.3 349.7 522.4 346.8 509.5 348.4Z"/>
<path d="M687.9 427.8L700.9 428.3 703.1 448.8 690.1 447.5Z"/>
<path d="M672.9 408.5L685.9 408.4 687.9 427.8 674.9 427.4Z"/>
<path d="M492.2 354.1L505.2 351.6 507.3 350.7 494.4 352.3Z"/>
<path d="M477.1 351.5L490.0 347.8 492.2 354.1 479.3 356.7Z"/>
<path d="M462.0 348.7L474.9 344.2 477.1 351.5 464.2 356.1Z"/>
<path d="M446.3 347.9L459.2 341.2 462.0 348.7 449.1 355.2Z"/>
<path d="M430.6 348.5L443.5 340.8 446.3 347.9 433.3 355.4Z"/>
<path d="M897.5 639.3L910.6 641.9 914.4 723.5 901.4 719.3Z"/>
<path d="M414.8 351.8L427.8 342.0 430.6 348.5 417.6 358.0Z"/>
<path d="M399.1 355.4L412.0 347.4 414.8 351.8 401.9 360.6Z"/>
<path d="M880.6 582.8L893.6 584.2 897.5 639.3 884.4 636.8Z"/>
<path d="M383.4 360.7L396.3 354.4 399.1 355.4 386.2 362.9Z"/>
<path d="M367.7 363.3L380.6 358.2 383.4 360.7 370.5 365.3Z"/>
<path d="M863.7 543.5L876.7 544.0 880.6 582.8 867.5 581.5Z"/>
<path d="M352.0 360.1L364.9 356.4 367.7 363.3 354.8 366.8Z"/>
<path d="M336.4 355.6L349.3 352.9 352.0 360.1 339.1 362.7Z"/>
<path d="M320.7 350.5L333.6 348.5 336.4 355.6 323.4 357.8Z"/>
<path d="M846.8 514.8L859.8 513.7 863.7 543.5 850.6 544.4Z"/>
<path d="M305.0 345.6L317.9 343.6 320.7 350.5 307.8 352.6Z"/>
<path d="M289.4 340.9L302.2 339.0 305.0 345.6 292.1 347.6Z"/>
<path d="M829.9 489.5L842.9 489.0 846.8 514.8 833.7 517.3Z"/>
<path d="M273.7 340.1L286.6 338.5 289.4 340.9 276.5 342.9Z"/>
<path d="M813.0 483.9L826.0 482.4 829.9 489.5 816.8 490.1Z"/>
<path d="M797.2 477.7L810.3 475.8 813.0 483.9 800.0 485.0Z"/>
<path d="M781.9 472.0L795.0 470.7 797.2 477.7 784.2 478.8Z"/>
<path d="M766.6 469.7L779.6 470.4 781.9 472.0 768.9 472.1Z"/>
<path d="M751.3 469.4L764.3 472.1 766.6 469.7 753.6 467.2Z"/>
<path d="M736.0 470.1L749.0 473.4 751.3 469.4 738.3 466.2Z"/>
<path d="M720.7 469.7L733.7 473.3 736.0 470.1 723.0 466.4Z"/>
<path d="M570.0 388.3L583.0 386.1 585.0 399.2 572.0 400.2Z"/>
<path d="M554.9 375.3L567.8 372.7 570.0 388.3 557.0 390.6Z"/>
<path d="M585.0 399.2L598.0 398.5 599.9 397.7 587.0 398.1Z"/>
<path d="M539.7 362.7L552.7 359.7 554.9 375.3 541.9 378.1Z"/>
<path d="M705.4 466.7L718.4 469.2 720.7 469.7 707.7 466.3Z"/>
<path d="M599.9 397.7L612.9 397.7 614.9 394.1 601.9 394.1Z"/>
<path d="M524.6 351.5L537.6 348.4 539.7 362.7 526.8 365.8Z"/>
<path d="M614.9 394.1L627.9 394.8 629.9 392.4 616.9 392.4Z"/>
<path d="M629.9 392.4L642.9 393.3 644.9 394.0 631.9 394.5Z"/>
<path d="M690.1 447.5L703.1 448.8 705.4 466.7 692.4 463.6Z"/>
<path d="M509.5 348.4L522.4 346.8 524.6 351.5 511.6 355.0Z"/>
<path d="M644.9 394.0L657.9 395.0 659.9 408.7 646.9 409.1Z"/>
<path d="M494.4 352.3L507.3 350.7 509.5 348.4 496.5 350.6Z"/>
<path d="M674.9 427.4L687.9 427.8 690.1 447.5 677.1 446.2Z"/>
<path d="M659.9 408.7L672.9 408.5 674.9 427.4 661.9 426.8Z"/>
<path d="M479.3 356.7L492.2 354.1 494.4 352.3 481.4 354.1Z"/>
<path d="M464.2 356.1L477.1 351.5 479.3 356.7 466.3 359.8Z"/>
<path d="M449.1 355.2L462.0 348.7 464.2 356.1 451.2 362.2Z"/>
<path d="M433.3 355.4L446.3 347.9 449.1 355.2 436.1 362.2Z"/>
<path d="M417.6 358.0L430.6 348.5 433.3 355.4 420.4 364.4Z"/>
<path d="M884.4 636.8L897.5 639.3 901.4 719.3 888.3 714.8Z"/>
<path d="M401.9 360.6L414.8 351.8 417.6 358.0 404.7 366.4Z"/>
<path d="M386.2 362.9L399.1 355.4 401.9 360.6 389.0 368.1Z"/>
<path d="M867.5 581.5L880.6 582.8 884.4 636.8 871.4 634.2Z"/>
<path d="M370.5 365.3L383.4 360.7 386.2 362.9 373.3 368.4Z"/>
<path d="M354.8 366.8L367.7 363.3 370.5 365.3 357.6 368.7Z"/>
<path d="M850.6 544.4L863.7 543.5 867.5 581.5 854.5 582.1Z"/>
<path d="M339.1 362.7L352.0 360.1 354.8 366.8 341.9 369.3Z"/>
<path d="M323.4 357.8L336.4 355.6 339.1 362.7 326.2 364.8Z"/>
<path d="M307.8 352.6L320.7 350.5 323.4 357.8 310.5 359.9Z"/>
<path d="M833.7 517.3L846.8 514.8 850.6 544.4 837.6 548.1Z"/>
<path d="M292.1 347.6L305.0 345.6 307.8 352.6 294.9 354.7Z"/>
<path d="M276.5 342.9L289.4 340.9 292.1 347.6 279.2 349.6Z"/>
<path d="M816.8 490.1L829.9 489.5 833.7 517.3 820.7 520.1Z"/>
<path d="M800.0 485.0L813.0 483.9 816.8 490.1 803.8 490.6Z"/>
<path d="M784.2 478.8L797.2 477.7 800.0 485.0 786.9 485.9Z"/>
<path d="M768.9 472.1L781.9 472.0 784.2 478.8 771.2 479.1Z"/>
<path d="M753.6 467.2L766.6 469.7 768.9 472.1 755.9 470.8Z"/>
<path d="M738.3 466.2L751.3 469.4 753.6 467.2 740.5 464.3Z"/>
<path d="M723.0 466.4L736.0 470.1 738.3 466.2 725.2 462.6Z"/>
<path d="M707.7 466.3L720.7 469.7 723.0 466.4 710.0 462.8Z"/>
<path d="M557.0 390.6L570.0 388.3 572.0 400.2 559.0 401.4Z"/>
<path d="M541.9 378.1L554.9 375.3 557.0 390.6 544.1 393.1Z"/>
<path d="M572.0 400.2L585.0 399.2 587.0 398.1 574.0 398.7Z"/>
<path d="M526.8 365.8L539.7 362.7 541.9 378.1 528.9 381.1Z"/>
<path d="M692.4 463.6L705.4 466.7 707.7 466.3 694.7 462.9Z"/>
<path d="M587.0 398.1L599.9 397.7 601.9 394.1 589.0 394.5Z"/>
<path d="M511.6 355.0L524.6 351.5 526.8 365.8 513.8 369.4Z"/>
<path d="M601.9 394.1L614.9 394.1 616.9 392.4 603.9 393.1Z"/>
<path d="M616.9 392.4L629.9 392.4 631.9 394.5 618.9 396.2Z"/>
<path d="M677.1 446.2L690.1 447.5 692.4 463.6 679.4 460.4Z"/>
<path d="M496.5 350.6L509.5 348.4 511.6 355.0 498.7 359.0Z"/>
<path d="M631.9 394.5L644.9 394.0 646.9 409.1 633.9 409.8Z"/>
<path d="M481.4 354.1L494.4 352.3 496.5 350.6 483.6 353.2Z"/>
<path d="M661.9 426.8L674.9 427.4 677.1 446.2 664.1 444.7Z"/>
<path d="M646.9 409.1L659.9 408.7 661.9 426.8 648.9 426.5Z"/>
<path d="M466.3 359.8L479.3 356.7 481.4 354.1 468.5 356.9Z"/>
<path d="M451.2 362.2L464.2 356.1 466.3 359.8 453.4 363.8Z"/>
<path d="M436.1 362.2L449.1 355.2 451.2 362.2 438.3 368.7Z"/>
<path d="M420.4 364.4L433.3 355.4 436.1 362.2 423.2 370.5Z"/>
<path d="M404.7 366.4L417.6 358.0 420.4 364.4 407.5 372.2Z"/>
<path d="M871.4 634.2L884.4 636.8 888.3 714.8 875.2 709.8Z"/>
<path d="M389.0 368.1L401.9 360.6 404.7 366.4 391.8 373.6Z"/>
<path d="M373.3 368.4L386.2 362.9 389.0 368.1 376.1 373.4Z"/>
<path d="M854.5 582.1L867.5 581.5 871.4 634.2 858.3 634.4Z"/>
<path d="M357.6 368.7L370.5 365.3 373.3 368.4 360.4 372.5Z"/>
<path d="M341.9 369.3L354.8 366.8 357.6 368.7 344.7 371.2Z"/>
<path d="M837.6 548.1L850.6 544.4 854.5 582.1 841.4 587.1Z"/>
<path d="M326.2 364.8L339.1 362.7 341.9 369.3 329.0 371.5Z"/>
<path d="M310.5 359.9L323.4 357.8 326.2 364.8 313.3 367.0Z"/>
<path d="M294.9 354.7L307.8 352.6 310.5 359.9 297.6 362.0Z"/>
<path d="M820.7 520.1L833.7 517.3 837.6 548.1 824.5 551.8Z"/>
<path d="M279.2 349.6L292.1 347.6 294.9 354.7 282.0 356.8Z"/>
<path d="M803.8 490.6L816.8 490.1 820.7 520.1 807.6 522.7Z"/>
<path d="M786.9 485.9L800.0 485.0 803.8 490.6 790.8 491.2Z"/>
<path d="M771.2 479.1L784.2 478.8 786.9 485.9 773.9 486.5Z"/>
<path d="M755.9 470.8L768.9 472.1 771.2 479.1 758.1 478.8Z"/>
<path d="M740.5 464.3L753.6 467.2 755.9 470.8 742.8 469.4Z"/>
<path d="M725.2 462.6L738.3 466.2 740.5 464.3 727.5 461.1Z"/>
<path d="M710.0 462.8L723.0 466.4 725.2 462.6 712.2 459.2Z"/>
<path d="M694.7 462.9L707.7 466.3 710.0 462.8 696.9 459.4Z"/>
<path d="M544.1 393.1L557.0 390.6 559.0 401.4 546.0 402.7Z"/>
<path d="M528.9 381.1L541.9 378.1 544.1 393.1 531.1 395.7Z"/>
<path d="M559.0 401.4L572.0 400.2 574.0 398.7 561.0 399.5Z"/>
<path d="M513.8 369.4L526.8 365.8 528.9 381.1 516.0 384.5Z"/>
<path d="M679.4 460.4L692.4 463.6 694.7 462.9 681.6 459.4Z"/>
<path d="M574.0 398.7L587.0 398.1 589.0 394.5 576.0 395.3Z"/>
<path d="M498.7 359.0L511.6 355.0 513.8 369.4 500.8 373.3Z"/>
<path d="M589.0 394.5L601.9 394.1 603.9 393.1 590.9 394.2Z"/>
<path d="M603.9 393.1L616.9 392.4 618.9 396.2 605.9 398.4Z"/>
<path d="M664.1 444.7L677.1 446.2 679.4 460.4 666.4 457.2Z"/>
<path d="M483.6 353.2L496.5 350.6 498.7 359.0 485.7 363.3Z"/>
<path d="M618.9 396.2L631.9 394.5 633.9 409.8 620.9 411.2Z"/>
<path d="M468.5 356.9L481.4 354.1 483.6 353.2 470.6 356.8Z"/>
<path d="M648.9 426.5L661.9 426.8 664.1 444.7 651.1 443.3Z"/>
<path d="M633.9 409.8L646.9 409.1 648.9 426.5 635.9 426.5Z"/>
<path d="M453.4 363.8L466.3 359.8 468.5 356.9 455.5 360.9Z"/>
<path d="M438.3 368.7L451.2 362.2 453.4 363.8 440.4 368.2Z"/>
<path d="M423.2 370.5L436.1 362.2 438.3 368.7 425.3 374.9Z"/>
<path d="M407.5 372.2L420.4 364.4 423.2 370.5 410.2 377.7Z"/>
<path d="M391.8 373.6L404.7 366.4 407.5 372.2 394.5 378.9Z"/>
<path d="M858.3 634.4L871.4 634.2 875.2 709.8 862.2 708.2Z"/>
<path d="M376.1 373.4L389.0 368.1 391.8 373.6 378.8 378.6Z"/>
<path d="M360.4 372.5L373.3 368.4 376.1 373.4 363.1 377.4Z"/>
<path d="M841.4 587.1L854.5 582.1 858.3 634.4 845.3 641.3Z"/>
<path d="M344.7 371.2L357.6 368.7 360.4 372.5 347.4 375.7Z"/>
<path d="M329.0 371.5L341.9 369.3 344.7 371.2 331.7 374.0Z"/>
<path d="M824.5 551.8L837.6 548.1 841.4 587.1 828.4 591.9Z"/>
<path d="M313.3 367.0L326.2 364.8 329.0 371.5 316.1 373.7Z"/>
<path d="M297.6 362.0L310.5 359.9 313.3 367.0 300.4 369.2Z"/>
<path d="M282.0 356.8L294.9 354.7 297.6 362.0 284.7 364.2Z"/>
<path d="M807.6 522.7L820.7 520.1 824.5 551.8 811.5 554.9Z"/>
<path d="M790.8 491.2L803.8 490.6 807.6 522.7 794.6 523.6Z"/>
<path d="M773.9 486.5L786.9 485.9 790.8 491.2 777.7 491.8Z"/>
<path d="M758.1 478.8L771.2 479.1 773.9 486.5 760.8 487.2Z"/>
<path d="M742.8 469.4L755.9 470.8 758.1 478.8 745.1 478.6Z"/>
<path d="M727.5 461.1L740.5 464.3 742.8 469.4 729.8 468.0Z"/>
<path d="M712.2 459.2L725.2 462.6 727.5 461.1 714.5 458.2Z"/>
<path d="M696.9 459.4L710.0 462.8 712.2 459.2 699.2 455.9Z"/>
<path d="M681.6 459.4L694.7 462.9 696.9 459.4 683.9 455.8Z"/>
<path d="M531.1 395.7L544.1 393.1 546.0 402.7 533.1 404.2Z"/>
<path d="M516.0 384.5L528.9 381.1 531.1 395.7 518.1 398.8Z"/>
<path d="M546.0 402.7L559.0 401.4 561.0 399.5 548.0 400.4Z"/>
<path d="M500.8 373.3L513.8 369.4 516.0 384.5 503.0 388.2Z"/>
<path d="M666.4 457.2L679.4 460.4 681.6 459.4 668.6 456.0Z"/>
<path d="M561.0 399.5L574.0 398.7 576.0 395.3 563.0 396.3Z"/>
<path d="M485.7 363.3L498.7 359.0 500.8 373.3 487.9 377.6Z"/>
<path d="M576.0 395.3L589.0 394.5 590.9 394.2 578.0 395.6Z"/>
<path d="M590.9 394.2L603.9 393.1 605.9 398.4 592.9 400.8Z"/>
<path d="M651.1 443.3L664.1 444.7 666.4 457.2 653.4 454.3Z"/>
<path d="M470.6 356.8L483.6 353.2 485.7 363.3 472.8 368.7Z"/>
<path d="M605.9 398.4L618.9 396.2 620.9 411.2 607.9 413.0Z"/>
<path d="M455.5 360.9L468.5 356.9 470.6 356.8 457.7 362.1Z"/>
<path d="M635.9 426.5L648.9 426.5 651.1 443.3 638.1 442.5Z"/>
<path d="M620.9 411.2L633.9 409.8 635.9 426.5 622.9 427.3Z"/>
<path d="M440.4 368.2L453.4 363.8 455.5 360.9 442.6 365.9Z"/>
<path d="M425.3 374.9L438.3 368.7 440.4 368.2 427.5 373.2Z"/>
<path d="M410.2 377.7L423.2 370.5 425.3 374.9 412.4 379.7Z"/>
<path d="M394.5 378.9L407.5 372.2 410.2 377.7 397.3 383.6Z"/>
<path d="M378.8 378.6L391.8 373.6 394.5 378.9 381.6 383.5Z"/>
<path d="M845.3 641.3L858.3 634.4 862.2 708.2 849.1 715.7Z"/>
<path d="M363.1 377.4L376.1 373.4 378.8 378.6 365.9 382.3Z"/>
<path d="M347.4 375.7L360.4 372.5 363.1 377.4 350.2 380.5Z"/>
<path d="M828.4 591.9L841.4 587.1 845.3 641.3 832.2 647.7Z"/>
<path d="M331.7 374.0L344.7 371.2 347.4 375.7 334.5 378.6Z"/>
<path d="M316.1 373.7L329.0 371.5 331.7 374.0 318.8 376.8Z"/>
<path d="M811.5 554.9L824.5 551.8 828.4 591.9 815.3 595.7Z"/>
<path d="M300.4 369.2L313.3 367.0 316.1 373.7 303.2 375.9Z"/>
<path d="M284.7 364.2L297.6 362.0 300.4 369.2 287.5 371.4Z"/>
<path d="M794.6 523.6L807.6 522.7 811.5 554.9 798.4 554.8Z"/>
<path d="M777.7 491.8L790.8 491.2 794.6 523.6 781.5 521.4Z"/>
<path d="M760.8 487.2L773.9 486.5 777.7 491.8 764.7 492.7Z"/>
<path d="M745.1 478.6L758.1 478.8 760.8 487.2 747.8 488.1Z"/>
<path d="M729.8 468.0L742.8 469.4 745.1 478.6 732.1 478.6Z"/>
<path d="M714.5 458.2L727.5 461.1 729.8 468.0 716.8 467.1Z"/>
<path d="M699.2 455.9L712.2 459.2 714.5 458.2 701.5 455.4Z"/>
<path d="M683.9 455.8L696.9 459.4 699.2 455.9 686.2 452.5Z"/>
<path d="M668.6 456.0L681.6 459.4 683.9 455.8 670.9 452.3Z"/>
<path d="M518.1 398.8L531.1 395.7 533.1 404.2 520.1 406.1Z"/>
<path d="M503.0 388.2L516.0 384.5 518.1 398.8 505.1 402.2Z"/>
<path d="M533.1 404.2L546.0 402.7 548.0 400.4 535.0 401.6Z"/>
<path d="M487.9 377.6L500.8 373.3 503.0 388.2 490.0 392.3Z"/>
<path d="M653.4 454.3L666.4 457.2 668.6 456.0 655.6 452.9Z"/>
<path d="M548.0 400.4L561.0 399.5 563.0 396.3 550.0 397.6Z"/>
<path d="M472.8 368.7L485.7 363.3 487.9 377.6 474.9 383.0Z"/>
<path d="M563.0 396.3L576.0 395.3 578.0 395.6 565.0 397.1Z"/>
<path d="M578.0 395.6L590.9 394.2 592.9 400.8 579.9 403.5Z"/>
<path d="M638.1 442.5L651.1 443.3 653.4 454.3 640.4 452.1Z"/>
<path d="M457.7 362.1L470.6 356.8 472.8 368.7 459.8 374.9Z"/>
<path d="M592.9 400.8L605.9 398.4 607.9 413.0 594.9 415.1Z"/>
<path d="M442.6 365.9L455.5 360.9 457.7 362.1 444.7 369.2Z"/>
<path d="M622.9 427.3L635.9 426.5 638.1 442.5 625.1 442.6Z"/>
<path d="M607.9 413.0L620.9 411.2 622.9 427.3 609.9 428.5Z"/>
<path d="M427.5 373.2L440.4 368.2 442.6 365.9 429.6 371.6Z"/>
<path d="M412.4 379.7L425.3 374.9 427.5 373.2 414.5 377.5Z"/>
<path d="M397.3 383.6L410.2 377.7 412.4 379.7 399.4 383.4Z"/>
<path d="M381.6 383.5L394.5 378.9 397.3 383.6 384.4 386.7Z"/>
<path d="M365.9 382.3L378.8 378.6 381.6 383.5 368.7 386.9Z"/>
<path d="M832.2 647.7L845.3 641.3 849.1 715.7 836.0 721.0Z"/>
<path d="M350.2 380.5L363.1 377.4 365.9 382.3 353.0 385.2Z"/>
<path d="M334.5 378.6L347.4 375.7 350.2 380.5 337.3 383.3Z"/>
<path d="M815.3 595.7L828.4 591.9 832.2 647.7 819.1 652.1Z"/>
<path d="M318.8 376.8L331.7 374.0 334.5 378.6 321.6 381.4Z"/>
<path d="M303.2 375.9L316.1 373.7 318.8 376.8 305.9 379.6Z"/>
<path d="M798.4 554.8L811.5 554.9 815.3 595.7 802.3 594.5Z"/>
<path d="M287.5 371.4L300.4 369.2 303.2 375.9 290.2 378.1Z"/>
<path d="M781.5 521.4L794.6 523.6 798.4 554.8 785.4 549.2Z"/>
<path d="M764.7 492.7L777.7 491.8 781.5 521.4 768.5 519.0Z"/>
<path d="M747.8 488.1L760.8 487.2 764.7 492.7 751.6 493.9Z"/>
<path d="M732.1 478.6L745.1 478.6 747.8 488.1 734.8 489.2Z"/>
<path d="M716.8 467.1L729.8 468.0 732.1 478.6 719.0 478.7Z"/>
<path d="M701.5 455.4L714.5 458.2 716.8 467.1 703.7 466.1Z"/>
<path d="M686.2 452.5L699.2 455.9 701.5 455.4 688.4 453.3Z"/>
<path d="M670.9 452.3L683.9 455.8 686.2 452.5 673.2 449.3Z"/>
<path d="M655.6 452.9L668.6 456.0 670.9 452.3 657.9 449.2Z"/>
<path d="M505.1 402.2L518.1 398.8 520.1 406.1 507.1 408.3Z"/>
<path d="M490.0 392.3L503.0 388.2 505.1 402.2 492.2 406.0Z"/>
<path d="M520.1 406.1L533.1 404.2 535.0 401.6 522.1 403.3Z"/>
<path d="M474.9 383.0L487.9 377.6 490.0 392.3 477.1 397.5Z"/>
<path d="M640.4 452.1L653.4 454.3 655.6 452.9 642.6 450.6Z"/>
<path d="M535.0 401.6L548.0 400.4 550.0 397.6 537.0 399.3Z"/>
<path d="M459.8 374.9L472.8 368.7 474.9 383.0 461.9 389.0Z"/>
<path d="M550.0 397.6L563.0 396.3 565.0 397.1 552.0 398.9Z"/>
<path d="M565.0 397.1L578.0 395.6 579.9 403.5 566.9 406.3Z"/>
<path d="M625.1 442.6L638.1 442.5 640.4 452.1 627.3 450.9Z"/>
<path d="M444.7 369.2L457.7 362.1 459.8 374.9 446.8 382.1Z"/>
<path d="M579.9 403.5L592.9 400.8 594.9 415.1 581.9 417.5Z"/>
<path d="M429.6 371.6L442.6 365.9 444.7 369.2 431.7 376.6Z"/>
<path d="M609.9 428.5L622.9 427.3 625.1 442.6 612.1 443.1Z"/>
<path d="M594.9 415.1L607.9 413.0 609.9 428.5 596.9 430.2Z"/>
<path d="M414.5 377.5L427.5 373.2 429.6 371.6 416.7 376.8Z"/>
<path d="M399.4 383.4L412.4 379.7 414.5 377.5 401.6 381.1Z"/>
<path d="M384.4 386.7L397.3 383.6 399.4 383.4 386.5 385.5Z"/>
<path d="M368.7 386.9L381.6 383.5 384.4 386.7 371.4 388.5Z"/>
<path d="M353.0 385.2L365.9 382.3 368.7 386.9 355.7 389.4Z"/>
<path d="M819.1 652.1L832.2 647.7 836.0 721.0 823.0 722.7Z"/>
<path d="M337.3 383.3L350.2 380.5 353.0 385.2 340.0 388.0Z"/>
<path d="M321.6 381.4L334.5 378.6 337.3 383.3 324.3 386.2Z"/>
<path d="M802.3 594.5L815.3 595.7 819.1 652.1 806.1 648.5Z"/>
<path d="M305.9 379.6L318.8 376.8 321.6 381.4 308.7 384.3Z"/>
<path d="M290.2 378.1L303.2 375.9 305.9 379.6 293.0 382.7Z"/>
<path d="M785.4 549.2L798.4 554.8 802.3 594.5 789.2 584.6Z"/>
<path d="M768.5 519.0L781.5 521.4 785.4 549.2 772.3 543.7Z"/>
<path d="M751.6 493.9L764.7 492.7 768.5 519.0 755.4 518.4Z"/>
<path d="M734.8 489.2L747.8 488.1 751.6 493.9 738.6 495.1Z"/>
<path d="M719.0 478.7L732.1 478.6 734.8 489.2 721.7 490.2Z"/>
<path d="M703.7 466.1L716.8 467.1 719.0 478.7 706.0 478.5Z"/>
<path d="M688.4 453.3L701.5 455.4 703.7 466.1 690.7 464.9Z"/>
<path d="M673.2 449.3L686.2 452.5 688.4 453.3 675.4 451.7Z"/>
<path d="M657.9 449.2L670.9 452.3 673.2 449.3 660.1 446.7Z"/>
<path d="M642.6 450.6L655.6 452.9 657.9 449.2 644.9 447.0Z"/>
<path d="M492.2 406.0L505.1 402.2 507.1 408.3 494.1 411.0Z"/>
<path d="M477.1 397.5L490.0 392.3 492.2 406.0 479.2 410.9Z"/>
<path d="M507.1 408.3L520.1 406.1 522.1 403.3 509.1 405.3Z"/>
<path d="M461.9 389.0L474.9 383.0 477.1 397.5 464.1 403.2Z"/>
<path d="M627.3 450.9L640.4 452.1 642.6 450.6 629.6 449.2Z"/>
<path d="M522.1 403.3L535.0 401.6 537.0 399.3 524.0 401.7Z"/>
<path d="M446.8 382.1L459.8 374.9 461.9 389.0 449.0 396.1Z"/>
<path d="M537.0 399.3L550.0 397.6 552.0 398.9 539.0 400.9Z"/>
<path d="M552.0 398.9L565.0 397.1 566.9 406.3 554.0 409.2Z"/>
<path d="M612.1 443.1L625.1 442.6 627.3 450.9 614.3 450.4Z"/>
<path d="M431.7 376.6L444.7 369.2 446.8 382.1 433.9 389.2Z"/>
<path d="M566.9 406.3L579.9 403.5 581.9 417.5 568.9 420.1Z"/>
<path d="M416.7 376.8L429.6 371.6 431.7 376.6 418.8 383.2Z"/>
<path d="M596.9 430.2L609.9 428.5 612.1 443.1 599.1 444.2Z"/>
<path d="M581.9 417.5L594.9 415.1 596.9 430.2 583.9 432.1Z"/>
<path d="M401.6 381.1L414.5 377.5 416.7 376.8 403.7 381.1Z"/>
<path d="M386.5 385.5L399.4 383.4 401.6 381.1 388.6 383.5Z"/>
<path d="M371.4 388.5L384.4 386.7 386.5 385.5 373.6 386.9Z"/>
<path d="M355.7 389.4L368.7 386.9 371.4 388.5 358.5 389.6Z"/>
<path d="M340.0 388.0L353.0 385.2 355.7 389.4 342.8 391.0Z"/>
<path d="M806.1 648.5L819.1 652.1 823.0 722.7 809.9 712.4Z"/>
<path d="M324.3 386.2L337.3 383.3 340.0 388.0 327.1 390.8Z"/>
<path d="M308.7 384.3L321.6 381.4 324.3 386.2 311.4 389.1Z"/>
<path d="M789.2 584.6L802.3 594.5 806.1 648.5 793.0 631.2Z"/>
<path d="M772.3 543.7L785.4 549.2 789.2 584.6 776.1 575.0Z"/>
<path d="M755.4 518.4L768.5 519.0 772.3 543.7 759.3 541.7Z"/>
<path d="M738.6 495.1L751.6 493.9 755.4 518.4 742.4 518.5Z"/>
<path d="M721.7 490.2L734.8 489.2 738.6 495.1 725.5 496.1Z"/>
<path d="M706.0 478.5L719.0 478.7 721.7 490.2 708.7 490.5Z"/>
<path d="M690.7 464.9L703.7 466.1 706.0 478.5 693.0 477.8Z"/>
<path d="M675.4 451.7L688.4 453.3 690.7 464.9 677.7 463.8Z"/>
<path d="M660.1 446.7L673.2 449.3 675.4 451.7 662.4 450.7Z"/>
<path d="M644.9 447.0L657.9 449.2 660.1 446.7 647.1 444.9Z"/>
<path d="M629.6 449.2L642.6 450.6 644.9 447.0 631.8 445.8Z"/>
<path d="M479.2 410.9L492.2 406.0 494.1 411.0 481.2 414.8Z"/>
<path d="M464.1 403.2L477.1 397.5 479.2 410.9 466.2 416.2Z"/>
<path d="M494.1 411.0L507.1 408.3 509.1 405.3 496.1 408.0Z"/>
<path d="M449.0 396.1L461.9 389.0 464.1 403.2 451.1 409.8Z"/>
<path d="M614.3 450.4L627.3 450.9 629.6 449.2 616.6 448.5Z"/>
<path d="M509.1 405.3L522.1 403.3 524.0 401.7 511.0 404.4Z"/>
<path d="M433.9 389.2L446.8 382.1 449.0 396.1 436.0 402.7Z"/>
<path d="M524.0 401.7L537.0 399.3 539.0 400.9 526.0 404.1Z"/>
<path d="M539.0 400.9L552.0 398.9 554.0 409.2 541.0 412.5Z"/>
<path d="M599.1 444.2L612.1 443.1 614.3 450.4 601.3 450.4Z"/>
<path d="M418.8 383.2L431.7 376.6 433.9 389.2 420.9 395.6Z"/>
<path d="M554.0 409.2L566.9 406.3 568.9 420.1 555.9 422.8Z"/>
<path d="M403.7 381.1L416.7 376.8 418.8 383.2 405.8 388.6Z"/>
<path d="M583.9 432.1L596.9 430.2 599.1 444.2 586.1 445.6Z"/>
<path d="M568.9 420.1L581.9 417.5 583.9 432.1 570.9 434.2Z"/>
<path d="M388.6 383.5L401.6 381.1 403.7 381.1 390.7 384.1Z"/>
<path d="M373.6 386.9L386.5 385.5 388.6 383.5 375.7 385.4Z"/>
<path d="M358.5 389.6L371.4 388.5 373.6 386.9 360.6 388.0Z"/>
<path d="M342.8 391.0L355.7 389.4 358.5 389.6 345.6 390.7Z"/>
<path d="M327.1 390.8L340.0 388.0 342.8 391.0 329.9 392.5Z"/>
<path d="M793.0 631.2L806.1 648.5 809.9 712.4 796.9 681.9Z"/>
<path d="M311.4 389.1L324.3 386.2 327.1 390.8 314.2 393.1Z"/>
<path d="M776.1 575.0L789.2 584.6 793.0 631.2 780.0 614.0Z"/>
<path d="M759.3 541.7L772.3 543.7 776.1 575.0 763.1 570.9Z"/>
<path d="M742.4 518.5L755.4 518.4 759.3 541.7 746.2 541.0Z"/>
<path d="M725.5 496.1L738.6 495.1 742.4 518.5 729.3 518.6Z"/>
<path d="M708.7 490.5L721.7 490.2 725.5 496.1 712.5 496.1Z"/>
<path d="M693.0 477.8L706.0 478.5 708.7 490.5 695.6 490.0Z"/>
<path d="M677.7 463.8L690.7 464.9 693.0 477.8 679.9 476.8Z"/>
<path d="M662.4 450.7L675.4 451.7 677.7 463.8 664.6 463.0Z"/>
<path d="M647.1 444.9L660.1 446.7 662.4 450.7 649.4 450.6Z"/>
<path d="M631.8 445.8L644.9 447.0 647.1 444.9 634.1 444.2Z"/>
<path d="M616.6 448.5L629.6 449.2 631.8 445.8 618.8 445.2Z"/>
<path d="M466.2 416.2L479.2 410.9 481.2 414.8 468.2 419.0Z"/>
<path d="M451.1 409.8L464.1 403.2 466.2 416.2 453.3 422.4Z"/>
<path d="M481.2 414.8L494.1 411.0 496.1 408.0 483.1 411.8Z"/>
<path d="M436.0 402.7L449.0 396.1 451.1 409.8 438.1 416.0Z"/>
<path d="M601.3 450.4L614.3 450.4 616.6 448.5 603.6 448.4Z"/>
<path d="M496.1 408.0L509.1 405.3 511.0 404.4 498.1 408.0Z"/>
<path d="M420.9 395.6L433.9 389.2 436.0 402.7 423.0 408.7Z"/>
<path d="M511.0 404.4L524.0 401.7 526.0 404.1 513.0 408.0Z"/>
<path d="M526.0 404.1L539.0 400.9 541.0 412.5 528.0 416.2Z"/>
<path d="M586.1 445.6L599.1 444.2 601.3 450.4 588.3 450.8Z"/>
<path d="M405.8 388.6L418.8 383.2 420.9 395.6 408.0 400.7Z"/>
<path d="M541.0 412.5L554.0 409.2 555.9 422.8 542.9 425.9Z"/>
<path d="M390.7 384.1L403.7 381.1 405.8 388.6 392.9 392.8Z"/>
<path d="M570.9 434.2L583.9 432.1 586.1 445.6 573.1 447.3Z"/>
<path d="M555.9 422.8L568.9 420.1 570.9 434.2 557.9 436.6Z"/>
<path d="M375.7 385.4L388.6 383.5 390.7 384.1 377.8 386.4Z"/>
<path d="M360.6 388.0L373.6 386.9 375.7 385.4 362.7 387.2Z"/>
<path d="M345.6 390.7L358.5 389.6 360.6 388.0 347.7 389.3Z"/>
<path d="M329.9 392.5L342.8 391.0 345.6 390.7 332.6 391.8Z"/>
<path d="M314.2 393.1L327.1 390.8 329.9 392.5 316.9 393.8Z"/>
<path d="M780.0 614.0L793.0 631.2 796.9 681.9 783.8 651.8Z"/>
<path d="M763.1 570.9L776.1 575.0 780.0 614.0 766.9 604.9Z"/>
<path d="M746.2 541.0L759.3 541.7 763.1 570.9 750.0 569.0Z"/>
<path d="M729.3 518.6L742.4 518.5 746.2 541.0 733.2 540.7Z"/>
<path d="M712.5 496.1L725.5 496.1 729.3 518.6 716.3 517.9Z"/>
<path d="M695.6 490.0L708.7 490.5 712.5 496.1 699.4 495.1Z"/>
<path d="M679.9 476.8L693.0 477.8 695.6 490.0 682.6 489.0Z"/>
<path d="M664.6 463.0L677.7 463.8 679.9 476.8 666.9 476.1Z"/>
<path d="M649.4 450.6L662.4 450.7 664.6 463.0 651.6 463.0Z"/>
<path d="M634.1 444.2L647.1 444.9 649.4 450.6 636.3 451.2Z"/>
<path d="M618.8 445.2L631.8 445.8 634.1 444.2 621.1 444.1Z"/>
<path d="M603.6 448.4L616.6 448.5 618.8 445.2 605.8 445.2Z"/>
<path d="M453.3 422.4L466.2 416.2 468.2 419.0 455.2 423.9Z"/>
<path d="M438.1 416.0L451.1 409.8 453.3 422.4 440.3 428.0Z"/>
<path d="M468.2 419.0L481.2 414.8 483.1 411.8 470.1 416.2Z"/>
<path d="M423.0 408.7L436.0 402.7 438.1 416.0 425.2 421.4Z"/>
<path d="M588.3 450.8L601.3 450.4 603.6 448.4 590.5 448.7Z"/>
<path d="M483.1 411.8L496.1 408.0 498.1 408.0 485.1 412.5Z"/>
<path d="M408.0 400.7L420.9 395.6 423.0 408.7 410.1 413.4Z"/>
<path d="M498.1 408.0L511.0 404.4 513.0 408.0 500.0 412.9Z"/>
<path d="M513.0 408.0L526.0 404.1 528.0 416.2 515.0 420.1Z"/>
<path d="M573.1 447.3L586.1 445.6 588.3 450.8 575.3 451.6Z"/>
<path d="M392.9 392.8L405.8 388.6 408.0 400.7 395.0 404.7Z"/>
<path d="M528.0 416.2L541.0 412.5 542.9 425.9 529.9 429.4Z"/>
<path d="M377.8 386.4L390.7 384.1 392.9 392.8 379.9 396.4Z"/>
<path d="M557.9 436.6L570.9 434.2 573.1 447.3 560.1 449.2Z"/>
<path d="M542.9 425.9L555.9 422.8 557.9 436.6 544.9 439.4Z"/>
<path d="M362.7 387.2L375.7 385.4 377.8 386.4 364.8 389.0Z"/>
<path d="M347.7 389.3L360.6 388.0 362.7 387.2 349.8 389.1Z"/>
<path d="M332.6 391.8L345.6 390.7 347.7 389.3 334.7 390.7Z"/>
<path d="M316.9 393.8L329.9 392.5 332.6 391.8 319.7 393.0Z"/>
<path d="M766.9 604.9L780.0 614.0 783.8 651.8 770.7 633.8Z"/>
<path d="M750.0 569.0L763.1 570.9 766.9 604.9 753.8 599.2Z"/>
<path d="M733.2 540.7L746.2 541.0 750.0 569.0 737.0 567.4Z"/>
<path d="M716.3 517.9L729.3 518.6 733.2 540.7 720.1 539.6Z"/>
<path d="M699.4 495.1L712.5 496.1 716.3 517.9 703.3 516.1Z"/>
<path d="M682.6 489.0L695.6 490.0 699.4 495.1 686.4 493.6Z"/>
<path d="M666.9 476.1L679.9 476.8 682.6 489.0 669.6 488.2Z"/>
<path d="M651.6 463.0L664.6 463.0 666.9 476.1 653.9 475.9Z"/>
<path d="M636.3 451.2L649.4 450.6 651.6 463.0 638.6 463.4Z"/>
<path d="M621.1 444.1L634.1 444.2 636.3 451.2 623.3 452.2Z"/>
<path d="M605.8 445.2L618.8 445.2 621.1 444.1 608.0 444.6Z"/>
<path d="M590.5 448.7L603.6 448.4 605.8 445.2 592.8 445.7Z"/>
<path d="M440.3 428.0L453.3 422.4 455.2 423.9 442.2 428.2Z"/>
<path d="M425.2 421.4L438.1 416.0 440.3 428.0 427.3 432.9Z"/>
<path d="M455.2 423.9L468.2 419.0 470.1 416.2 457.2 421.4Z"/>
<path d="M410.1 413.4L423.0 408.7 425.2 421.4 412.2 425.6Z"/>
<path d="M575.3 451.6L588.3 450.8 590.5 448.7 577.5 449.3Z"/>
<path d="M470.1 416.2L483.1 411.8 485.1 412.5 472.1 417.6Z"/>
<path d="M395.0 404.7L408.0 400.7 410.1 413.4 397.1 417.1Z"/>
<path d="M485.1 412.5L498.1 408.0 500.0 412.9 487.0 418.4Z"/>
<path d="M500.0 412.9L513.0 408.0 515.0 420.1 502.0 425.0Z"/>
<path d="M560.1 449.2L573.1 447.3 575.3 451.6 562.3 452.7Z"/>
<path d="M379.9 396.4L392.9 392.8 395.0 404.7 382.0 408.1Z"/>
<path d="M515.0 420.1L528.0 416.2 529.9 429.4 516.9 433.2Z"/>
<path d="M364.8 389.0L377.8 386.4 379.9 396.4 367.0 399.7Z"/>
<path d="M544.9 439.4L557.9 436.6 560.1 449.2 547.1 451.7Z"/>
<path d="M529.9 429.4L542.9 425.9 544.9 439.4 531.9 442.6Z"/>
<path d="M349.8 389.1L362.7 387.2 364.8 389.0 351.9 392.3Z"/>
<path d="M334.7 390.7L347.7 389.3 349.8 389.1 336.8 391.1Z"/>
<path d="M319.7 393.0L332.6 391.8 334.7 390.7 321.8 392.3Z"/>
<path d="M753.8 599.2L766.9 604.9 770.7 633.8 757.7 621.7Z"/>
<path d="M737.0 567.4L750.0 569.0 753.8 599.2 740.8 594.3Z"/>
<path d="M720.1 539.6L733.2 540.7 737.0 567.4 723.9 564.8Z"/>
<path d="M703.3 516.1L716.3 517.9 720.1 539.6 707.1 537.4Z"/>
<path d="M686.4 493.6L699.4 495.1 703.3 516.1 690.2 513.8Z"/>
<path d="M669.6 488.2L682.6 489.0 686.4 493.6 673.4 492.1Z"/>
<path d="M653.9 475.9L666.9 476.1 669.6 488.2 656.5 487.7Z"/>
<path d="M638.6 463.4L651.6 463.0 653.9 475.9 640.8 475.9Z"/>
<path d="M623.3 452.2L636.3 451.2 638.6 463.4 625.6 464.0Z"/>
<path d="M608.0 444.6L621.1 444.1 623.3 452.2 610.3 453.6Z"/>
<path d="M592.8 445.7L605.8 445.2 608.0 444.6 595.0 445.6Z"/>
<path d="M577.5 449.3L590.5 448.7 592.8 445.7 579.8 446.6Z"/>
<path d="M427.3 432.9L440.3 428.0 442.2 428.2 429.3 431.9Z"/>
<path d="M412.2 425.6L425.2 421.4 427.3 432.9 414.3 436.1Z"/>
<path d="M442.2 428.2L455.2 423.9 457.2 421.4 444.2 426.0Z"/>
<path d="M397.1 417.1L410.1 413.4 412.2 425.6 399.2 429.0Z"/>
<path d="M562.3 452.7L575.3 451.6 577.5 449.3 564.5 450.4Z"/>
<path d="M457.2 421.4L470.1 416.2 472.1 417.6 459.1 423.2Z"/>
<path d="M382.0 408.1L395.0 404.7 397.1 417.1 384.2 420.3Z"/>
<path d="M472.1 417.6L485.1 412.5 487.0 418.4 474.0 424.7Z"/>
<path d="M487.0 418.4L500.0 412.9 502.0 425.0 489.0 430.3Z"/>
<path d="M547.1 451.7L560.1 449.2 562.3 452.7 549.3 454.4Z"/>
<path d="M367.0 399.7L379.9 396.4 382.0 408.1 369.1 411.4Z"/>
<path d="M502.0 425.0L515.0 420.1 516.9 433.2 503.9 437.9Z"/>
<path d="M351.9 392.3L364.8 389.0 367.0 399.7 354.0 403.0Z"/>
<path d="M531.9 442.6L544.9 439.4 547.1 451.7 534.1 454.6Z"/>
<path d="M516.9 433.2L529.9 429.4 531.9 442.6 518.9 446.1Z"/>
<path d="M336.8 391.1L349.8 389.1 351.9 392.3 338.9 395.6Z"/>
<path d="M321.8 392.3L334.7 390.7 336.8 391.1 323.9 393.3Z"/>
<path d="M740.8 594.3L753.8 599.2 757.7 621.7 744.6 612.4Z"/>
<path d="M723.9 564.8L737.0 567.4 740.8 594.3 727.7 588.6Z"/>
<path d="M707.1 537.4L720.1 539.6 723.9 564.8 710.9 561.1Z"/>
<path d="M690.2 513.8L703.3 516.1 707.1 537.4 694.0 534.6Z"/>
<path d="M673.4 492.1L686.4 493.6 690.2 513.8 677.2 511.5Z"/>
<path d="M656.5 487.7L669.6 488.2 673.4 492.1 660.3 491.0Z"/>
<path d="M640.8 475.9L653.9 475.9 656.5 487.7 643.5 487.1Z"/>
<path d="M625.6 464.0L638.6 463.4 640.8 475.9 627.8 475.8Z"/>
<path d="M610.3 453.6L623.3 452.2 625.6 464.0 612.5 464.8Z"/>
<path d="M595.0 445.6L608.0 444.6 610.3 453.6 597.3 455.3Z"/>
<path d="M579.8 446.6L592.8 445.7 595.0 445.6 582.0 447.7Z"/>
<path d="M564.5 450.4L577.5 449.3 579.8 446.6 566.7 447.9Z"/>
<path d="M414.3 436.1L427.3 432.9 429.3 431.9 416.3 434.2Z"/>
<path d="M399.2 429.0L412.2 425.6 414.3 436.1 401.4 438.4Z"/>
<path d="M429.3 431.9L442.2 428.2 444.2 426.0 431.2 430.1Z"/>
<path d="M384.2 420.3L397.1 417.1 399.2 429.0 386.3 431.8Z"/>
<path d="M549.3 454.4L562.3 452.7 564.5 450.4 551.5 452.0Z"/>
<path d="M444.2 426.0L457.2 421.4 459.1 423.2 446.1 428.1Z"/>
<path d="M369.1 411.4L382.0 408.1 384.2 420.3 371.2 423.3Z"/>
<path d="M459.1 423.2L472.1 417.6 474.0 424.7 461.1 431.0Z"/>
<path d="M474.0 424.7L487.0 418.4 489.0 430.3 476.0 436.5Z"/>
<path d="M534.1 454.6L547.1 451.7 549.3 454.4 536.3 456.5Z"/>
<path d="M354.0 403.0L367.0 399.7 369.1 411.4 356.1 414.6Z"/>
<path d="M489.0 430.3L502.0 425.0 503.9 437.9 490.9 443.0Z"/>
<path d="M338.9 395.6L351.9 392.3 354.0 403.0 341.1 406.3Z"/>
<path d="M518.9 446.1L531.9 442.6 534.1 454.6 521.0 457.8Z"/>
<path d="M503.9 437.9L516.9 433.2 518.9 446.1 505.9 450.6Z"/>
<path d="M323.9 393.3L336.8 391.1 338.9 395.6 326.0 398.7Z"/>
<path d="M727.7 588.6L740.8 594.3 744.6 612.4 731.5 603.3Z"/>
<path d="M710.9 561.1L723.9 564.8 727.7 588.6 714.7 581.7Z"/>
<path d="M694.0 534.6L707.1 537.4 710.9 561.1 697.8 556.7Z"/>
<path d="M677.2 511.5L690.2 513.8 694.0 534.6 681.0 531.8Z"/>
<path d="M660.3 491.0L673.4 492.1 677.2 511.5 664.1 509.4Z"/>
<path d="M643.5 487.1L656.5 487.7 660.3 491.0 647.3 489.8Z"/>
<path d="M627.8 475.8L640.8 475.9 643.5 487.1 630.5 486.3Z"/>
<path d="M612.5 464.8L625.6 464.0 627.8 475.8 614.8 475.9Z"/>
<path d="M597.3 455.3L610.3 453.6 612.5 464.8 599.5 466.0Z"/>
<path d="M582.0 447.7L595.0 445.6 597.3 455.3 584.2 457.4Z"/>
<path d="M566.7 447.9L579.8 446.6 582.0 447.7 569.0 450.4Z"/>
<path d="M551.5 452.0L564.5 450.4 566.7 447.9 553.7 449.8Z"/>
<path d="M401.4 438.4L414.3 436.1 416.3 434.2 403.3 436.0Z"/>
<path d="M386.3 431.8L399.2 429.0 401.4 438.4 388.4 440.3Z"/>
<path d="M416.3 434.2L429.3 431.9 431.2 430.1 418.2 433.2Z"/>
<path d="M371.2 423.3L384.2 420.3 386.3 431.8 373.3 434.6Z"/>
<path d="M536.3 456.5L549.3 454.4 551.5 452.0 538.5 454.0Z"/>
<path d="M431.2 430.1L444.2 426.0 446.1 428.1 433.1 432.2Z"/>
<path d="M356.1 414.6L369.1 411.4 371.2 423.3 358.2 426.3Z"/>
<path d="M446.1 428.1L459.1 423.2 461.1 431.0 448.1 436.7Z"/>
<path d="M461.1 431.0L474.0 424.7 476.0 436.5 463.0 442.5Z"/>
<path d="M521.0 457.8L534.1 454.6 536.3 456.5 523.3 459.0Z"/>
<path d="M341.1 406.3L354.0 403.0 356.1 414.6 343.2 417.7Z"/>
<path d="M476.0 436.5L489.0 430.3 490.9 443.0 477.9 448.9Z"/>
<path d="M326.0 398.7L338.9 395.6 341.1 406.3 328.1 409.3Z"/>
<path d="M505.9 450.6L518.9 446.1 521.0 457.8 508.0 461.9Z"/>
<path d="M490.9 443.0L503.9 437.9 505.9 450.6 492.9 455.3Z"/>
<path d="M714.7 581.7L727.7 588.6 731.5 603.3 718.5 593.5Z"/>
<path d="M697.8 556.7L710.9 561.1 714.7 581.7 701.6 574.5Z"/>
<path d="M681.0 531.8L694.0 534.6 697.8 556.7 684.7 552.4Z"/>
<path d="M664.1 509.4L677.2 511.5 681.0 531.8 667.9 529.1Z"/>
<path d="M647.3 489.8L660.3 491.0 664.1 509.4 651.1 507.3Z"/>
<path d="M630.5 486.3L643.5 487.1 647.3 489.8 634.2 488.4Z"/>
<path d="M614.8 475.9L627.8 475.8 630.5 486.3 617.4 485.3Z"/>
<path d="M599.5 466.0L612.5 464.8 614.8 475.9 601.7 476.6Z"/>
<path d="M584.2 457.4L597.3 455.3 599.5 466.0 586.5 467.9Z"/>
<path d="M569.0 450.4L582.0 447.7 584.2 457.4 571.2 460.2Z"/>
<path d="M553.7 449.8L566.7 447.9 569.0 450.4 556.0 453.7Z"/>
<path d="M538.5 454.0L551.5 452.0 553.7 449.8 540.7 452.2Z"/>
<path d="M388.4 440.3L401.4 438.4 403.3 436.0 390.3 437.5Z"/>
<path d="M373.3 434.6L386.3 431.8 388.4 440.3 375.4 442.0Z"/>
<path d="M403.3 436.0L416.3 434.2 418.2 433.2 405.2 435.7Z"/>
<path d="M358.2 426.3L371.2 423.3 373.3 434.6 360.3 437.3Z"/>
<path d="M523.3 459.0L536.3 456.5 538.5 454.0 525.5 456.5Z"/>
<path d="M418.2 433.2L431.2 430.1 433.1 432.2 420.2 435.4Z"/>
<path d="M343.2 417.7L356.1 414.6 358.2 426.3 345.3 429.2Z"/>
<path d="M433.1 432.2L446.1 428.1 448.1 436.7 435.1 441.4Z"/>
<path d="M448.1 436.7L461.1 431.0 463.0 442.5 450.0 447.9Z"/>
<path d="M508.0 461.9L521.0 457.8 523.3 459.0 510.3 462.4Z"/>
<path d="M328.1 409.3L341.1 406.3 343.2 417.7 330.2 420.6Z"/>
<path d="M463.0 442.5L476.0 436.5 477.9 448.9 464.9 454.4Z"/>
<path d="M492.9 455.3L505.9 450.6 508.0 461.9 495.0 466.0Z"/>
<path d="M477.9 448.9L490.9 443.0 492.9 455.3 479.9 460.8Z"/>
<path d="M701.6 574.5L714.7 581.7 718.5 593.5 705.4 584.1Z"/>
<path d="M684.7 552.4L697.8 556.7 701.6 574.5 688.5 568.0Z"/>
<path d="M667.9 529.1L681.0 531.8 684.7 552.4 671.7 548.4Z"/>
<path d="M651.1 507.3L664.1 509.4 667.9 529.1 654.9 526.3Z"/>
<path d="M634.2 488.4L647.3 489.8 651.1 507.3 638.0 505.2Z"/>
<path d="M617.4 485.3L630.5 486.3 634.2 488.4 621.2 487.3Z"/>
<path d="M601.7 476.6L614.8 475.9 617.4 485.3 604.4 485.0Z"/>
<path d="M586.5 467.9L599.5 466.0 601.7 476.6 588.7 478.2Z"/>
<path d="M571.2 460.2L584.2 457.4 586.5 467.9 573.4 470.9Z"/>
<path d="M556.0 453.7L569.0 450.4 571.2 460.2 558.2 463.9Z"/>
<path d="M540.7 452.2L553.7 449.8 556.0 453.7 542.9 457.4Z"/>
<path d="M525.5 456.5L538.5 454.0 540.7 452.2 527.7 455.2Z"/>
<path d="M375.4 442.0L388.4 440.3 390.3 437.5 377.4 439.0Z"/>
<path d="M360.3 437.3L373.3 434.6 375.4 442.0 362.4 443.7Z"/>
<path d="M390.3 437.5L403.3 436.0 405.2 435.7 392.3 437.9Z"/>
<path d="M345.3 429.2L358.2 426.3 360.3 437.3 347.4 439.9Z"/>
<path d="M510.3 462.4L523.3 459.0 525.5 456.5 512.5 459.9Z"/>
<path d="M405.2 435.7L418.2 433.2 420.2 435.4 407.2 438.7Z"/>
<path d="M420.2 435.4L433.1 432.2 435.1 441.4 422.1 445.1Z"/>
<path d="M435.1 441.4L448.1 436.7 450.0 447.9 437.0 452.2Z"/>
<path d="M495.0 466.0L508.0 461.9 510.3 462.4 497.2 466.1Z"/>
<path d="M450.0 447.9L463.0 442.5 464.9 454.4 452.0 459.4Z"/>
<path d="M479.9 460.8L492.9 455.3 495.0 466.0 482.0 470.6Z"/>
<path d="M464.9 454.4L477.9 448.9 479.9 460.8 466.9 465.8Z"/>
<path d="M688.5 568.0L701.6 574.5 705.4 584.1 692.3 576.0Z"/>
<path d="M671.7 548.4L684.7 552.4 688.5 568.0 675.5 562.2Z"/>
<path d="M654.9 526.3L667.9 529.1 671.7 548.4 658.6 544.5Z"/>
<path d="M638.0 505.2L651.1 507.3 654.9 526.3 641.8 523.8Z"/>
<path d="M621.2 487.3L634.2 488.4 638.0 505.2 625.0 503.4Z"/>
<path d="M604.4 485.0L617.4 485.3 621.2 487.3 608.1 486.9Z"/>
<path d="M588.7 478.2L601.7 476.6 604.4 485.0 591.3 485.9Z"/>
<path d="M573.4 470.9L586.5 467.9 588.7 478.2 575.7 481.3Z"/>
<path d="M558.2 463.9L571.2 460.2 573.4 470.9 560.4 474.8Z"/>
<path d="M542.9 457.4L556.0 453.7 558.2 463.9 545.1 468.0Z"/>
<path d="M527.7 455.2L540.7 452.2 542.9 457.4 529.9 461.9Z"/>
<path d="M512.5 459.9L525.5 456.5 527.7 455.2 514.7 459.1Z"/>
<path d="M362.4 443.7L375.4 442.0 377.4 439.0 364.4 440.7Z"/>
<path d="M347.4 439.9L360.3 437.3 362.4 443.7 349.5 445.3Z"/>
<path d="M377.4 439.0L390.3 437.5 392.3 437.9 379.3 440.1Z"/>
<path d="M497.2 466.1L510.3 462.4 512.5 459.9 499.5 463.8Z"/>
<path d="M392.3 437.9L405.2 435.7 407.2 438.7 394.2 441.7Z"/>
<path d="M407.2 438.7L420.2 435.4 422.1 445.1 409.1 448.3Z"/>
<path d="M422.1 445.1L435.1 441.4 437.0 452.2 424.0 455.6Z"/>
<path d="M482.0 470.6L495.0 466.0 497.2 466.1 484.2 470.5Z"/>
<path d="M437.0 452.2L450.0 447.9 452.0 459.4 439.0 463.2Z"/>
<path d="M466.9 465.8L479.9 460.8 482.0 470.6 469.0 474.8Z"/>
<path d="M452.0 459.4L464.9 454.4 466.9 465.8 453.9 470.3Z"/>
<path d="M675.5 562.2L688.5 568.0 692.3 576.0 679.3 569.2Z"/>
<path d="M658.6 544.5L671.7 548.4 675.5 562.2 662.4 557.0Z"/>
<path d="M641.8 523.8L654.9 526.3 658.6 544.5 645.6 541.0Z"/>
<path d="M625.0 503.4L638.0 505.2 641.8 523.8 628.7 521.4Z"/>
<path d="M608.1 486.9L621.2 487.3 625.0 503.4 611.9 501.9Z"/>
<path d="M591.3 485.9L604.4 485.0 608.1 486.9 595.1 487.8Z"/>
<path d="M575.7 481.3L588.7 478.2 591.3 485.9 578.3 488.4Z"/>
<path d="M560.4 474.8L573.4 470.9 575.7 481.3 562.6 485.4Z"/>
<path d="M545.1 468.0L558.2 463.9 560.4 474.8 547.4 479.2Z"/>
<path d="M529.9 461.9L542.9 457.4 545.1 468.0 532.1 472.8Z"/>
<path d="M514.7 459.1L527.7 455.2 529.9 461.9 516.9 466.8Z"/>
<path d="M499.5 463.8L512.5 459.9 514.7 459.1 501.7 463.5Z"/>
<path d="M349.5 445.3L362.4 443.7 364.4 440.7 351.4 442.6Z"/>
<path d="M364.4 440.7L377.4 439.0 379.3 440.1 366.3 442.3Z"/>
<path d="M484.2 470.5L497.2 466.1 499.5 463.8 486.4 468.1Z"/>
<path d="M379.3 440.1L392.3 437.9 394.2 441.7 381.2 444.7Z"/>
<path d="M394.2 441.7L407.2 438.7 409.1 448.3 396.1 451.2Z"/>
<path d="M409.1 448.3L422.1 445.1 424.0 455.6 411.0 458.6Z"/>
<path d="M469.0 474.8L482.0 470.6 484.2 470.5 471.2 474.3Z"/>
<path d="M424.0 455.6L437.0 452.2 439.0 463.2 426.0 466.3Z"/>
<path d="M453.9 470.3L466.9 465.8 469.0 474.8 456.0 478.4Z"/>
<path d="M439.0 463.2L452.0 459.4 453.9 470.3 440.9 473.7Z"/>
<path d="M662.4 557.0L675.5 562.2 679.3 569.2 666.2 563.2Z"/>
<path d="M645.6 541.0L658.6 544.5 662.4 557.0 649.4 552.4Z"/>
<path d="M628.7 521.4L641.8 523.8 645.6 541.0 632.5 537.7Z"/>
<path d="M611.9 501.9L625.0 503.4 628.7 521.4 615.7 518.8Z"/>
<path d="M595.1 487.8L608.1 486.9 611.9 501.9 598.9 501.8Z"/>
<path d="M578.3 488.4L591.3 485.9 595.1 487.8 582.1 490.3Z"/>
<path d="M562.6 485.4L575.7 481.3 578.3 488.4 565.3 492.0Z"/>
<path d="M547.4 479.2L560.4 474.8 562.6 485.4 549.6 490.0Z"/>
<path d="M532.1 472.8L545.1 468.0 547.4 479.2 534.3 484.1Z"/>
<path d="M516.9 466.8L529.9 461.9 532.1 472.8 519.1 477.6Z"/>
<path d="M501.7 463.5L514.7 459.1 516.9 466.8 503.9 472.2Z"/>
<path d="M486.4 468.1L499.5 463.8 501.7 463.5 488.6 468.3Z"/>
<path d="M351.4 442.6L364.4 440.7 366.3 442.3 353.3 444.5Z"/>
<path d="M471.2 474.3L484.2 470.5 486.4 468.1 473.4 472.0Z"/>
<path d="M366.3 442.3L379.3 440.1 381.2 444.7 368.2 447.7Z"/>
<path d="M381.2 444.7L394.2 441.7 396.1 451.2 383.1 454.2Z"/>
<path d="M396.1 451.2L409.1 448.3 411.0 458.6 398.0 461.4Z"/>
<path d="M456.0 478.4L469.0 474.8 471.2 474.3 458.2 477.6Z"/>
<path d="M411.0 458.6L424.0 455.6 426.0 466.3 413.0 469.0Z"/>
<path d="M440.9 473.7L453.9 470.3 456.0 478.4 443.0 481.1Z"/>
<path d="M426.0 466.3L439.0 463.2 440.9 473.7 427.9 476.5Z"/>
<path d="M649.4 552.4L662.4 557.0 666.2 563.2 653.1 557.9Z"/>
<path d="M632.5 537.7L645.6 541.0 649.4 552.4 636.3 548.1Z"/>
<path d="M615.7 518.8L628.7 521.4 632.5 537.7 619.5 533.8Z"/>
<path d="M598.9 501.8L611.9 501.9 615.7 518.8 602.6 517.5Z"/>
<path d="M582.1 490.3L595.1 487.8 598.9 501.8 585.8 503.7Z"/>
<path d="M565.3 492.0L578.3 488.4 582.1 490.3 569.0 493.9Z"/>
<path d="M549.6 490.0L562.6 485.4 565.3 492.0 552.2 496.0Z"/>
<path d="M534.3 484.1L547.4 479.2 549.6 490.0 536.5 494.8Z"/>
<path d="M519.1 477.6L532.1 472.8 534.3 484.1 521.3 488.7Z"/>
<path d="M503.9 472.2L516.9 466.8 519.1 477.6 506.1 482.7Z"/>
<path d="M488.6 468.3L501.7 463.5 503.9 472.2 490.8 477.5Z"/>
<path d="M473.4 472.0L486.4 468.1 488.6 468.3 475.6 473.4Z"/>
<path d="M458.2 477.6L471.2 474.3 473.4 472.0 460.4 475.3Z"/>
<path d="M353.3 444.5L366.3 442.3 368.2 447.7 355.2 450.6Z"/>
<path d="M368.2 447.7L381.2 444.7 383.1 454.2 370.1 457.1Z"/>
<path d="M383.1 454.2L396.1 451.2 398.0 461.4 385.0 464.2Z"/>
<path d="M443.0 481.1L456.0 478.4 458.2 477.6 445.2 479.9Z"/>
<path d="M398.0 461.4L411.0 458.6 413.0 469.0 400.0 471.6Z"/>
<path d="M427.9 476.5L440.9 473.7 443.0 481.1 430.0 483.1Z"/>
<path d="M413.0 469.0L426.0 466.3 427.9 476.5 414.9 478.9Z"/>
<path d="M636.3 548.1L649.4 552.4 653.1 557.9 640.1 553.2Z"/>
<path d="M619.5 533.8L632.5 537.7 636.3 548.1 623.2 543.3Z"/>
<path d="M602.6 517.5L615.7 518.8 619.5 533.8 606.4 531.6Z"/>
<path d="M585.8 503.7L598.9 501.8 602.6 517.5 589.6 519.1Z"/>
<path d="M569.0 493.9L582.1 490.3 585.8 503.7 572.8 506.7Z"/>
<path d="M552.2 496.0L565.3 492.0 569.0 493.9 556.0 498.0Z"/>
<path d="M536.5 494.8L549.6 490.0 552.2 496.0 539.2 500.0Z"/>
<path d="M521.3 488.7L534.3 484.1 536.5 494.8 523.5 498.9Z"/>
<path d="M506.1 482.7L519.1 477.6 521.3 488.7 508.3 493.2Z"/>
<path d="M490.8 477.5L503.9 472.2 506.1 482.7 493.0 487.5Z"/>
<path d="M475.6 473.4L488.6 468.3 490.8 477.5 477.8 482.3Z"/>
<path d="M460.4 475.3L473.4 472.0 475.6 473.4 462.6 477.7Z"/>
<path d="M445.2 479.9L458.2 477.6 460.4 475.3 447.4 477.8Z"/>
<path d="M355.2 450.6L368.2 447.7 370.1 457.1 357.1 459.8Z"/>
<path d="M370.1 457.1L383.1 454.2 385.0 464.2 372.1 466.9Z"/>
<path d="M430.0 483.1L443.0 481.1 445.2 479.9 432.2 481.7Z"/>
<path d="M385.0 464.2L398.0 461.4 400.0 471.6 387.0 474.2Z"/>
<path d="M414.9 478.9L427.9 476.5 430.0 483.1 417.0 484.9Z"/>
<path d="M400.0 471.6L413.0 469.0 414.9 478.9 401.9 481.2Z"/>
<path d="M623.2 543.3L636.3 548.1 640.1 553.2 627.0 548.0Z"/>
<path d="M606.4 531.6L619.5 533.8 623.2 543.3 610.2 540.5Z"/>
<path d="M589.6 519.1L602.6 517.5 606.4 531.6 593.4 533.0Z"/>
<path d="M572.8 506.7L585.8 503.7 589.6 519.1 576.5 522.1Z"/>
<path d="M556.0 498.0L569.0 493.9 572.8 506.7 559.7 510.1Z"/>
<path d="M539.2 500.0L552.2 496.0 556.0 498.0 542.9 502.0Z"/>
<path d="M523.5 498.9L536.5 494.8 539.2 500.0 526.1 503.3Z"/>
<path d="M508.3 493.2L521.3 488.7 523.5 498.9 510.5 503.0Z"/>
<path d="M493.0 487.5L506.1 482.7 508.3 493.2 495.2 497.5Z"/>
<path d="M477.8 482.3L490.8 477.5 493.0 487.5 480.0 491.9Z"/>
<path d="M462.6 477.7L475.6 473.4 477.8 482.3 464.8 486.4Z"/>
<path d="M447.4 477.8L460.4 475.3 462.6 477.7 449.6 481.2Z"/>
<path d="M432.2 481.7L445.2 479.9 447.4 477.8 434.4 479.8Z"/>
<path d="M357.1 459.8L370.1 457.1 372.1 466.9 359.1 469.5Z"/>
<path d="M417.0 484.9L430.0 483.1 432.2 481.7 419.2 483.2Z"/>
<path d="M372.1 466.9L385.0 464.2 387.0 474.2 374.0 476.7Z"/>
<path d="M401.9 481.2L414.9 478.9 417.0 484.9 404.0 486.6Z"/>
<path d="M387.0 474.2L400.0 471.6 401.9 481.2 388.9 483.5Z"/>
<path d="M610.2 540.5L623.2 543.3 627.0 548.0 614.0 545.0Z"/>
<path d="M593.4 533.0L606.4 531.6 610.2 540.5 597.1 541.9Z"/>
<path d="M576.5 522.1L589.6 519.1 593.4 533.0 580.3 536.2Z"/>
<path d="M559.7 510.1L572.8 506.7 576.5 522.1 563.5 525.5Z"/>
<path d="M542.9 502.0L556.0 498.0 559.7 510.1 546.7 513.7Z"/>
<path d="M526.1 503.3L539.2 500.0 542.9 502.0 529.9 505.4Z"/>
<path d="M510.5 503.0L523.5 498.9 526.1 503.3 513.1 506.5Z"/>
<path d="M495.2 497.5L508.3 493.2 510.5 503.0 497.4 506.6Z"/>
<path d="M480.0 491.9L493.0 487.5 495.2 497.5 482.2 501.4Z"/>
<path d="M464.8 486.4L477.8 482.3 480.0 491.9 467.0 495.7Z"/>
<path d="M449.6 481.2L462.6 477.7 464.8 486.4 451.8 489.9Z"/>
<path d="M434.4 479.8L447.4 477.8 449.6 481.2 436.6 484.3Z"/>
<path d="M419.2 483.2L432.2 481.7 434.4 479.8 421.4 481.7Z"/>
<path d="M404.0 486.6L417.0 484.9 419.2 483.2 406.2 484.8Z"/>
<path d="M388.9 483.5L401.9 481.2 404.0 486.6 391.0 488.3Z"/>
<path d="M374.0 476.7L387.0 474.2 388.9 483.5 375.9 485.8Z"/>
<path d="M597.1 541.9L610.2 540.5 614.0 545.0 600.9 546.4Z"/>
<path d="M580.3 536.2L593.4 533.0 597.1 541.9 584.1 545.3Z"/>
<path d="M563.5 525.5L576.5 522.1 580.3 536.2 567.2 539.9Z"/>
<path d="M546.7 513.7L559.7 510.1 563.5 525.5 550.4 529.5Z"/>
<path d="M529.9 505.4L542.9 502.0 546.7 513.7 533.6 517.4Z"/>
<path d="M513.1 506.5L526.1 503.3 529.9 505.4 516.8 508.7Z"/>
<path d="M497.4 506.6L510.5 503.0 513.1 506.5 500.1 509.4Z"/>
<path d="M482.2 501.4L495.2 497.5 497.4 506.6 484.4 510.1Z"/>
<path d="M467.0 495.7L480.0 491.9 482.2 501.4 469.2 504.9Z"/>
<path d="M451.8 489.9L464.8 486.4 467.0 495.7 454.0 499.1Z"/>
<path d="M436.6 484.3L449.6 481.2 451.8 489.9 438.8 493.0Z"/>
<path d="M421.4 481.7L434.4 479.8 436.6 484.3 423.5 487.2Z"/>
<path d="M406.2 484.8L419.2 483.2 421.4 481.7 408.4 483.6Z"/>
<path d="M391.0 488.3L404.0 486.6 406.2 484.8 393.2 486.4Z"/>
<path d="M375.9 485.8L388.9 483.5 391.0 488.3 378.0 490.0Z"/>
<path d="M584.1 545.3L597.1 541.9 600.9 546.4 587.8 550.0Z"/>
<path d="M567.2 539.9L580.3 536.2 584.1 545.3 571.0 549.4Z"/>
<path d="M550.4 529.5L563.5 525.5 567.2 539.9 554.2 544.6Z"/>
<path d="M533.6 517.4L546.7 513.7 550.4 529.5 537.4 534.3Z"/>
<path d="M516.8 508.7L529.9 505.4 533.6 517.4 520.6 520.7Z"/>
<path d="M500.1 509.4L513.1 506.5 516.8 508.7 503.8 511.6Z"/>
<path d="M484.4 510.1L497.4 506.6 500.1 509.4 487.0 512.1Z"/>
<path d="M469.2 504.9L482.2 501.4 484.4 510.1 471.4 513.2Z"/>
<path d="M454.0 499.1L467.0 495.7 469.2 504.9 456.2 508.1Z"/>
<path d="M438.8 493.0L451.8 489.9 454.0 499.1 440.9 502.3Z"/>
<path d="M423.5 487.2L436.6 484.3 438.8 493.0 425.7 496.1Z"/>
<path d="M408.4 483.6L421.4 481.7 423.5 487.2 410.5 490.2Z"/>
<path d="M393.2 486.4L406.2 484.8 408.4 483.6 395.3 485.7Z"/>
<path d="M378.0 490.0L391.0 488.3 393.2 486.4 380.2 488.0Z"/>
<path d="M571.0 549.4L584.1 545.3 587.8 550.0 574.8 554.4Z"/>
<path d="M554.2 544.6L567.2 539.9 571.0 549.4 557.9 554.7Z"/>
<path d="M537.4 534.3L550.4 529.5 554.2 544.6 541.1 551.0Z"/>
<path d="M520.6 520.7L533.6 517.4 537.4 534.3 524.3 538.6Z"/>
<path d="M503.8 511.6L516.8 508.7 520.6 520.7 507.5 523.1Z"/>
<path d="M487.0 512.1L500.1 509.4 503.8 511.6 490.8 514.4Z"/>
<path d="M471.4 513.2L484.4 510.1 487.0 512.1 474.0 514.6Z"/>
<path d="M456.2 508.1L469.2 504.9 471.4 513.2 458.3 515.8Z"/>
<path d="M440.9 502.3L454.0 499.1 456.2 508.1 443.1 511.2Z"/>
<path d="M425.7 496.1L438.8 493.0 440.9 502.3 427.9 505.4Z"/>
<path d="M410.5 490.2L423.5 487.2 425.7 496.1 412.7 499.2Z"/>
<path d="M395.3 485.7L408.4 483.6 410.5 490.2 397.5 493.2Z"/>
<path d="M380.2 488.0L393.2 486.4 395.3 485.7 382.3 487.8Z"/>
<path d="M557.9 554.7L571.0 549.4 574.8 554.4 561.7 560.1Z"/>
<path d="M541.1 551.0L554.2 544.6 557.9 554.7 544.9 562.3Z"/>
<path d="M524.3 538.6L537.4 534.3 541.1 551.0 528.1 556.8Z"/>
<path d="M507.5 523.1L520.6 520.7 524.3 538.6 511.3 541.1Z"/>
<path d="M490.8 514.4L503.8 511.6 507.5 523.1 494.5 525.2Z"/>
<path d="M474.0 514.6L487.0 512.1 490.8 514.4 477.7 516.9Z"/>
<path d="M458.3 515.8L471.4 513.2 474.0 514.6 460.9 517.1Z"/>
<path d="M443.1 511.2L456.2 508.1 458.3 515.8 445.3 518.2Z"/>
<path d="M427.9 505.4L440.9 502.3 443.1 511.2 430.1 514.3Z"/>
<path d="M412.7 499.2L425.7 496.1 427.9 505.4 414.9 508.5Z"/>
<path d="M397.5 493.2L410.5 490.2 412.7 499.2 399.7 502.3Z"/>
<path d="M382.3 487.8L395.3 485.7 397.5 493.2 384.5 496.1Z"/>
<path d="M544.9 562.3L557.9 554.7 561.7 560.1 548.6 568.5Z"/>
<path d="M528.1 556.8L541.1 551.0 544.9 562.3 531.8 569.6Z"/>
<path d="M511.3 541.1L524.3 538.6 528.1 556.8 515.0 560.4Z"/>
<path d="M494.5 525.2L507.5 523.1 511.3 541.1 498.2 543.2Z"/>
<path d="M477.7 516.9L490.8 514.4 494.5 525.2 481.4 527.1Z"/>
<path d="M460.9 517.1L474.0 514.6 477.7 516.9 464.7 519.4Z"/>
<path d="M445.3 518.2L458.3 515.8 460.9 517.1 447.9 519.5Z"/>
<path d="M430.1 514.3L443.1 511.2 445.3 518.2 432.3 520.7Z"/>
<path d="M414.9 508.5L427.9 505.4 430.1 514.3 417.1 517.5Z"/>
<path d="M399.7 502.3L412.7 499.2 414.9 508.5 401.9 511.7Z"/>
<path d="M384.5 496.1L397.5 493.2 399.7 502.3 386.7 505.3Z"/>
<path d="M531.8 569.6L544.9 562.3 548.6 568.5 535.6 576.7Z"/>
<path d="M515.0 560.4L528.1 556.8 531.8 569.6 518.8 574.5Z"/>
<path d="M498.2 543.2L511.3 541.1 515.0 560.4 502.0 563.4Z"/>
<path d="M481.4 527.1L494.5 525.2 498.2 543.2 485.2 545.0Z"/>
<path d="M464.7 519.4L477.7 516.9 481.4 527.1 468.4 529.1Z"/>
<path d="M447.9 519.5L460.9 517.1 464.7 519.4 451.6 521.8Z"/>
<path d="M432.3 520.7L445.3 518.2 447.9 519.5 434.9 522.0Z"/>
<path d="M417.1 517.5L430.1 514.3 432.3 520.7 419.2 523.1Z"/>
<path d="M401.9 511.7L414.9 508.5 417.1 517.5 404.0 520.6Z"/>
<path d="M386.7 505.3L399.7 502.3 401.9 511.7 388.8 514.5Z"/>
<path d="M518.8 574.5L531.8 569.6 535.6 576.7 522.5 582.4Z"/>
<path d="M502.0 563.4L515.0 560.4 518.8 574.5 505.7 578.7Z"/>
<path d="M485.2 545.0L498.2 543.2 502.0 563.4 488.9 566.0Z"/>
<path d="M468.4 529.1L481.4 527.1 485.2 545.0 472.1 546.7Z"/>
<path d="M451.6 521.8L464.7 519.4 468.4 529.1 455.4 531.0Z"/>
<path d="M434.9 522.0L447.9 519.5 451.6 521.8 438.6 524.2Z"/>
<path d="M419.2 523.1L432.3 520.7 434.9 522.0 421.8 524.4Z"/>
<path d="M404.0 520.6L417.1 517.5 419.2 523.1 406.2 525.5Z"/>
<path d="M505.7 578.7L518.8 574.5 522.5 582.4 509.4 587.5Z"/>
<path d="M488.9 566.0L502.0 563.4 505.7 578.7 492.6 582.4Z"/>
<path d="M472.1 546.7L485.2 545.0 488.9 566.0 475.9 568.2Z"/>
<path d="M455.4 531.0L468.4 529.1 472.1 546.7 459.1 548.3Z"/>
<path d="M438.6 524.2L451.6 521.8 455.4 531.0 442.3 532.9Z"/>
<path d="M421.8 524.4L434.9 522.0 438.6 524.2 425.5 526.6Z"/>
<path d="M406.2 525.5L419.2 523.1 421.8 524.4 408.8 526.8Z"/>
<path d="M492.6 582.4L505.7 578.7 509.4 587.5 496.4 592.0Z"/>
<path d="M475.9 568.2L488.9 566.0 492.6 582.4 479.6 585.5Z"/>
<path d="M459.1 548.3L472.1 546.7 475.9 568.2 462.8 570.0Z"/>
<path d="M442.3 532.9L455.4 531.0 459.1 548.3 446.0 549.8Z"/>
<path d="M425.5 526.6L438.6 524.2 442.3 532.9 429.3 534.8Z"/>
<path d="M408.8 526.8L421.8 524.4 425.5 526.6 412.5 529.0Z"/>
<path d="M479.6 585.5L492.6 582.4 496.4 592.0 483.3 595.8Z"/>
<path d="M462.8 570.0L475.9 568.2 479.6 585.5 466.5 587.9Z"/>
<path d="M446.0 549.8L459.1 548.3 462.8 570.0 449.7 571.7Z"/>
<path d="M429.3 534.8L442.3 532.9 446.0 549.8 433.0 551.4Z"/>
<path d="M412.5 529.0L425.5 526.6 429.3 534.8 416.2 536.7Z"/>
<path d="M466.5 587.9L479.6 585.5 483.3 595.8 470.2 598.6Z"/>
<path d="M449.7 571.7L462.8 570.0 466.5 587.9 453.5 590.1Z"/>
<path d="M433.0 551.4L446.0 549.8 449.7 571.7 436.7 573.4Z"/>
<path d="M416.2 536.7L429.3 534.8 433.0 551.4 419.9 552.9Z"/>
<path d="M453.5 590.1L466.5 587.9 470.2 598.6 457.2 601.3Z"/>
<path d="M436.7 573.4L449.7 571.7 453.5 590.1 440.4 592.3Z"/>
<path d="M419.9 552.9L433.0 551.4 436.7 573.4 423.6 575.0Z"/>
<path d="M440.4 592.3L453.5 590.1 457.2 601.3 444.1 603.9Z"/>
<path d="M423.6 575.0L436.7 573.4 440.4 592.3 427.3 594.5Z"/>
<path d="M427.3 594.5L440.4 592.3 444.1 603.9 431.1 606.5Z"/>
</g>
<line x1="141.5" y1="159.3" x2="141.5" y2="727.7" stroke="#999" stroke-width="1.5"/>
<line x1="141.5" y1="727.7" x2="147.4" y2="726.6" stroke="#333" stroke-width="1.6"/>
<line x1="141.5" y1="705.8" x2="147.4" y2="704.7" stroke="#333" stroke-width="1.6"/>
<line x1="141.5" y1="684.0" x2="152.3" y2="681.9" stroke="#333" stroke-width="1.6"/>
<line x1="141.5" y1="662.1" x2="147.4" y2="661.0" stroke="#333" stroke-width="1.6"/>
<line x1="141.5" y1="640.2" x2="147.4" y2="639.1" stroke="#333" stroke-width="1.6"/>
<line x1="141.5" y1="618.4" x2="147.4" y2="617.3" stroke="#333" stroke-width="1.6"/>
<line x1="141.5" y1="596.5" x2="152.3" y2="594.5" stroke="#333" stroke-width="1.6"/>
<line x1="141.5" y1="574.7" x2="147.4" y2="573.6" stroke="#333" stroke-width="1.6"/>
<line x1="141.5" y1="552.8" x2="147.4" y2="551.7" stroke="#333" stroke-width="1.6"/>
<line x1="141.5" y1="530.9" x2="147.4" y2="529.8" stroke="#333" stroke-width="1.6"/>
<line x1="141.5" y1="509.1" x2="152.3" y2="507.0" stroke="#333" stroke-width="1.6"/>
<line x1="141.5" y1="487.2" x2="147.4" y2="486.1" stroke="#333" stroke-width="1.6"/>
<line x1="141.5" y1="465.4" x2="147.4" y2="464.2" stroke="#333" stroke-width="1.6"/>
<line x1="141.5" y1="443.5" x2="147.4" y2="442.4" stroke="#333" stroke-width="1.6"/>
<line x1="141.5" y1="421.6" x2="152.3" y2="419.6" stroke="#333" stroke-width="1.6"/>
<line x1="141.5" y1="399.8" x2="147.4" y2="398.7" stroke="#333" stroke-width="1.6"/>
<line x1="141.5" y1="377.9" x2="147.4" y2="376.8" stroke="#333" stroke-width="1.6"/>
<line x1="141.5" y1="356.0" x2="147.4" y2="354.9" stroke="#333" stroke-width="1.6"/>
<line x1="141.5" y1="334.2" x2="152.3" y2="332.1" stroke="#333" stroke-width="1.6"/>
<line x1="141.5" y1="312.3" x2="147.4" y2="311.2" stroke="#333" stroke-width="1.6"/>
<line x1="141.5" y1="290.5" x2="147.4" y2="289.3" stroke="#333" stroke-width="1.6"/>
<line x1="141.5" y1="268.6" x2="147.4" y2="267.5" stroke="#333" stroke-width="1.6"/>
<line x1="141.5" y1="246.7" x2="152.3" y2="244.7" stroke="#333" stroke-width="1.6"/>
<line x1="141.5" y1="224.9" x2="147.4" y2="223.8" stroke="#333" stroke-width="1.6"/>
<line x1="141.5" y1="203.0" x2="147.4" y2="201.9" stroke="#333" stroke-width="1.6"/>
<line x1="141.5" y1="181.1" x2="147.4" y2="180.0" stroke="#333" stroke-width="1.6"/>
<line x1="141.5" y1="159.3" x2="152.3" y2="157.2" stroke="#333" stroke-width="1.6"/>
<polyline points="141.5,727.7 436.6,894.7 948.0,798.5" fill="none" stroke="#000" stroke-width="3.4" stroke-linejoin="miter"/>
<line x1="141.5" y1="727.7" x2="146.9" y2="726.7" stroke="#000" stroke-width="2.4"/>
<line x1="156.3" y1="736.1" x2="160.2" y2="735.3" stroke="#000" stroke-width="2.4"/>
<line x1="171.0" y1="744.4" x2="174.9" y2="743.7" stroke="#000" stroke-width="2.4"/>
<line x1="185.8" y1="752.8" x2="189.7" y2="752.0" stroke="#000" stroke-width="2.4"/>
<line x1="200.5" y1="761.1" x2="204.5" y2="760.4" stroke="#000" stroke-width="2.4"/>
<line x1="215.3" y1="769.5" x2="220.7" y2="768.4" stroke="#000" stroke-width="2.4"/>
<line x1="230.0" y1="777.8" x2="234.0" y2="777.1" stroke="#000" stroke-width="2.4"/>
<line x1="244.8" y1="786.2" x2="248.7" y2="785.4" stroke="#000" stroke-width="2.4"/>
<line x1="259.5" y1="794.5" x2="263.5" y2="793.8" stroke="#000" stroke-width="2.4"/>
<line x1="274.3" y1="802.9" x2="278.2" y2="802.1" stroke="#000" stroke-width="2.4"/>
<line x1="289.1" y1="811.2" x2="294.5" y2="810.2" stroke="#000" stroke-width="2.4"/>
<line x1="303.8" y1="819.6" x2="307.7" y2="818.8" stroke="#000" stroke-width="2.4"/>
<line x1="318.6" y1="827.9" x2="322.5" y2="827.2" stroke="#000" stroke-width="2.4"/>
<line x1="333.3" y1="836.2" x2="337.2" y2="835.5" stroke="#000" stroke-width="2.4"/>
<line x1="348.1" y1="844.6" x2="352.0" y2="843.9" stroke="#000" stroke-width="2.4"/>
<line x1="362.8" y1="853.0" x2="368.2" y2="851.9" stroke="#000" stroke-width="2.4"/>
<line x1="377.6" y1="861.3" x2="381.5" y2="860.6" stroke="#000" stroke-width="2.4"/>
<line x1="392.3" y1="869.7" x2="396.3" y2="868.9" stroke="#000" stroke-width="2.4"/>
<line x1="407.1" y1="878.0" x2="411.0" y2="877.3" stroke="#000" stroke-width="2.4"/>
<line x1="421.8" y1="886.4" x2="425.8" y2="885.6" stroke="#000" stroke-width="2.4"/>
<line x1="436.6" y1="894.7" x2="442.0" y2="893.7" stroke="#000" stroke-width="2.4"/>
<line x1="436.6" y1="894.7" x2="431.8" y2="892.0" stroke="#000" stroke-width="2.4"/>
<line x1="462.2" y1="889.9" x2="458.7" y2="887.9" stroke="#000" stroke-width="2.4"/>
<line x1="487.7" y1="885.1" x2="484.3" y2="883.1" stroke="#000" stroke-width="2.4"/>
<line x1="513.3" y1="880.3" x2="509.8" y2="878.3" stroke="#000" stroke-width="2.4"/>
<line x1="538.9" y1="875.5" x2="535.4" y2="873.5" stroke="#000" stroke-width="2.4"/>
<line x1="564.5" y1="870.7" x2="559.7" y2="867.9" stroke="#000" stroke-width="2.4"/>
<line x1="590.0" y1="865.8" x2="586.5" y2="863.9" stroke="#000" stroke-width="2.4"/>
<line x1="615.6" y1="861.0" x2="612.1" y2="859.1" stroke="#000" stroke-width="2.4"/>
<line x1="641.2" y1="856.2" x2="637.7" y2="854.2" stroke="#000" stroke-width="2.4"/>
<line x1="666.7" y1="851.4" x2="663.2" y2="849.4" stroke="#000" stroke-width="2.4"/>
<line x1="692.3" y1="846.6" x2="687.5" y2="843.9" stroke="#000" stroke-width="2.4"/>
<line x1="717.9" y1="841.8" x2="714.4" y2="839.8" stroke="#000" stroke-width="2.4"/>
<line x1="743.4" y1="837.0" x2="740.0" y2="835.0" stroke="#000" stroke-width="2.4"/>
<line x1="769.0" y1="832.2" x2="765.5" y2="830.2" stroke="#000" stroke-width="2.4"/>
<line x1="794.6" y1="827.4" x2="791.1" y2="825.4" stroke="#000" stroke-width="2.4"/>
<line x1="820.1" y1="822.6" x2="815.4" y2="819.8" stroke="#000" stroke-width="2.4"/>
<line x1="845.7" y1="817.7" x2="842.2" y2="815.8" stroke="#000" stroke-width="2.4"/>
<line x1="871.3" y1="812.9" x2="867.8" y2="811.0" stroke="#000" stroke-width="2.4"/>
<line x1="896.9" y1="808.1" x2="893.4" y2="806.1" stroke="#000" stroke-width="2.4"/>
<line x1="922.4" y1="803.3" x2="918.9" y2="801.3" stroke="#000" stroke-width="2.4"/>
<line x1="948.0" y1="798.5" x2="943.2" y2="795.8" stroke="#000" stroke-width="2.4"/>
<path transform="matrix(1.8770 -0.3470 0.0000 -1.2000 188.20 134.00)" d="M2.00 14.00L8.00 0.00M14.00 14.00L8.00 0.00 6.00 -4.00 4.00 -6.00 2.00 -7.00 1.00 -7.00M31.00 14.00L31.00 0.00M31.00 11.00L29.00 13.00 27.00 14.00 24.00 14.00 22.00 13.00 20.00 11.00 19.00 8.00 19.00 6.00 20.00 3.00 22.00 1.00 24.00 0.00 27.00 0.00 29.00 1.00 31.00 3.00M38.00 14.00L42.00 0.00M46.00 14.00L42.00 0.00M46.00 14.00L50.00 0.00M54.00 14.00L50.00 0.00M70.00 18.00L70.00 0.00M61.00 9.00L79.00 9.00M87.00 14.00L87.00 0.00M87.00 8.00L88.00 11.00 90.00 13.00 92.00 14.00 95.00 14.00M99.00 8.00L111.00 8.00 111.00 10.00 110.00 12.00 109.00 13.00 107.00 14.00 104.00 14.00 102.00 13.00 100.00 11.00 99.00 8.00 99.00 6.00 100.00 3.00 102.00 1.00 104.00 0.00 107.00 0.00 109.00 1.00 111.00 3.00M129.00 14.00L129.00 -2.00 128.00 -5.00 127.00 -6.00 125.00 -7.00 122.00 -7.00 120.00 -6.00M129.00 11.00L127.00 13.00 125.00 14.00 122.00 14.00 120.00 13.00 118.00 11.00 117.00 8.00 117.00 6.00 118.00 3.00 120.00 1.00 122.00 0.00 125.00 0.00 127.00 1.00 129.00 3.00M137.00 14.00L137.00 4.00 138.00 1.00 140.00 0.00 143.00 0.00 145.00 1.00 148.00 4.00M148.00 14.00L148.00 0.00M156.00 21.00L156.00 0.00M175.00 14.00L175.00 0.00M175.00 11.00L173.00 13.00 171.00 14.00 168.00 14.00 166.00 13.00 164.00 11.00 163.00 8.00 163.00 6.00 164.00 3.00 166.00 1.00 168.00 0.00 171.00 0.00 173.00 1.00 175.00 3.00M183.00 14.00L183.00 0.00M183.00 8.00L184.00 11.00 186.00 13.00 188.00 14.00 191.00 14.00M223.00 21.00L223.00 0.00M223.00 11.00L221.00 13.00 219.00 14.00 216.00 14.00 214.00 13.00 212.00 11.00 211.00 8.00 211.00 6.00 212.00 3.00 214.00 1.00 216.00 0.00 219.00 0.00 221.00 1.00 223.00 3.00M242.00 14.00L242.00 0.00M242.00 11.00L240.00 13.00 238.00 14.00 235.00 14.00 233.00 13.00 231.00 11.00 230.00 8.00 230.00 6.00 231.00 3.00 233.00 1.00 235.00 0.00 238.00 0.00 240.00 1.00 242.00 3.00M251.00 21.00L251.00 4.00 252.00 1.00 254.00 0.00 256.00 0.00M248.00 14.00L255.00 14.00M273.00 14.00L273.00 0.00M273.00 11.00L271.00 13.00 269.00 14.00 266.00 14.00 264.00 13.00 262.00 11.00 261.00 8.00 261.00 6.00 262.00 3.00 264.00 1.00 266.00 0.00 269.00 0.00 271.00 1.00 273.00 3.00" fill="none" stroke="#111" stroke-width="2.4" vector-effect="non-scaling-stroke" stroke-linecap="round" stroke-linejoin="round"/>
<path transform="matrix(1.5500 -0.2868 0.0000 -1.0500 19.75 183.15)" d="M6.00 17.00L8.00 18.00 11.00 21.00 11.00 0.00M25.00 2.00L24.00 1.00 25.00 0.00 26.00 1.00 25.00 2.00M39.00 21.00L36.00 20.00 34.00 17.00 33.00 12.00 33.00 9.00 34.00 4.00 36.00 1.00 39.00 0.00 41.00 0.00 44.00 1.00 46.00 4.00 47.00 9.00 47.00 12.00 46.00 17.00 44.00 20.00 41.00 21.00 39.00 21.00M59.00 21.00L56.00 20.00 54.00 17.00 53.00 12.00 53.00 9.00 54.00 4.00 56.00 1.00 59.00 0.00 61.00 0.00 64.00 1.00 66.00 4.00 67.00 9.00 67.00 12.00 66.00 17.00 64.00 20.00 61.00 21.00 59.00 21.00" fill="none" stroke="#111" stroke-width="2.4" vector-effect="non-scaling-stroke" stroke-linecap="round" stroke-linejoin="round"/>
<path transform="matrix(1.5500 -0.2868 0.0000 -1.0500 19.75 270.60)" d="M9.00 21.00L6.00 20.00 4.00 17.00 3.00 12.00 3.00 9.00 4.00 4.00 6.00 1.00 9.00 0.00 11.00 0.00 14.00 1.00 16.00 4.00 17.00 9.00 17.00 12.00 16.00 17.00 14.00 20.00 11.00 21.00 9.00 21.00M25.00 2.00L24.00 1.00 25.00 0.00 26.00 1.00 25.00 2.00M46.00 14.00L45.00 11.00 43.00 9.00 40.00 8.00 39.00 8.00 36.00 9.00 34.00 11.00 33.00 14.00 33.00 15.00 34.00 18.00 36.00 20.00 39.00 21.00 40.00 21.00 43.00 20.00 45.00 18.00 46.00 14.00 46.00 9.00 45.00 4.00 43.00 1.00 40.00 0.00 38.00 0.00 35.00 1.00 34.00 3.00M58.00 21.00L55.00 20.00 54.00 18.00 54.00 16.00 55.00 14.00 57.00 13.00 61.00 12.00 64.00 11.00 66.00 9.00 67.00 7.00 67.00 4.00 66.00 2.00 65.00 1.00 62.00 0.00 58.00 0.00 55.00 1.00 54.00 2.00 53.00 4.00 53.00 7.00 54.00 9.00 56.00 11.00 59.00 12.00 63.00 13.00 65.00 14.00 66.00 16.00 66.00 18.00 65.00 20.00 62.00 21.00 58.00 21.00" fill="none" stroke="#111" stroke-width="2.4" vector-effect="non-scaling-stroke" stroke-linecap="round" stroke-linejoin="round"/>
<path transform="matrix(1.5500 -0.2868 0.0000 -1.0500 19.75 358.05)" d="M9.00 21.00L6.00 20.00 4.00 17.00 3.00 12.00 3.00 9.00 4.00 4.00 6.00 1.00 9.00 0.00 11.00 0.00 14.00 1.00 16.00 4.00 17.00 9.00 17.00 12.00 16.00 17.00 14.00 20.00 11.00 21.00 9.00 21.00M25.00 2.00L24.00 1.00 25.00 0.00 26.00 1.00 25.00 2.00M46.00 14.00L45.00 11.00 43.00 9.00 40.00 8.00 39.00 8.00 36.00 9.00 34.00 11.00 33.00 14.00 33.00 15.00 34.00 18.00 36.00 20.00 39.00 21.00 40.00 21.00 43.00 20.00 45.00 18.00 46.00 14.00 46.00 9.00 45.00 4.00 43.00 1.00 40.00 0.00 38.00 0.00 35.00 1.00 34.00 3.00M66.00 18.00L65.00 20.00 62.00 21.00 60.00 21.00 57.00 20.00 55.00 17.00 54.00 12.00 54.00 7.00 55.00 3.00 57.00 1.00 60.00 0.00 61.00 0.00 64.00 1.00 66.00 3.00 67.00 6.00 67.00 7.00 66.00 10.00 64.00 12.00 61.00 13.00 60.00 13.00 57.00 12.00 55.00 10.00 54.00 7.00" fill="none" stroke="#111" stroke-width="2.4" vector-effect="non-scaling-stroke" stroke-linecap="round" stroke-linejoin="round"/>
<path transform="matrix(1.5500 -0.2868 0.0000 -1.0500 19.75 445.50)" d="M9.00 21.00L6.00 20.00 4.00 17.00 3.00 12.00 3.00 9.00 4.00 4.00 6.00 1.00 9.00 0.00 11.00 0.00 14.00 1.00 16.00 4.00 17.00 9.00 17.00 12.00 16.00 17.00 14.00 20.00 11.00 21.00 9.00 21.00M25.00 2.00L24.00 1.00 25.00 0.00 26.00 1.00 25.00 2.00M46.00 14.00L45.00 11.00 43.00 9.00 40.00 8.00 39.00 8.00 36.00 9.00 34.00 11.00 33.00 14.00 33.00 15.00 34.00 18.00 36.00 20.00 39.00 21.00 40.00 21.00 43.00 20.00 45.00 18.00 46.00 14.00 46.00 9.00 45.00 4.00 43.00 1.00 40.00 0.00 38.00 0.00 35.00 1.00 34.00 3.00M63.00 21.00L53.00 7.00 68.00 7.00M63.00 21.00L63.00 0.00" fill="none" stroke="#111" stroke-width="2.4" vector-effect="non-scaling-stroke" stroke-linecap="round" stroke-linejoin="round"/>
<path transform="matrix(1.5500 -0.2868 0.0000 -1.0500 19.75 532.95)" d="M9.00 21.00L6.00 20.00 4.00 17.00 3.00 12.00 3.00 9.00 4.00 4.00 6.00 1.00 9.00 0.00 11.00 0.00 14.00 1.00 16.00 4.00 17.00 9.00 17.00 12.00 16.00 17.00 14.00 20.00 11.00 21.00 9.00 21.00M25.00 2.00L24.00 1.00 25.00 0.00 26.00 1.00 25.00 2.00M46.00 14.00L45.00 11.00 43.00 9.00 40.00 8.00 39.00 8.00 36.00 9.00 34.00 11.00 33.00 14.00 33.00 15.00 34.00 18.00 36.00 20.00 39.00 21.00 40.00 21.00 43.00 20.00 45.00 18.00 46.00 14.00 46.00 9.00 45.00 4.00 43.00 1.00 40.00 0.00 38.00 0.00 35.00 1.00 34.00 3.00M54.00 16.00L54.00 17.00 55.00 19.00 56.00 20.00 58.00 21.00 62.00 21.00 64.00 20.00 65.00 19.00 66.00 17.00 66.00 15.00 65.00 13.00 63.00 10.00 53.00 0.00 67.00 0.00" fill="none" stroke="#111" stroke-width="2.4" vector-effect="non-scaling-stroke" stroke-linecap="round" stroke-linejoin="round"/>
<path transform="matrix(1.5500 -0.2868 0.0000 -1.0500 19.75 620.40)" d="M9.00 21.00L6.00 20.00 4.00 17.00 3.00 12.00 3.00 9.00 4.00 4.00 6.00 1.00 9.00 0.00 11.00 0.00 14.00 1.00 16.00 4.00 17.00 9.00 17.00 12.00 16.00 17.00 14.00 20.00 11.00 21.00 9.00 21.00M25.00 2.00L24.00 1.00 25.00 0.00 26.00 1.00 25.00 2.00M46.00 14.00L45.00 11.00 43.00 9.00 40.00 8.00 39.00 8.00 36.00 9.00 34.00 11.00 33.00 14.00 33.00 15.00 34.00 18.00 36.00 20.00 39.00 21.00 40.00 21.00 43.00 20.00 45.00 18.00 46.00 14.00 46.00 9.00 45.00 4.00 43.00 1.00 40.00 0.00 38.00 0.00 35.00 1.00 34.00 3.00M59.00 21.00L56.00 20.00 54.00 17.00 53.00 12.00 53.00 9.00 54.00 4.00 56.00 1.00 59.00 0.00 61.00 0.00 64.00 1.00 66.00 4.00 67.00 9.00 67.00 12.00 66.00 17.00 64.00 20.00 61.00 21.00 59.00 21.00" fill="none" stroke="#111" stroke-width="2.4" vector-effect="non-scaling-stroke" stroke-linecap="round" stroke-linejoin="round"/>
<path transform="matrix(1.5500 -0.2868 0.0000 -1.0500 19.75 707.85)" d="M9.00 21.00L6.00 20.00 4.00 17.00 3.00 12.00 3.00 9.00 4.00 4.00 6.00 1.00 9.00 0.00 11.00 0.00 14.00 1.00 16.00 4.00 17.00 9.00 17.00 12.00 16.00 17.00 14.00 20.00 11.00 21.00 9.00 21.00M25.00 2.00L24.00 1.00 25.00 0.00 26.00 1.00 25.00 2.00M38.00 21.00L35.00 20.00 34.00 18.00 34.00 16.00 35.00 14.00 37.00 13.00 41.00 12.00 44.00 11.00 46.00 9.00 47.00 7.00 47.00 4.00 46.00 2.00 45.00 1.00 42.00 0.00 38.00 0.00 35.00 1.00 34.00 2.00 33.00 4.00 33.00 7.00 34.00 9.00 36.00 11.00 39.00 12.00 43.00 13.00 45.00 14.00 46.00 16.00 46.00 18.00 45.00 20.00 42.00 21.00 38.00 21.00M58.00 21.00L55.00 20.00 54.00 18.00 54.00 16.00 55.00 14.00 57.00 13.00 61.00 12.00 64.00 11.00 66.00 9.00 67.00 7.00 67.00 4.00 66.00 2.00 65.00 1.00 62.00 0.00 58.00 0.00 55.00 1.00 54.00 2.00 53.00 4.00 53.00 7.00 54.00 9.00 56.00 11.00 59.00 12.00 63.00 13.00 65.00 14.00 66.00 16.00 66.00 18.00 65.00 20.00 62.00 21.00 58.00 21.00" fill="none" stroke="#111" stroke-width="2.4" vector-effect="non-scaling-stroke" stroke-linecap="round" stroke-linejoin="round"/>
<path transform="matrix(1.4800 -0.2780 -1.2620 -0.7140 122.59 751.96)" d="M15.00 21.00L5.00 21.00 4.00 12.00 5.00 13.00 8.00 14.00 11.00 14.00 14.00 13.00 16.00 11.00 17.00 8.00 17.00 6.00 16.00 3.00 14.00 1.00 11.00 0.00 8.00 0.00 5.00 1.00 4.00 2.00 3.00 4.00" fill="none" stroke="#111" stroke-width="2.4" vector-effect="non-scaling-stroke" stroke-linecap="round" stroke-linejoin="round"/>
<path transform="matrix(1.4800 -0.2780 -1.2620 -0.7140 185.36 787.21)" d="M9.00 21.00L6.00 20.00 4.00 17.00 3.00 12.00 3.00 9.00 4.00 4.00 6.00 1.00 9.00 0.00 11.00 0.00 14.00 1.00 16.00 4.00 17.00 9.00 17.00 12.00 16.00 17.00 14.00 20.00 11.00 21.00 9.00 21.00" fill="none" stroke="#111" stroke-width="2.4" vector-effect="non-scaling-stroke" stroke-linecap="round" stroke-linejoin="round"/>
<path transform="matrix(1.4800 -0.2780 -1.2620 -0.7140 220.66 836.19)" d="M4.00 9.00L22.00 9.00M41.00 21.00L31.00 21.00 30.00 12.00 31.00 13.00 34.00 14.00 37.00 14.00 40.00 13.00 42.00 11.00 43.00 8.00 43.00 6.00 42.00 3.00 40.00 1.00 37.00 0.00 34.00 0.00 31.00 1.00 30.00 2.00 29.00 4.00" fill="none" stroke="#111" stroke-width="2.4" vector-effect="non-scaling-stroke" stroke-linecap="round" stroke-linejoin="round"/>
<path transform="matrix(1.4800 -0.2780 -1.2620 -0.7140 264.83 883.50)" d="M4.00 9.00L22.00 9.00M32.00 17.00L34.00 18.00 37.00 21.00 37.00 0.00M55.00 21.00L52.00 20.00 50.00 17.00 49.00 12.00 49.00 9.00 50.00 4.00 52.00 1.00 55.00 0.00 57.00 0.00 60.00 1.00 62.00 4.00 63.00 9.00 63.00 12.00 62.00 17.00 60.00 20.00 57.00 21.00 55.00 21.00" fill="none" stroke="#111" stroke-width="2.4" vector-effect="non-scaling-stroke" stroke-linecap="round" stroke-linejoin="round"/>
<path transform="matrix(1.4800 -0.2780 -1.2620 -0.7140 326.11 917.25)" d="M4.00 9.00L22.00 9.00M32.00 17.00L34.00 18.00 37.00 21.00 37.00 0.00M61.00 21.00L51.00 21.00 50.00 12.00 51.00 13.00 54.00 14.00 57.00 14.00 60.00 13.00 62.00 11.00 63.00 8.00 63.00 6.00 62.00 3.00 60.00 1.00 57.00 0.00 54.00 0.00 51.00 1.00 50.00 2.00 49.00 4.00" fill="none" stroke="#111" stroke-width="2.4" vector-effect="non-scaling-stroke" stroke-linecap="round" stroke-linejoin="round"/>
<path transform="matrix(1.4800 -0.2780 -1.2620 -0.7140 457.10 932.51)" d="M4.00 9.00L22.00 9.00M30.00 16.00L30.00 17.00 31.00 19.00 32.00 20.00 34.00 21.00 38.00 21.00 40.00 20.00 41.00 19.00 42.00 17.00 42.00 15.00 41.00 13.00 39.00 10.00 29.00 0.00 43.00 0.00" fill="none" stroke="#111" stroke-width="2.4" vector-effect="non-scaling-stroke" stroke-linecap="round" stroke-linejoin="round"/>
<path transform="matrix(1.4800 -0.2780 -1.2620 -0.7140 584.95 908.46)" d="M4.00 9.00L22.00 9.00M32.00 17.00L34.00 18.00 37.00 21.00 37.00 0.00" fill="none" stroke="#111" stroke-width="2.4" vector-effect="non-scaling-stroke" stroke-linecap="round" stroke-linejoin="round"/>
<path transform="matrix(1.4800 -0.2780 -1.2620 -0.7140 732.04 880.79)" d="M9.00 21.00L6.00 20.00 4.00 17.00 3.00 12.00 3.00 9.00 4.00 4.00 6.00 1.00 9.00 0.00 11.00 0.00 14.00 1.00 16.00 4.00 17.00 9.00 17.00 12.00 16.00 17.00 14.00 20.00 11.00 21.00 9.00 21.00" fill="none" stroke="#111" stroke-width="2.4" vector-effect="non-scaling-stroke" stroke-linecap="round" stroke-linejoin="round"/>
<path transform="matrix(1.4800 -0.2780 -1.2620 -0.7140 859.89 856.74)" d="M6.00 17.00L8.00 18.00 11.00 21.00 11.00 0.00" fill="none" stroke="#111" stroke-width="2.4" vector-effect="non-scaling-stroke" stroke-linecap="round" stroke-linejoin="round"/>
<path transform="matrix(1.4800 -0.2780 -1.2620 -0.7140 987.74 832.69)" d="M4.00 16.00L4.00 17.00 5.00 19.00 6.00 20.00 8.00 21.00 12.00 21.00 14.00 20.00 15.00 19.00 16.00 17.00 16.00 15.00 15.00 13.00 13.00 10.00 3.00 0.00 17.00 0.00" fill="none" stroke="#111" stroke-width="2.4" vector-effect="non-scaling-stroke" stroke-linecap="round" stroke-linejoin="round"/>
<path transform="matrix(1.3560 -0.2550 -1.1840 -0.6700 770.70 907.74)" d="M11.00 25.00L9.00 23.00 7.00 20.00 5.00 16.00 4.00 11.00 4.00 7.00 5.00 2.00 7.00 -2.00 9.00 -5.00 11.00 -7.00M29.00 21.00L29.00 0.00M29.00 11.00L27.00 13.00 25.00 14.00 22.00 14.00 20.00 13.00 18.00 11.00 17.00 8.00 17.00 6.00 18.00 3.00 20.00 1.00 22.00 0.00 25.00 0.00 27.00 1.00 29.00 3.00M36.00 8.00L48.00 8.00 48.00 10.00 47.00 12.00 46.00 13.00 44.00 14.00 41.00 14.00 39.00 13.00 37.00 11.00 36.00 8.00 36.00 6.00 37.00 3.00 39.00 1.00 41.00 0.00 44.00 0.00 46.00 1.00 48.00 3.00M66.00 14.00L66.00 -2.00 65.00 -5.00 64.00 -6.00 62.00 -7.00 59.00 -7.00 57.00 -6.00M66.00 11.00L64.00 13.00 62.00 14.00 59.00 14.00 57.00 13.00 55.00 11.00 54.00 8.00 54.00 6.00 55.00 3.00 57.00 1.00 59.00 0.00 62.00 0.00 64.00 1.00 66.00 3.00M73.00 25.00L75.00 23.00 77.00 20.00 79.00 16.00 80.00 11.00 80.00 7.00 79.00 2.00 77.00 -2.00 75.00 -5.00 73.00 -7.00" fill="none" stroke="#111" stroke-width="2.4" vector-effect="non-scaling-stroke" stroke-linecap="round" stroke-linejoin="round"/>
<path transform="matrix(1.4916 -0.2805 -1.3024 -0.7370 691.91 922.24)" d="M11.00 21.00L11.00 -7.00M8.00 14.00L5.00 13.00 3.00 11.00 2.00 8.00 2.00 6.00 3.00 3.00 5.00 1.00 8.00 0.00 14.00 0.00 17.00 1.00 19.00 3.00 20.00 6.00 20.00 8.00 19.00 11.00 17.00 13.00 14.00 14.00 8.00 14.00" fill="none" stroke="#111" stroke-width="3.2" vector-effect="non-scaling-stroke" stroke-linecap="round" stroke-linejoin="round"/>
<path transform="matrix(0.8136 -0.1530 -0.7104 -0.4020 732.14 920.10)" d="M1.00 21.00L9.00 0.00M17.00 21.00L9.00 0.00" fill="none" stroke="#111" stroke-width="2.4" vector-effect="non-scaling-stroke" stroke-linecap="round" stroke-linejoin="round"/>
<path transform="matrix(-1.0440 -0.6140 -1.5470 0.3030 150.77 850.06)" d="M11.00 25.00L9.00 23.00 7.00 20.00 5.00 16.00 4.00 11.00 4.00 7.00 5.00 2.00 7.00 -2.00 9.00 -5.00 11.00 -7.00M29.00 21.00L29.00 0.00M29.00 11.00L27.00 13.00 25.00 14.00 22.00 14.00 20.00 13.00 18.00 11.00 17.00 8.00 17.00 6.00 18.00 3.00 20.00 1.00 22.00 0.00 25.00 0.00 27.00 1.00 29.00 3.00M36.00 8.00L48.00 8.00 48.00 10.00 47.00 12.00 46.00 13.00 44.00 14.00 41.00 14.00 39.00 13.00 37.00 11.00 36.00 8.00 36.00 6.00 37.00 3.00 39.00 1.00 41.00 0.00 44.00 0.00 46.00 1.00 48.00 3.00M66.00 14.00L66.00 -2.00 65.00 -5.00 64.00 -6.00 62.00 -7.00 59.00 -7.00 57.00 -6.00M66.00 11.00L64.00 13.00 62.00 14.00 59.00 14.00 57.00 13.00 55.00 11.00 54.00 8.00 54.00 6.00 55.00 3.00 57.00 1.00 59.00 0.00 62.00 0.00 64.00 1.00 66.00 3.00M73.00 25.00L75.00 23.00 77.00 20.00 79.00 16.00 80.00 11.00 80.00 7.00 79.00 2.00 77.00 -2.00 75.00 -5.00 73.00 -7.00" fill="none" stroke="#111" stroke-width="2.4" vector-effect="non-scaling-stroke" stroke-linecap="round" stroke-linejoin="round"/>
<path transform="matrix(-1.0440 -0.6140 -1.8564 0.3636 217.58 885.21)" d="M11.00 21.00L11.00 -7.00M8.00 14.00L5.00 13.00 3.00 11.00 2.00 8.00 2.00 6.00 3.00 3.00 5.00 1.00 8.00 0.00 14.00 0.00 17.00 1.00 19.00 3.00 20.00 6.00 20.00 8.00 19.00 11.00 17.00 13.00 14.00 14.00 8.00 14.00" fill="none" stroke="#111" stroke-width="3.2" vector-effect="non-scaling-stroke" stroke-linecap="round" stroke-linejoin="round"/>
<path transform="matrix(-0.6264 -0.3684 -0.9282 0.1818 200.14 869.14)" d="M4.00 21.00L4.00 0.00M18.00 21.00L18.00 0.00M4.00 11.00L18.00 11.00" fill="none" stroke="#111" stroke-width="2.4" vector-effect="non-scaling-stroke" stroke-linecap="round" stroke-linejoin="round"/>
<text x="459" y="1046" font-size="56" text-anchor="middle"><tspan>(</tspan><tspan font-weight="bold">c</tspan><tspan>)</tspan></text>
</svg>
</body></html>
